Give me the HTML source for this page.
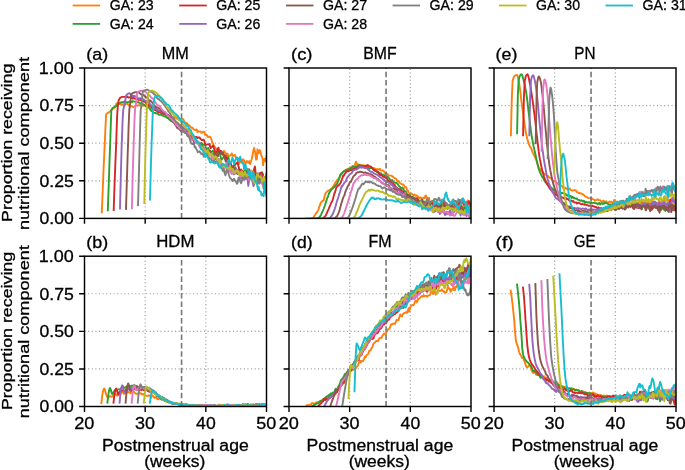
<!DOCTYPE html>
<html><head><meta charset="utf-8"><style>html,body{margin:0;padding:0;background:#fff;overflow:hidden}svg{display:block;will-change:transform}</style></head>
<body><svg width="685" height="470" viewBox="0 0 685 470" font-family="Liberation Sans, sans-serif" fill="#000">
<style>text{stroke:#000;stroke-width:0.3px}</style>
<rect width="685" height="470" fill="#fff"/>
<line x1="73.55" y1="5.5" x2="99.25" y2="5.5" stroke="#ff7f0e" stroke-width="1.8" stroke-linecap="square"/>
<text x="109.69" y="9.90" font-size="14.1" textLength="44.01" lengthAdjust="spacingAndGlyphs">GA: 23</text>
<line x1="73.55" y1="23.9" x2="99.25" y2="23.9" stroke="#2ca02c" stroke-width="1.8" stroke-linecap="square"/>
<text x="109.70" y="28.90" font-size="14.1" textLength="43.87" lengthAdjust="spacingAndGlyphs">GA: 24</text>
<line x1="180.15" y1="5.5" x2="205.85" y2="5.5" stroke="#d62728" stroke-width="1.8" stroke-linecap="square"/>
<text x="216.29" y="9.90" font-size="14.1" textLength="44.01" lengthAdjust="spacingAndGlyphs">GA: 25</text>
<line x1="180.15" y1="23.9" x2="205.85" y2="23.9" stroke="#9467bd" stroke-width="1.8" stroke-linecap="square"/>
<text x="216.29" y="28.90" font-size="14.1" textLength="44.01" lengthAdjust="spacingAndGlyphs">GA: 26</text>
<line x1="286.85" y1="5.5" x2="312.55" y2="5.5" stroke="#8c564b" stroke-width="1.8" stroke-linecap="square"/>
<text x="322.99" y="9.90" font-size="14.1" textLength="44.16" lengthAdjust="spacingAndGlyphs">GA: 27</text>
<line x1="286.85" y1="23.9" x2="312.55" y2="23.9" stroke="#e377c2" stroke-width="1.8" stroke-linecap="square"/>
<text x="322.99" y="28.90" font-size="14.1" textLength="44.01" lengthAdjust="spacingAndGlyphs">GA: 28</text>
<line x1="393.45" y1="5.5" x2="419.15" y2="5.5" stroke="#7f7f7f" stroke-width="1.8" stroke-linecap="square"/>
<text x="429.59" y="9.90" font-size="14.1" textLength="44.09" lengthAdjust="spacingAndGlyphs">GA: 29</text>
<line x1="499.95" y1="5.5" x2="525.65" y2="5.5" stroke="#bcbd22" stroke-width="1.8" stroke-linecap="square"/>
<text x="536.09" y="9.90" font-size="14.1" textLength="43.94" lengthAdjust="spacingAndGlyphs">GA: 30</text>
<line x1="606.45" y1="5.5" x2="632.15" y2="5.5" stroke="#17becf" stroke-width="1.8" stroke-linecap="square"/>
<text x="642.59" y="9.90" font-size="14.1" textLength="44.09" lengthAdjust="spacingAndGlyphs">GA: 31</text>
<clipPath id="c0"><rect x="84.5" y="68.0" width="182.0" height="150.4"/></clipPath>
<path d="M145.17 218.4V68.0M205.83 218.4V68.0M84.5 180.80H266.5M84.5 143.20H266.5M84.5 105.60H266.5" stroke="#a0a0a0" stroke-width="1.2" stroke-dasharray="1.1 2.52" fill="none"/>
<g clip-path="url(#c0)" fill="none" stroke-width="1.9" stroke-linejoin="round" stroke-linecap="square">
<path d="M101.8 212.4 L102.7 191.2 L103.5 170.8 L104.4 151.1 L104.9 140.2 L105.3 130.7 L106.1 114.6 L106.1 114.6 L107.0 113.5 L107.9 112.9 L108.7 112.4 L108.8 112.4 L109.6 111.7 L110.5 111.0 L111.3 110.3 L112.2 109.6 L112.4 108.9 L113.1 108.6 L113.9 108.3 L114.8 107.1 L115.3 107.0 L115.7 106.3 L116.5 103.5 L116.9 103.1 L117.4 103.3 L118.3 103.8 L119.1 103.8 L120.0 103.7 L120.9 104.0 L120.9 104.3 L121.7 104.5 L122.6 104.7 L123.5 104.2 L124.3 104.4 L125.1 104.8 L125.2 104.2 L126.1 103.9 L126.9 103.8 L127.8 104.1 L128.7 105.1 L129.5 105.6 L130.4 106.3 L131.3 106.4 L132.1 106.3 L132.4 106.9 L133.0 107.0 L133.9 106.7 L134.7 106.4 L135.6 105.5 L136.5 105.3 L137.3 105.7 L138.2 105.3 L139.1 105.2 L139.6 105.1 L139.9 105.3 L140.8 105.4 L141.7 105.6 L142.5 105.8 L143.4 105.6 L144.0 105.0 L144.3 105.2 L145.1 105.8 L146.0 106.1 L146.9 106.4 L147.7 107.2 L148.6 107.2 L149.5 107.1 L150.0 107.9 L150.3 108.1 L151.2 108.4 L152.1 109.0 L152.9 109.1 L153.8 109.2 L154.7 109.3 L155.0 109.3 L155.5 109.9 L156.4 110.9 L157.3 111.1 L157.6 111.1 L158.1 111.5 L159.0 112.1 L159.9 112.0 L160.7 111.8 L161.6 112.4 L162.5 113.3 L163.3 113.7 L164.2 114.1 L165.1 114.5 L165.9 114.4 L166.4 114.5 L166.8 114.5 L167.7 114.7 L168.5 115.2 L169.4 115.6 L170.3 115.7 L171.1 116.3 L172.0 117.0 L172.9 117.3 L173.7 117.3 L174.6 117.0 L175.5 117.7 L176.3 117.8 L176.3 117.7 L177.2 118.9 L178.1 119.2 L178.9 118.9 L179.8 119.2 L180.7 118.8 L181.5 118.6 L182.4 119.1 L183.3 119.2 L184.1 121.2 L184.8 122.3 L185.0 123.0 L185.9 123.9 L186.7 123.0 L187.6 124.1 L188.2 125.6 L188.5 125.2 L189.3 125.2 L190.2 126.3 L191.1 127.7 L191.9 127.7 L192.8 128.0 L193.3 129.1 L193.7 129.3 L194.5 129.6 L195.4 130.2 L196.3 129.4 L197.1 130.2 L197.5 132.2 L198.0 131.2 L198.9 131.6 L199.7 131.6 L200.6 131.5 L201.5 133.0 L202.3 132.5 L203.2 131.8 L204.1 131.8 L204.9 133.4 L205.0 134.7 L205.8 134.7 L206.7 134.8 L207.5 136.5 L208.4 137.1 L209.3 136.4 L209.7 137.1 L210.1 137.0 L211.0 137.9 L211.9 141.1 L212.7 142.9 L213.6 144.8 L214.5 147.4 L215.3 147.5 L215.5 147.5 L216.2 149.2 L217.1 149.2 L217.9 149.1 L218.8 149.2 L219.7 150.2 L219.8 153.1 L220.5 153.9 L221.4 153.0 L222.3 153.4 L223.1 151.6 L224.0 150.8 L224.9 152.2 L225.7 152.9 L226.6 155.6 L227.4 156.4 L227.5 153.6 L228.3 155.2 L229.2 155.8 L230.1 155.7 L230.9 155.2 L231.8 153.4 L232.7 155.9 L233.5 155.7 L234.4 155.6 L234.8 154.8 L235.3 155.5 L236.1 158.9 L237.0 158.2 L237.9 159.9 L238.7 163.4 L239.2 163.8 L239.6 159.5 L240.5 159.5 L241.3 162.6 L242.2 160.3 L243.1 159.3 L243.4 160.7 L243.9 160.1 L244.8 162.6 L245.7 163.6 L246.5 161.3 L247.4 161.2 L248.3 162.9 L249.1 161.2 L249.5 161.9 L250.0 164.1 L250.9 161.4 L251.7 159.2 L252.6 154.8 L253.5 150.0 L254.2 148.0 L254.3 149.6 L255.2 152.6 L256.1 159.6 L256.9 159.0 L257.4 149.3 L257.8 150.3 L258.7 153.4 L259.5 151.2 L259.8 150.1 L260.4 151.6 L261.3 155.4 L262.1 156.9 L262.9 160.4 L263.0 165.3 L263.9 160.7 L264.7 158.8 L265.6 161.2 L266.5 157.8 L266.5 156.7" stroke="#ff7f0e"/>
<path d="M107.8 210.3 L108.7 186.2 L109.5 161.8 L110.3 140.2 L110.4 136.7 L111.3 110.4 L111.3 110.1 L112.1 108.6 L113.0 107.9 L113.0 107.9 L113.9 107.3 L114.7 106.8 L115.3 106.5 L115.6 106.3 L116.5 105.7 L117.3 105.1 L118.2 104.5 L119.1 103.9 L119.9 102.9 L120.8 102.5 L120.9 102.4 L121.7 102.2 L122.5 102.3 L123.4 101.9 L124.3 101.5 L125.1 101.8 L125.1 102.0 L126.0 101.9 L126.9 102.1 L127.7 102.3 L128.6 102.3 L129.5 101.5 L130.3 101.3 L131.2 102.1 L132.1 102.3 L132.7 101.4 L132.9 101.0 L133.8 101.4 L134.7 101.6 L135.5 101.9 L136.4 102.3 L137.3 102.2 L138.1 102.2 L139.0 102.7 L139.6 103.0 L139.9 103.1 L140.7 103.5 L141.6 103.8 L142.5 103.8 L143.3 104.3 L144.2 104.9 L145.1 105.2 L145.9 106.5 L146.8 107.1 L146.9 107.0 L147.7 107.4 L148.5 107.4 L149.4 108.0 L150.3 109.6 L151.1 110.7 L152.0 111.2 L152.9 112.3 L153.7 112.7 L154.6 112.9 L155.0 113.0 L155.5 113.0 L156.3 113.3 L157.2 113.5 L158.1 113.8 L158.9 114.8 L159.8 114.9 L160.7 114.5 L161.5 115.0 L162.4 115.5 L163.3 115.7 L163.5 115.9 L164.1 116.2 L165.0 116.5 L165.9 116.8 L166.7 117.5 L167.6 118.1 L167.8 117.6 L168.5 118.4 L169.3 119.6 L170.2 120.3 L171.1 121.1 L171.9 121.3 L172.8 121.6 L173.7 122.4 L174.5 123.0 L175.4 123.7 L175.5 123.7 L176.3 124.2 L177.1 124.9 L178.0 125.0 L178.9 125.6 L179.7 126.3 L180.6 126.8 L181.5 127.8 L182.3 127.9 L183.2 128.4 L184.1 130.3 L184.6 130.5 L184.9 130.2 L185.8 131.1 L186.7 131.2 L187.5 131.0 L188.4 133.3 L189.3 134.2 L190.1 133.7 L191.0 135.1 L191.9 136.0 L192.7 137.0 L193.6 137.9 L193.7 138.4 L194.5 139.0 L195.3 139.0 L196.2 140.7 L197.1 142.2 L197.9 141.6 L198.8 142.4 L199.7 145.1 L200.5 144.6 L201.4 142.9 L202.3 143.7 L203.1 144.8 L204.0 144.8 L204.9 144.6 L205.7 147.0 L206.6 149.7 L207.5 148.5 L208.3 148.0 L209.2 150.5 L209.7 151.0 L210.1 151.7 L210.9 151.9 L211.8 152.0 L212.7 150.8 L213.5 151.3 L214.4 153.4 L215.3 151.6 L216.1 151.4 L217.0 153.0 L217.9 154.4 L218.0 153.3 L218.7 150.8 L219.6 151.4 L220.5 156.1 L221.3 159.9 L222.2 159.0 L223.1 157.8 L223.9 156.4 L224.6 155.9 L224.8 157.9 L225.7 159.6 L226.5 160.6 L227.4 158.5 L228.3 157.0 L229.1 160.4 L230.0 165.2 L230.9 166.9 L231.7 166.6 L232.6 166.8 L233.5 168.0 L234.3 168.1 L235.2 167.1 L236.1 169.2 L236.2 173.2 L236.9 173.0 L237.8 170.2 L238.7 169.0 L239.5 169.4 L240.4 170.7 L241.3 169.6 L242.1 172.1 L243.0 175.0 L243.9 171.9 L244.7 171.0 L245.6 171.3 L246.5 168.1 L247.3 172.3 L248.2 174.9 L248.3 170.7 L249.1 171.4 L249.9 175.5 L250.8 174.8 L251.7 173.2 L252.5 175.9 L253.4 176.3 L254.3 175.6 L255.1 175.6 L256.0 178.1 L256.9 177.5 L257.7 174.9 L258.6 176.8 L259.5 178.8 L260.3 180.9 L261.2 177.5 L262.1 172.3 L262.9 173.9 L263.8 182.2 L264.7 184.5 L265.5 180.1 L266.4 178.7 L266.5 173.2" stroke="#2ca02c"/>
<path d="M113.7 210.1 L114.5 186.1 L115.4 162.9 L116.3 140.4 L116.3 140.2 L117.1 116.8 L117.5 110.1 L118.0 104.2 L118.5 101.1 L118.9 99.9 L119.7 98.3 L120.0 98.1 L120.6 97.6 L121.5 97.1 L122.3 96.9 L122.6 96.9 L123.2 96.9 L124.1 96.9 L124.9 96.8 L125.8 96.9 L126.7 97.1 L127.0 96.7 L127.5 96.8 L128.4 97.6 L129.3 97.4 L130.1 97.3 L131.0 97.5 L131.9 98.0 L132.7 98.6 L132.8 97.9 L133.6 97.8 L134.5 98.6 L135.3 98.7 L136.2 98.7 L137.1 99.2 L137.9 99.0 L138.0 99.4 L138.8 100.0 L139.7 99.6 L140.5 99.8 L141.4 100.5 L142.3 100.8 L142.5 101.1 L143.1 101.6 L144.0 101.4 L144.9 101.8 L145.7 102.6 L146.6 103.5 L146.9 104.2 L147.5 104.1 L148.3 104.4 L149.2 105.7 L150.1 105.9 L150.9 106.2 L151.8 107.2 L152.7 108.3 L153.5 109.1 L154.4 109.4 L155.0 109.7 L155.3 110.2 L156.1 110.3 L157.0 110.7 L157.9 112.0 L158.7 112.1 L159.6 112.2 L160.5 112.5 L161.3 113.0 L162.2 113.5 L163.1 113.4 L163.9 113.8 L164.8 114.2 L165.7 114.6 L166.5 115.0 L167.4 114.9 L167.8 115.0 L168.3 115.3 L169.1 116.2 L170.0 117.3 L170.9 117.3 L171.7 118.2 L172.6 119.6 L173.5 119.8 L174.3 120.7 L175.2 122.1 L175.5 122.1 L176.1 122.3 L176.9 123.2 L177.8 123.8 L178.7 124.4 L179.5 125.1 L180.4 125.7 L181.3 126.3 L182.1 126.6 L183.0 127.6 L183.9 128.3 L184.6 129.1 L184.7 128.9 L185.6 129.1 L186.5 128.9 L187.3 129.9 L188.2 131.4 L189.1 131.7 L189.9 132.6 L190.8 134.7 L191.7 134.8 L192.5 134.1 L193.3 135.9 L193.4 136.4 L194.3 136.9 L195.1 137.4 L196.0 136.8 L196.9 137.2 L197.7 138.1 L198.6 137.4 L199.5 137.4 L200.3 138.6 L201.2 139.5 L202.1 140.2 L202.2 140.0 L202.9 139.7 L203.8 139.8 L204.7 142.5 L205.5 144.6 L206.4 144.6 L207.3 144.4 L208.1 144.4 L209.0 144.6 L209.7 143.9 L209.9 145.9 L210.7 148.2 L211.6 147.2 L212.5 146.0 L213.3 145.6 L214.2 149.0 L215.1 151.9 L215.9 151.6 L216.8 152.1 L217.7 148.9 L218.5 147.7 L218.6 150.1 L219.4 152.2 L220.3 150.9 L221.1 150.9 L222.0 154.1 L222.9 154.7 L223.7 154.4 L224.6 156.3 L224.6 156.1 L225.5 155.6 L226.3 158.6 L227.2 158.4 L227.7 161.5 L228.1 164.8 L228.9 162.3 L229.8 162.2 L230.7 163.0 L231.5 166.2 L232.4 168.5 L233.3 166.2 L234.1 165.3 L235.0 165.0 L235.9 163.8 L236.2 163.8 L236.7 162.9 L237.6 162.1 L238.5 166.6 L239.3 168.6 L240.2 170.4 L241.1 173.2 L241.9 171.0 L242.8 170.9 L243.7 173.4 L244.5 173.5 L245.4 171.7 L246.3 172.7 L247.1 174.3 L248.0 173.6 L248.3 172.4 L248.9 169.1 L249.7 170.5 L250.6 175.0 L251.5 176.3 L252.3 176.5 L253.2 175.3 L254.1 169.1 L254.9 166.4 L255.8 174.0 L256.7 177.4 L257.5 174.2 L258.4 175.9 L259.3 176.5 L260.1 173.0 L261.0 172.7 L261.9 173.1 L262.7 176.8 L263.6 178.1 L264.5 177.1 L265.3 179.7 L266.2 177.2 L266.5 174.6" stroke="#d62728"/>
<path d="M120.0 208.5 L120.9 173.1 L121.7 144.3 L121.9 140.2 L122.6 120.5 L123.2 110.1 L123.5 108.5 L124.3 105.2 L124.8 103.2 L125.2 101.0 L126.1 95.8 L126.1 95.7 L126.9 94.6 L127.8 93.8 L128.7 93.4 L129.3 93.3 L129.5 93.3 L130.4 93.8 L131.3 95.3 L132.1 96.2 L132.8 96.1 L133.0 95.9 L133.9 96.0 L134.7 95.9 L135.6 96.6 L136.5 96.9 L136.7 96.8 L137.3 97.1 L138.2 98.2 L139.1 98.9 L139.9 98.2 L140.8 98.3 L141.2 98.6 L141.7 98.4 L142.5 98.7 L143.4 99.4 L144.3 100.1 L145.1 100.6 L145.7 100.9 L146.0 101.0 L146.9 101.2 L147.7 101.7 L148.6 102.4 L149.5 102.8 L150.0 103.8 L150.3 104.9 L151.2 105.2 L152.1 106.0 L152.9 106.7 L153.8 107.4 L154.7 108.6 L155.0 107.7 L155.5 107.7 L156.4 109.0 L157.3 110.0 L158.1 110.2 L159.0 110.5 L159.9 110.6 L160.7 111.2 L161.6 111.6 L162.5 111.8 L163.3 112.3 L164.2 112.6 L165.1 113.5 L165.9 114.4 L166.4 114.5 L166.8 114.3 L167.7 115.0 L168.5 115.9 L169.4 116.8 L170.3 117.8 L171.1 118.6 L172.0 119.7 L172.9 120.5 L173.7 121.2 L174.6 122.1 L175.5 123.2 L175.5 123.6 L176.3 123.9 L177.2 123.9 L178.1 123.6 L178.9 125.1 L179.8 126.6 L180.7 126.3 L181.5 126.8 L182.4 127.1 L183.3 127.8 L184.1 128.8 L184.6 128.4 L185.0 129.5 L185.9 131.2 L186.7 131.8 L187.6 132.8 L188.5 133.7 L189.3 134.5 L190.2 135.5 L191.1 135.7 L191.9 136.8 L192.8 139.1 L193.7 140.9 L193.7 139.9 L194.5 140.6 L195.4 140.7 L196.3 141.9 L197.1 143.3 L198.0 141.6 L198.9 143.3 L199.7 145.4 L200.6 146.0 L201.5 146.7 L202.3 146.0 L203.2 147.2 L204.1 148.8 L204.9 148.6 L205.8 150.1 L205.8 150.7 L206.7 151.7 L207.5 152.7 L208.4 153.3 L209.3 154.9 L210.1 154.7 L211.0 154.0 L211.9 156.7 L212.7 156.2 L213.6 155.7 L214.5 158.3 L215.3 159.1 L216.2 158.8 L217.1 159.8 L217.9 162.8 L218.0 164.1 L218.8 164.4 L219.7 163.0 L220.5 163.2 L221.4 164.3 L222.3 165.2 L223.1 164.5 L224.0 164.9 L224.9 167.3 L225.7 167.0 L226.6 166.8 L227.5 166.9 L228.3 166.7 L229.2 168.6 L230.1 168.7 L230.1 170.0 L230.9 171.7 L231.8 170.9 L232.7 173.2 L233.5 174.1 L234.4 174.3 L235.3 172.1 L236.1 168.7 L237.0 173.3 L237.9 174.1 L238.7 171.0 L239.6 174.6 L240.5 178.6 L241.3 178.1 L242.2 177.3 L242.2 176.7 L243.1 175.5 L243.9 175.6 L244.8 177.2 L245.7 177.4 L246.5 173.3 L247.4 178.2 L248.3 185.9 L249.1 180.3 L250.0 176.7 L250.9 176.1 L251.7 175.7 L252.6 182.1 L253.5 186.0 L254.3 184.4 L254.4 178.3 L255.2 176.8 L256.1 180.3 L256.9 175.2 L257.8 173.2 L258.7 177.1 L259.5 178.1 L260.4 175.5 L261.3 175.3 L262.1 178.9 L263.0 179.3 L263.9 181.1 L264.7 179.5 L265.6 180.4 L266.5 181.4 L266.5 181.3" stroke="#9467bd"/>
<path d="M126.0 208.9 L126.9 180.3 L127.7 153.5 L128.2 140.2 L128.6 126.8 L129.3 110.1 L129.5 108.4 L130.3 103.2 L130.3 103.0 L131.2 94.8 L131.2 94.8 L132.1 93.6 L132.9 93.0 L133.0 93.0 L133.8 92.6 L134.7 92.3 L135.5 92.1 L136.1 92.1 L136.4 92.1 L137.3 92.1 L138.1 92.3 L139.0 92.4 L139.9 93.4 L140.7 94.1 L141.2 94.4 L141.6 94.6 L142.5 94.8 L143.3 95.3 L144.2 95.5 L145.1 96.5 L145.7 97.2 L145.9 97.1 L146.8 97.6 L147.7 98.3 L148.5 99.5 L149.4 100.7 L150.2 101.1 L150.3 100.5 L151.1 101.3 L152.0 102.2 L152.9 103.4 L153.7 104.7 L154.6 105.9 L155.0 106.1 L155.5 106.5 L156.3 107.4 L157.2 107.4 L158.1 108.0 L158.9 108.1 L159.8 108.6 L160.7 109.9 L161.5 110.9 L162.4 111.6 L163.3 111.9 L163.5 112.0 L164.1 112.4 L165.0 113.5 L165.9 113.9 L166.7 114.6 L167.6 115.4 L168.5 116.2 L169.3 117.6 L170.2 118.3 L171.1 119.2 L171.9 120.3 L172.0 120.8 L172.8 121.7 L173.7 122.4 L174.5 123.2 L175.4 125.0 L176.3 126.3 L176.3 126.4 L177.1 127.8 L178.0 128.5 L178.9 128.9 L179.7 129.4 L180.6 130.6 L181.5 131.5 L182.3 131.4 L183.2 131.6 L184.1 132.0 L184.6 132.4 L184.9 132.8 L185.8 132.2 L186.7 133.6 L187.5 135.8 L188.4 136.5 L189.3 136.0 L190.1 136.4 L191.0 138.0 L191.9 139.2 L192.7 140.2 L193.6 139.7 L193.7 140.5 L194.5 142.9 L195.3 142.6 L196.2 140.6 L197.1 141.7 L197.9 143.4 L198.8 143.1 L199.7 143.6 L200.5 143.4 L201.4 145.3 L202.3 147.3 L203.1 147.9 L204.0 150.0 L204.9 150.1 L205.7 149.3 L205.8 149.4 L206.6 150.0 L207.5 149.7 L208.3 151.2 L209.2 151.2 L210.1 150.7 L210.9 152.4 L211.8 153.5 L212.7 155.0 L213.5 154.2 L214.4 154.7 L215.3 154.5 L215.5 152.5 L216.1 154.7 L217.0 156.8 L217.9 156.4 L218.7 154.2 L219.6 153.5 L219.8 153.7 L220.5 152.9 L221.3 152.5 L222.2 152.8 L222.8 152.7 L223.1 152.7 L223.9 154.9 L224.8 157.9 L225.7 161.4 L226.5 160.5 L226.5 161.0 L227.4 164.6 L228.3 167.4 L229.1 168.7 L230.0 169.5 L230.1 167.5 L230.9 165.4 L231.7 167.3 L232.6 168.6 L233.5 168.7 L234.3 169.9 L235.2 170.9 L236.1 170.1 L236.9 173.4 L237.8 173.5 L238.7 173.1 L239.5 174.6 L240.4 173.3 L241.3 172.9 L242.1 174.7 L242.2 175.0 L243.0 179.5 L243.9 179.6 L244.7 173.3 L245.6 174.7 L246.5 175.8 L247.3 175.8 L248.2 175.4 L249.1 176.0 L249.9 176.5 L250.8 175.1 L251.7 174.3 L252.5 173.7 L253.4 173.4 L254.3 175.4 L254.4 177.8 L255.1 178.0 L256.0 178.7 L256.9 183.7 L257.7 183.5 L258.6 179.7 L259.5 180.2 L260.3 180.9 L261.2 182.4 L262.1 181.9 L262.9 184.2 L263.8 188.7 L264.7 183.2 L265.5 182.2 L266.4 187.6 L266.5 189.6" stroke="#8c564b"/>
<path d="M131.9 208.2 L132.7 175.2 L133.6 146.5 L133.8 140.2 L134.5 120.0 L135.0 110.1 L135.3 107.3 L136.1 103.2 L136.2 101.7 L137.0 93.3 L137.1 93.1 L137.9 92.0 L138.8 91.4 L139.7 91.1 L139.9 91.0 L140.5 90.9 L141.4 90.8 L142.3 90.7 L142.5 90.7 L143.1 91.2 L144.0 91.5 L144.9 91.6 L145.7 91.9 L145.7 92.1 L146.6 92.7 L147.5 93.9 L148.3 95.2 L149.2 95.1 L149.5 95.1 L150.1 96.1 L150.9 97.2 L151.8 98.0 L152.7 98.5 L153.4 99.4 L153.5 99.7 L154.4 100.9 L155.3 102.1 L156.1 103.2 L156.1 103.5 L157.0 104.8 L157.9 105.2 L158.7 105.5 L159.3 105.9 L159.6 106.2 L160.5 107.3 L161.3 108.8 L162.2 109.7 L163.1 110.8 L163.9 111.4 L164.8 111.6 L165.7 112.6 L166.5 113.8 L167.4 115.1 L167.8 115.8 L168.3 116.1 L169.1 116.8 L170.0 117.7 L170.9 118.3 L171.7 119.4 L172.6 120.4 L173.5 121.0 L174.3 122.1 L175.2 123.1 L176.1 124.5 L176.3 125.2 L176.9 125.1 L177.8 124.9 L178.7 126.2 L179.5 128.3 L180.4 129.0 L181.3 129.2 L182.1 129.9 L183.0 130.8 L183.9 130.3 L184.6 130.3 L184.7 131.4 L185.6 132.9 L186.5 133.7 L187.3 133.3 L188.2 133.0 L189.1 134.6 L189.9 137.0 L190.8 138.8 L191.7 139.7 L192.5 139.7 L193.4 139.3 L193.7 139.3 L194.3 140.0 L195.1 141.6 L196.0 142.7 L196.9 142.6 L197.7 143.1 L198.6 144.9 L199.5 146.6 L200.3 148.0 L201.2 148.5 L202.1 148.5 L202.9 148.8 L203.8 148.3 L204.7 148.4 L205.5 150.7 L205.8 152.0 L206.4 153.0 L207.3 155.2 L208.1 155.4 L209.0 155.6 L209.9 155.7 L210.7 154.8 L211.6 155.2 L212.5 158.0 L213.3 159.4 L214.2 160.4 L215.1 163.1 L215.9 162.6 L216.8 160.8 L217.7 162.0 L218.0 161.4 L218.5 158.9 L219.4 159.1 L220.3 162.6 L221.1 164.3 L222.0 164.3 L222.9 165.5 L223.7 167.2 L224.6 168.7 L225.5 165.1 L226.3 162.9 L227.2 165.1 L228.1 169.5 L228.9 171.9 L229.8 169.2 L230.1 169.0 L230.7 171.9 L231.5 173.8 L232.4 172.2 L233.3 170.1 L234.1 170.9 L235.0 171.7 L235.9 170.5 L236.7 170.2 L237.6 172.7 L238.5 172.1 L239.3 172.9 L240.2 177.4 L241.1 176.1 L241.9 174.1 L242.2 173.6 L242.8 175.5 L243.7 180.3 L244.5 179.2 L245.4 175.7 L246.3 177.0 L247.1 177.9 L248.0 177.6 L248.9 179.9 L249.7 179.2 L250.6 178.8 L251.5 180.0 L252.3 178.6 L253.2 177.2 L254.1 176.6 L254.4 177.3 L254.9 179.2 L255.8 179.0 L256.7 179.3 L257.5 179.8 L258.4 181.6 L259.3 183.4 L260.1 181.3 L261.0 181.6 L261.9 183.5 L262.7 185.0 L263.6 181.6 L264.5 180.9 L265.3 181.9 L266.2 180.8 L266.5 183.8" stroke="#e377c2"/>
<path d="M138.0 205.2 L138.9 174.1 L139.7 143.3 L139.8 140.2 L140.6 111.1 L140.7 110.1 L141.5 105.3 L141.8 103.2 L142.3 96.0 L142.7 92.1 L143.2 91.3 L144.1 90.6 L144.6 90.4 L144.9 90.3 L145.8 90.0 L146.7 89.8 L147.3 89.8 L147.5 89.8 L148.4 90.1 L149.3 90.9 L150.1 91.1 L150.8 91.6 L151.0 92.0 L151.9 92.0 L152.7 92.6 L153.6 93.8 L154.5 94.7 L154.7 94.4 L155.3 95.0 L156.2 96.4 L157.1 97.9 L157.9 99.0 L158.5 98.7 L158.8 99.0 L159.7 100.3 L160.5 100.6 L161.4 101.6 L162.3 102.4 L162.4 102.3 L163.1 103.5 L164.0 104.6 L164.9 105.6 L165.7 107.0 L166.6 108.3 L167.5 109.8 L168.3 111.2 L169.2 111.9 L170.1 113.4 L170.9 115.1 L171.8 116.6 L172.0 117.0 L172.7 117.6 L173.5 118.3 L174.4 119.4 L175.3 120.8 L176.1 121.7 L177.0 122.3 L177.9 123.2 L178.7 124.5 L179.6 124.7 L180.5 125.6 L180.5 126.5 L181.3 127.6 L182.2 128.9 L183.1 129.5 L183.9 130.8 L184.8 132.6 L184.8 132.7 L185.7 133.2 L186.5 133.4 L187.3 135.0 L187.4 135.5 L188.3 135.5 L189.1 136.8 L190.0 140.0 L190.9 142.4 L191.7 143.7 L192.6 144.0 L193.5 143.0 L194.3 145.2 L194.8 147.3 L195.2 146.7 L196.1 148.5 L196.9 149.9 L197.8 152.2 L198.7 151.9 L199.5 151.3 L200.4 152.8 L200.7 153.0 L201.3 154.0 L202.1 153.3 L203.0 154.4 L203.9 156.7 L204.7 155.0 L205.6 152.7 L206.5 153.5 L207.3 155.1 L208.2 157.0 L209.1 158.0 L209.7 158.2 L209.9 158.2 L210.8 158.6 L211.7 160.2 L212.5 161.5 L213.4 161.5 L214.3 160.5 L215.1 161.5 L216.0 162.1 L216.9 161.7 L217.7 160.5 L218.0 160.5 L218.6 165.3 L219.5 167.0 L220.3 166.3 L221.2 165.7 L222.1 169.0 L222.9 170.9 L223.8 169.1 L224.7 173.4 L225.5 175.3 L226.4 170.7 L227.1 168.9 L227.3 170.1 L228.1 172.0 L229.0 175.2 L229.9 177.8 L230.7 178.4 L231.6 179.4 L232.5 181.1 L233.3 179.5 L234.2 178.8 L235.1 180.8 L235.9 181.6 L236.2 181.5 L236.8 183.8 L237.7 182.7 L238.5 177.6 L239.4 178.5 L240.3 181.8 L241.1 183.2 L242.0 180.4 L242.9 176.8 L243.7 179.1 L244.6 175.6 L245.3 173.2 L245.5 179.3 L246.3 178.5 L247.2 175.9 L248.1 176.7 L248.9 177.1 L249.8 177.7 L250.7 178.1 L251.5 178.0 L252.4 177.0 L253.3 176.9 L254.1 181.2 L254.4 181.9 L255.0 178.2 L255.9 182.3 L256.7 182.4 L257.6 176.8 L258.5 181.8 L259.3 183.5 L260.2 181.2 L261.1 182.2 L261.9 180.0 L262.8 179.5 L263.7 184.8 L264.5 188.7 L265.4 189.6 L266.3 186.8 L266.5 185.1" stroke="#7f7f7f"/>
<path d="M144.3 203.1 L145.2 162.6 L145.8 140.2 L146.1 130.7 L146.8 110.1 L146.9 108.2 L147.3 103.2 L147.8 96.9 L148.3 92.8 L148.7 92.4 L149.5 91.5 L150.4 90.9 L151.3 90.7 L151.5 90.7 L152.1 90.8 L153.0 91.0 L153.9 91.4 L154.7 91.8 L154.7 91.8 L155.6 92.3 L156.5 93.0 L157.3 93.7 L158.2 94.5 L158.5 94.9 L159.1 95.7 L159.9 96.5 L160.8 97.6 L161.7 98.8 L162.4 99.2 L162.5 99.6 L163.4 101.7 L164.3 102.8 L165.1 103.1 L166.0 104.5 L166.9 106.9 L167.7 108.4 L167.8 107.8 L168.6 108.3 L169.5 109.9 L170.3 111.1 L171.2 111.7 L172.1 112.6 L172.9 113.8 L173.8 115.0 L174.7 115.9 L175.5 116.3 L176.3 117.0 L176.4 117.1 L177.3 117.4 L178.1 118.9 L179.0 120.3 L179.9 120.7 L180.7 121.1 L181.6 122.7 L182.5 123.9 L183.3 124.4 L184.2 126.0 L184.8 126.9 L185.1 127.0 L185.9 127.9 L186.8 128.7 L187.7 129.4 L188.5 130.5 L189.4 131.6 L190.3 133.5 L191.1 134.4 L192.0 133.8 L192.9 135.7 L193.7 138.0 L193.7 137.5 L194.6 138.2 L195.5 139.1 L196.3 140.5 L197.2 141.1 L198.1 142.0 L198.9 143.6 L199.8 144.7 L200.7 146.2 L201.5 146.6 L202.4 147.4 L203.3 149.7 L204.1 150.7 L205.0 151.4 L205.8 151.3 L205.9 152.0 L206.7 152.1 L207.6 149.9 L208.5 152.6 L209.3 155.7 L210.2 154.3 L211.1 153.5 L211.9 154.5 L212.8 155.5 L213.7 157.9 L214.5 158.1 L215.4 156.3 L216.3 157.0 L217.1 159.4 L218.0 159.9 L218.0 161.1 L218.9 164.6 L219.7 162.4 L220.6 160.8 L221.5 163.4 L222.3 166.0 L223.2 164.2 L224.1 164.5 L224.9 167.4 L225.8 166.1 L226.7 167.1 L227.5 168.1 L228.4 168.7 L229.3 168.4 L230.1 166.5 L230.1 165.7 L231.0 169.2 L231.9 169.3 L232.7 168.7 L233.6 172.4 L234.5 173.4 L235.3 172.2 L236.2 171.5 L237.1 170.3 L237.9 171.0 L238.8 173.8 L239.7 175.2 L240.5 173.3 L241.4 171.4 L242.2 171.7 L242.3 172.6 L243.1 176.2 L244.0 174.6 L244.9 171.6 L245.7 174.0 L246.6 176.3 L247.5 174.8 L248.3 174.1 L249.2 175.4 L250.1 175.5 L250.9 174.9 L251.8 170.5 L252.7 175.8 L253.5 182.0 L254.4 180.6 L254.4 183.5 L255.3 182.5 L256.1 178.3 L257.0 174.4 L257.9 174.0 L258.7 176.6 L259.6 176.9 L260.5 176.9 L261.3 178.1 L262.2 182.2 L263.1 180.4 L263.9 176.7 L264.8 180.2 L265.7 183.2 L266.5 184.2" stroke="#bcbd22"/>
<path d="M150.0 199.6 L150.9 166.4 L151.7 140.2 L151.8 139.2 L152.6 116.8 L153.0 110.1 L153.5 104.6 L153.7 103.2 L154.4 98.3 L154.6 97.6 L155.2 96.9 L156.1 96.2 L157.0 95.9 L157.3 95.8 L157.8 95.9 L158.7 96.2 L159.6 96.8 L160.4 97.5 L161.1 98.2 L161.3 97.8 L162.2 99.2 L163.0 100.2 L163.9 101.3 L164.0 101.5 L164.8 102.0 L165.6 102.9 L166.5 104.2 L167.4 104.6 L167.8 104.7 L168.2 104.9 L169.1 105.7 L170.0 107.2 L170.8 109.1 L171.7 110.3 L172.0 110.3 L172.6 110.9 L173.4 111.8 L174.3 112.8 L175.2 113.7 L176.0 114.3 L176.3 114.6 L176.9 115.1 L177.8 116.0 L178.6 117.5 L179.5 118.5 L180.4 119.3 L180.5 120.0 L181.2 120.6 L182.1 121.1 L183.0 122.0 L183.8 122.3 L184.7 122.4 L184.8 122.7 L185.6 124.3 L186.4 125.7 L187.3 126.2 L188.2 126.6 L189.0 128.1 L189.0 128.7 L189.9 129.6 L190.8 130.1 L191.6 131.9 L191.6 133.1 L192.5 134.4 L193.4 135.2 L194.2 137.3 L194.8 138.7 L195.1 137.6 L196.0 138.7 L196.8 141.7 L197.7 142.8 L198.6 142.8 L199.4 143.5 L200.3 146.6 L201.2 149.4 L202.0 149.4 L202.9 150.7 L203.8 152.4 L204.6 154.8 L205.2 157.0 L205.5 154.3 L206.4 153.8 L207.2 156.7 L208.1 158.1 L209.0 159.7 L209.7 161.0 L209.8 162.2 L210.7 162.7 L211.6 161.7 L212.4 161.8 L213.3 162.6 L214.2 163.4 L215.0 163.2 L215.9 163.0 L216.8 162.1 L217.6 162.6 L218.5 165.5 L219.4 166.7 L219.8 167.5 L220.2 167.9 L221.1 166.9 L222.0 164.4 L222.8 163.9 L223.7 164.7 L224.6 165.5 L225.4 166.0 L226.3 166.5 L227.2 165.4 L228.0 160.8 L228.9 160.1 L229.8 162.3 L230.1 164.1 L230.6 163.2 L231.5 161.3 L232.4 157.5 L233.2 159.6 L234.1 164.0 L235.0 160.8 L235.8 159.6 L236.7 157.5 L237.6 157.6 L238.0 160.0 L238.4 160.8 L239.3 159.2 L240.2 156.7 L241.0 159.7 L241.9 162.9 L242.8 162.5 L243.6 165.2 L244.1 169.2 L244.5 165.9 L245.4 164.0 L246.2 168.7 L247.1 168.8 L248.0 169.9 L248.8 174.7 L249.5 174.1 L249.7 171.2 L250.6 173.8 L251.4 179.8 L252.3 175.3 L253.2 171.7 L254.0 176.7 L254.9 180.4 L255.8 181.9 L256.6 181.6 L257.5 187.1 L258.4 190.3 L258.6 186.8 L259.2 190.1 L260.1 191.5 L261.0 192.0 L261.6 195.6 L261.8 194.0 L262.7 194.2 L263.6 196.1 L264.4 187.8 L264.7 182.0 L265.3 187.9 L266.2 195.7 L266.5 195.3" stroke="#17becf"/>
</g>
<line x1="181.57" y1="218.4" x2="181.57" y2="68.0" stroke="#777" stroke-width="1.6" stroke-dasharray="5.5 2.8"/>
<rect x="84.5" y="68.0" width="182.0" height="150.4" fill="none" stroke="#000" stroke-width="1.45"/>
<path d="M84.50 218.4v5.4M145.17 218.4v5.4M205.83 218.4v5.4M266.50 218.4v5.4M84.5 218.40h-5.4M84.5 180.80h-5.4M84.5 143.20h-5.4M84.5 105.60h-5.4M84.5 68.00h-5.4" stroke="#000" stroke-width="1.4" fill="none"/>
<text x="39.50" y="224.15" font-size="16.6" textLength="34.24" lengthAdjust="spacingAndGlyphs">0.00</text>
<text x="39.49" y="186.55" font-size="16.6" textLength="34.33" lengthAdjust="spacingAndGlyphs">0.25</text>
<text x="39.50" y="148.95" font-size="16.6" textLength="34.24" lengthAdjust="spacingAndGlyphs">0.50</text>
<text x="39.49" y="111.35" font-size="16.6" textLength="34.33" lengthAdjust="spacingAndGlyphs">0.75</text>
<text x="38.86" y="73.75" font-size="16.6" textLength="34.90" lengthAdjust="spacingAndGlyphs">1.00</text>
<text x="86.23" y="60.20" font-size="16.2" textLength="21.89" lengthAdjust="spacingAndGlyphs">(a)</text>
<text x="161.70" y="58.90" font-size="17.2" textLength="27.01" lengthAdjust="spacingAndGlyphs">MM</text>
<clipPath id="c1"><rect x="289.0" y="68.0" width="182.0" height="150.4"/></clipPath>
<path d="M349.67 218.4V68.0M410.33 218.4V68.0M289.0 180.80H471.0M289.0 143.20H471.0M289.0 105.60H471.0" stroke="#a0a0a0" stroke-width="1.2" stroke-dasharray="1.1 2.52" fill="none"/>
<g clip-path="url(#c1)" fill="none" stroke-width="1.9" stroke-linejoin="round" stroke-linecap="square">
<path d="M306.3 218.4 L307.2 218.4 L308.0 218.4 L308.9 218.4 L309.8 218.4 L310.2 218.4 L310.6 218.4 L311.5 218.3 L312.4 218.1 L313.2 217.8 L313.3 217.8 L314.1 216.6 L314.9 214.9 L315.0 214.9 L315.8 213.7 L316.7 212.6 L317.6 211.4 L318.0 210.6 L318.4 209.5 L319.3 206.6 L320.2 204.6 L320.4 203.5 L321.0 202.4 L321.9 201.7 L322.8 200.7 L323.5 200.5 L323.6 200.4 L324.5 196.8 L325.4 193.6 L326.2 192.3 L326.6 192.1 L327.1 191.5 L328.0 190.9 L328.8 190.5 L329.1 190.2 L329.7 190.0 L330.6 189.5 L331.4 188.6 L331.5 189.0 L332.3 188.3 L333.2 186.4 L334.0 185.0 L334.6 184.5 L334.9 183.6 L335.8 182.1 L336.6 180.9 L337.5 179.7 L337.7 179.6 L338.4 179.0 L339.2 177.8 L340.1 176.5 L340.8 175.0 L341.0 173.8 L341.8 172.9 L342.7 172.3 L343.6 171.7 L344.4 170.8 L344.8 170.9 L345.3 171.1 L346.2 169.7 L347.0 169.3 L347.9 169.8 L348.8 168.9 L349.2 168.2 L349.6 168.5 L350.5 167.6 L351.4 166.9 L352.2 166.2 L352.7 166.0 L353.1 166.1 L354.0 166.1 L354.8 165.4 L354.8 165.4 L355.7 162.9 L356.0 161.6 L356.6 162.9 L357.2 164.9 L357.4 164.3 L358.3 164.3 L359.2 164.6 L360.0 164.9 L360.9 164.8 L361.8 164.9 L362.6 165.7 L363.5 165.8 L364.4 165.7 L364.5 165.5 L365.2 165.6 L366.1 166.2 L367.0 166.0 L367.8 166.7 L368.7 166.9 L369.6 166.9 L370.4 167.5 L371.3 167.9 L372.2 168.0 L373.0 167.9 L373.0 167.9 L373.9 168.2 L374.8 168.6 L375.6 169.1 L376.5 169.4 L377.4 168.9 L378.2 169.6 L379.1 169.2 L380.0 168.8 L380.0 169.9 L380.8 170.4 L381.7 170.5 L382.6 170.4 L383.4 170.6 L384.3 172.0 L385.2 173.3 L386.0 173.3 L386.1 173.0 L386.9 173.8 L387.8 174.4 L388.6 175.5 L389.5 175.6 L390.4 175.6 L391.2 175.6 L391.9 175.8 L392.1 176.5 L393.0 176.7 L393.8 177.4 L394.7 178.4 L395.6 178.5 L396.4 179.3 L397.3 181.0 L398.2 181.2 L399.0 181.4 L399.4 182.7 L399.9 182.9 L400.8 183.6 L401.6 184.2 L402.5 184.5 L403.4 184.5 L404.2 185.9 L405.1 187.7 L406.0 187.0 L406.7 188.6 L406.8 189.7 L407.7 190.4 L408.6 192.4 L409.4 193.8 L410.0 194.6 L410.3 194.0 L411.2 193.4 L412.0 193.8 L412.9 194.7 L413.8 195.5 L414.6 194.6 L415.5 195.6 L415.8 195.9 L416.4 195.3 L417.2 196.0 L418.1 196.4 L419.0 197.9 L419.4 198.4 L419.8 197.8 L420.7 197.4 L421.6 198.2 L422.4 199.2 L423.3 197.6 L424.2 197.5 L425.0 198.2 L425.2 196.2 L425.9 195.5 L426.8 197.4 L427.6 198.5 L428.5 198.4 L429.0 197.7 L429.4 200.4 L430.2 202.3 L431.1 202.1 L432.0 202.6 L432.8 201.4 L433.7 202.5 L434.6 203.0 L435.4 201.9 L436.3 203.3 L437.2 205.1 L437.6 205.4 L438.0 206.3 L438.9 207.9 L439.8 208.0 L440.6 209.8 L441.5 212.2 L442.4 211.9 L443.2 209.5 L443.7 209.2 L444.1 212.9 L445.0 214.7 L445.8 213.2 L446.7 213.3 L447.6 212.8 L447.9 211.9 L448.4 213.5 L449.3 212.2 L450.2 212.2 L451.0 212.2 L451.9 212.5 L452.8 212.3 L453.6 209.1 L454.5 207.8 L455.4 209.3 L456.2 210.6 L457.1 210.0 L457.4 211.0 L458.0 212.2 L458.8 212.1 L459.7 208.3 L460.6 205.8 L461.4 207.7 L462.3 208.3 L463.2 205.7 L464.0 205.0 L464.9 205.1 L465.8 204.8 L466.6 205.3 L466.8 203.6 L467.5 200.5 L468.4 202.7 L469.2 202.7 L470.1 203.2 L471.0 205.9 L471.0 203.9" stroke="#ff7f0e"/>
<path d="M312.3 218.4 L313.2 218.4 L314.0 218.4 L314.9 218.4 L315.8 218.4 L316.6 218.4 L316.9 218.4 L317.5 218.3 L318.4 217.9 L319.2 217.3 L319.8 216.7 L320.1 216.4 L321.0 214.9 L321.8 213.0 L322.3 211.9 L322.7 211.1 L323.6 209.0 L324.4 206.8 L324.8 205.8 L325.3 204.3 L326.2 201.4 L327.0 198.7 L327.2 198.4 L327.9 196.7 L328.8 194.0 L329.6 192.2 L329.7 192.2 L330.5 191.0 L331.4 189.1 L331.5 188.9 L332.2 188.8 L333.1 188.1 L334.0 187.1 L334.6 186.8 L334.8 186.4 L335.7 185.3 L336.6 184.5 L337.4 183.2 L337.7 181.9 L338.3 180.7 L339.2 178.4 L340.0 175.6 L340.8 173.9 L340.9 174.2 L341.8 173.7 L342.6 172.6 L343.5 171.6 L344.4 170.9 L344.8 171.0 L345.2 170.4 L346.1 170.1 L347.0 169.9 L347.8 169.3 L348.7 169.2 L349.2 169.1 L349.6 168.7 L350.4 168.3 L351.3 168.1 L352.2 167.5 L353.0 166.7 L353.9 166.7 L354.8 167.0 L355.6 166.8 L356.5 166.5 L357.4 166.1 L358.2 165.6 L359.1 165.0 L360.0 165.5 L360.8 166.1 L361.1 165.9 L361.7 165.9 L362.6 166.0 L363.4 165.7 L364.3 166.0 L365.2 166.7 L366.0 167.4 L366.9 167.2 L367.8 167.3 L367.9 167.9 L368.6 168.6 L369.5 168.7 L370.4 168.0 L371.2 168.0 L372.1 168.1 L373.0 169.1 L373.8 169.9 L373.9 170.2 L374.7 170.8 L375.6 170.8 L376.4 171.5 L377.3 172.2 L378.2 172.3 L379.0 172.6 L379.9 173.3 L380.0 173.3 L380.8 173.2 L381.6 174.2 L382.5 175.1 L383.4 174.7 L384.2 175.1 L385.1 175.8 L386.0 176.4 L386.1 176.4 L386.8 176.2 L387.7 176.8 L388.6 177.8 L389.4 178.7 L390.3 180.1 L391.2 180.3 L392.0 180.0 L392.9 181.0 L393.8 182.4 L394.6 182.7 L395.5 182.6 L396.4 182.7 L397.2 183.6 L398.1 184.7 L398.2 184.7 L399.0 186.1 L399.8 186.7 L400.7 187.7 L401.6 188.9 L402.4 187.6 L403.3 188.9 L404.2 191.0 L405.0 191.1 L405.9 191.6 L406.8 193.7 L407.6 195.3 L408.5 195.1 L409.4 195.2 L410.2 195.1 L410.3 195.8 L411.1 197.5 L412.0 196.6 L412.8 196.9 L413.7 198.2 L414.6 197.8 L415.4 198.7 L416.3 198.5 L417.2 198.4 L418.0 200.6 L418.9 201.4 L419.8 201.5 L420.6 201.7 L421.5 199.9 L422.4 199.7 L422.5 202.1 L423.2 201.9 L424.1 201.5 L425.0 203.7 L425.8 204.8 L426.7 203.2 L427.6 202.6 L428.4 203.0 L429.3 203.4 L430.2 203.9 L431.0 203.3 L431.9 203.5 L432.8 204.1 L433.6 203.8 L434.5 203.5 L434.6 203.5 L435.4 202.9 L436.2 202.1 L437.1 201.9 L438.0 203.5 L438.8 205.0 L439.7 204.8 L440.6 205.2 L441.4 205.4 L442.3 202.2 L443.2 202.0 L444.0 204.8 L444.9 206.5 L445.8 206.3 L446.6 205.9 L446.7 207.6 L447.5 208.7 L448.4 207.4 L449.2 207.5 L450.1 207.2 L451.0 206.9 L451.8 207.9 L452.7 209.5 L453.6 210.3 L454.4 208.4 L455.3 207.9 L456.2 206.6 L457.0 205.5 L457.9 206.7 L458.8 207.8 L458.9 208.0 L459.6 208.5 L460.5 208.8 L461.4 207.2 L462.2 209.2 L463.1 211.1 L464.0 207.7 L464.8 207.1 L465.7 208.6 L466.6 211.1 L467.4 211.7 L468.3 209.2 L469.2 207.2 L470.0 208.5 L470.9 209.9 L471.0 212.1" stroke="#2ca02c"/>
<path d="M318.2 218.4 L319.0 218.4 L319.9 218.4 L320.8 218.4 L321.6 218.4 L322.4 218.4 L322.5 218.4 L323.4 218.0 L324.2 217.3 L324.8 216.7 L325.1 216.4 L326.0 215.0 L326.8 213.2 L327.7 211.2 L328.5 209.4 L328.6 209.2 L329.4 207.2 L330.3 205.0 L331.2 202.8 L331.5 202.1 L332.0 201.6 L332.9 199.4 L333.8 195.7 L334.6 192.8 L334.6 193.5 L335.5 190.4 L336.4 187.5 L336.5 187.5 L337.2 186.5 L338.1 185.6 L339.0 185.2 L339.0 184.8 L339.8 184.0 L340.7 182.8 L341.6 180.1 L342.0 179.3 L342.4 178.0 L343.3 175.4 L343.3 176.5 L344.2 175.0 L345.0 173.4 L345.8 172.8 L345.9 172.2 L346.8 171.1 L347.6 171.2 L348.5 171.4 L349.4 170.6 L350.2 169.9 L351.1 170.2 L352.0 170.1 L352.8 169.2 L353.7 168.8 L354.6 168.4 L355.4 168.5 L356.0 168.7 L356.3 168.0 L357.2 167.8 L358.0 168.1 L358.9 167.2 L359.8 166.4 L360.6 166.4 L361.5 166.2 L362.4 166.4 L363.2 166.2 L364.1 166.2 L365.0 166.5 L365.8 166.2 L366.7 165.5 L367.6 165.0 L367.9 165.2 L368.4 165.4 L369.3 166.3 L370.2 166.5 L371.0 166.7 L371.9 167.7 L372.8 168.4 L373.6 169.7 L374.5 170.1 L375.4 170.5 L376.2 171.1 L377.1 171.3 L378.0 172.0 L378.8 173.6 L379.7 174.7 L380.0 174.7 L380.6 175.1 L381.4 175.0 L382.3 175.9 L383.2 176.7 L384.0 176.6 L384.9 177.3 L385.8 177.8 L386.1 177.7 L386.6 178.2 L387.5 179.6 L388.4 181.1 L389.2 181.4 L390.1 181.3 L391.0 182.1 L391.8 182.7 L392.7 183.3 L393.6 184.9 L394.4 184.8 L394.9 185.2 L395.3 187.0 L396.2 187.1 L397.0 187.7 L397.9 188.6 L398.8 188.9 L399.6 189.1 L400.5 190.1 L401.4 191.3 L402.2 191.2 L403.1 191.4 L403.7 192.8 L404.0 192.9 L404.8 194.2 L405.7 196.5 L406.6 196.2 L407.4 194.8 L408.3 195.6 L409.2 197.0 L409.7 196.9 L410.0 197.3 L410.9 197.8 L411.8 198.7 L412.6 198.9 L413.5 199.7 L414.4 201.3 L415.2 201.3 L416.1 199.6 L417.0 198.2 L417.8 200.3 L418.7 202.7 L419.6 202.5 L420.4 202.0 L421.3 200.8 L422.2 201.7 L422.5 203.2 L423.0 202.5 L423.9 202.6 L424.8 203.6 L425.6 203.6 L426.5 203.4 L427.4 202.6 L428.2 204.0 L429.1 204.8 L430.0 203.1 L430.8 202.1 L431.7 202.8 L432.6 204.5 L433.4 206.0 L434.3 206.9 L434.6 206.5 L435.2 205.8 L436.0 204.8 L436.9 205.5 L437.8 205.9 L438.6 206.1 L439.5 206.3 L440.4 205.9 L441.2 203.7 L442.1 200.2 L443.0 200.6 L443.8 202.3 L444.7 203.9 L445.6 203.5 L446.4 203.5 L446.7 205.6 L447.3 205.9 L448.2 207.2 L449.0 207.8 L449.9 205.2 L450.8 204.4 L451.6 205.6 L452.5 204.0 L453.4 201.8 L454.2 204.2 L455.1 206.1 L456.0 204.4 L456.8 203.4 L457.7 203.5 L458.6 205.2 L458.9 202.3 L459.4 200.2 L460.3 205.0 L461.2 202.0 L462.0 199.7 L462.9 203.1 L463.8 204.4 L464.6 202.7 L465.5 204.0 L466.4 206.9 L467.2 206.1 L468.1 203.0 L469.0 201.0 L469.8 204.6 L470.7 205.4 L471.0 206.9" stroke="#d62728"/>
<path d="M324.5 218.4 L325.4 218.4 L326.2 218.4 L327.1 218.4 L328.0 218.4 L328.4 218.4 L328.8 218.3 L329.7 217.9 L330.6 217.1 L330.9 216.7 L331.4 216.2 L332.3 214.8 L333.2 213.0 L334.0 210.9 L334.6 209.4 L334.9 208.6 L335.8 205.6 L336.6 202.3 L337.1 200.7 L337.5 199.5 L338.4 197.1 L339.2 194.0 L339.6 193.1 L340.1 191.5 L341.0 188.1 L341.8 185.9 L342.0 186.6 L342.7 185.6 L343.6 184.0 L344.4 182.7 L345.3 182.0 L345.8 181.7 L346.2 180.2 L347.0 178.1 L347.9 176.6 L348.8 175.7 L349.6 174.7 L350.5 173.8 L351.4 173.4 L352.2 172.4 L352.6 171.2 L353.1 170.6 L354.0 170.1 L354.8 169.7 L355.7 169.6 L356.6 169.6 L357.4 169.0 L358.3 168.0 L359.2 167.3 L360.0 167.6 L360.9 166.6 L361.1 167.1 L361.8 167.8 L362.6 166.9 L363.5 167.6 L364.4 168.0 L365.2 167.8 L366.1 168.2 L367.0 168.4 L367.8 169.2 L368.7 170.0 L369.6 170.9 L370.4 171.8 L371.3 171.8 L372.2 172.0 L373.0 172.5 L373.0 172.7 L373.9 173.3 L374.8 173.8 L375.6 174.3 L376.5 174.5 L377.4 174.9 L378.2 175.6 L379.1 176.1 L380.0 177.0 L380.8 177.4 L381.7 177.9 L382.6 178.9 L383.0 179.5 L383.4 179.2 L384.3 179.9 L385.2 181.3 L386.0 181.7 L386.9 181.7 L387.8 182.1 L388.6 182.8 L389.5 182.8 L390.4 184.0 L391.2 184.8 L392.1 184.1 L392.1 184.7 L393.0 186.4 L393.8 186.4 L394.7 187.1 L395.6 188.0 L396.4 187.7 L397.3 189.2 L398.2 190.0 L399.0 190.2 L399.9 191.5 L400.8 192.1 L401.6 192.1 L402.5 193.6 L403.4 193.9 L404.2 193.8 L404.3 193.8 L405.1 194.6 L406.0 196.3 L406.8 197.2 L407.7 197.1 L408.6 197.4 L409.4 198.5 L410.3 198.2 L411.2 198.2 L412.0 198.9 L412.9 200.1 L413.8 200.4 L414.6 200.3 L415.5 200.2 L416.4 199.7 L416.4 201.4 L417.2 202.9 L418.1 201.9 L419.0 202.1 L419.8 202.1 L420.7 203.9 L421.6 205.2 L422.4 204.5 L423.3 204.2 L424.2 204.1 L425.0 205.2 L425.9 207.6 L426.8 208.5 L427.6 207.6 L428.5 206.7 L428.5 205.8 L429.4 208.3 L430.2 209.5 L431.1 208.1 L432.0 208.9 L432.8 210.0 L433.7 212.2 L434.6 211.7 L435.4 211.2 L436.3 210.0 L437.2 208.3 L438.0 210.6 L438.9 211.8 L439.8 214.0 L440.6 212.4 L440.7 210.5 L441.5 211.3 L442.4 211.0 L443.2 211.1 L444.1 211.3 L445.0 214.9 L445.8 214.6 L446.7 211.7 L447.6 213.9 L448.4 213.9 L449.3 211.3 L450.2 210.8 L451.0 214.3 L451.9 215.2 L452.8 213.4 L452.8 213.3 L453.6 212.6 L454.5 210.3 L455.4 209.2 L456.2 210.8 L457.1 211.3 L458.0 208.4 L458.8 207.7 L459.7 211.8 L460.6 215.5 L461.4 210.5 L462.3 210.4 L463.2 214.7 L464.0 212.7 L464.9 213.3 L465.8 214.7 L466.6 215.9 L467.5 211.4 L468.4 210.8 L469.2 212.8 L470.1 211.0 L471.0 209.5 L471.0 207.4" stroke="#9467bd"/>
<path d="M330.5 218.4 L331.4 218.4 L332.2 218.4 L333.1 218.4 L333.9 218.4 L334.0 218.4 L334.8 218.1 L335.7 217.5 L336.5 216.7 L336.6 216.7 L337.4 215.4 L338.3 213.6 L339.0 211.9 L339.2 211.5 L340.0 208.5 L340.9 205.1 L341.4 203.2 L341.8 202.1 L342.6 199.4 L343.5 197.0 L343.9 196.0 L344.4 195.4 L345.2 192.3 L346.1 189.9 L347.0 188.3 L347.2 187.4 L347.8 186.4 L348.7 184.7 L349.6 182.9 L350.4 182.0 L350.9 181.8 L351.3 180.9 L352.2 178.9 L353.0 177.2 L353.9 175.7 L354.8 175.1 L355.6 174.1 L356.5 172.8 L357.4 172.5 L357.7 172.2 L358.2 172.1 L359.1 172.2 L360.0 171.6 L360.8 171.6 L361.2 172.1 L361.7 171.9 L362.6 172.1 L363.4 172.8 L364.3 172.8 L365.2 172.2 L366.0 172.8 L366.9 173.1 L367.8 173.1 L368.6 173.8 L369.5 174.3 L370.4 174.3 L371.2 174.4 L372.1 175.0 L373.0 175.8 L373.0 176.0 L373.8 176.5 L374.7 176.7 L375.6 177.3 L376.4 178.1 L377.3 178.8 L378.2 179.4 L379.0 180.2 L379.9 180.8 L380.8 181.7 L381.6 182.7 L382.5 183.1 L383.0 183.4 L383.4 183.9 L384.2 184.2 L385.1 184.5 L386.0 185.6 L386.8 186.0 L387.7 185.0 L388.6 185.1 L389.4 186.8 L390.3 187.9 L391.2 188.5 L392.0 188.6 L392.1 188.7 L392.9 188.7 L393.8 188.4 L394.6 189.4 L395.5 190.1 L396.4 189.5 L397.2 191.6 L398.1 192.8 L399.0 193.3 L399.8 193.9 L400.7 194.3 L401.6 195.8 L402.4 196.9 L403.3 196.5 L404.2 195.5 L404.3 196.5 L405.0 197.7 L405.9 197.3 L406.8 197.1 L407.6 198.4 L408.5 199.7 L409.4 200.1 L410.2 198.9 L411.1 197.4 L412.0 197.3 L412.8 198.0 L413.7 199.5 L414.6 199.3 L415.4 199.1 L416.3 201.5 L416.4 202.1 L417.2 200.9 L418.0 199.7 L418.9 200.8 L419.8 203.4 L420.6 203.6 L421.5 200.8 L422.4 201.0 L423.2 204.1 L424.1 204.0 L425.0 203.9 L425.8 205.6 L426.7 205.3 L427.6 205.5 L428.4 206.7 L428.5 207.3 L429.3 206.0 L430.2 205.1 L431.0 206.8 L431.9 207.2 L432.8 206.4 L433.6 205.9 L434.5 204.9 L435.4 202.9 L436.2 204.7 L437.1 208.1 L438.0 206.0 L438.8 204.4 L439.7 204.5 L440.6 206.0 L440.7 207.7 L441.4 207.1 L442.3 206.1 L443.2 206.0 L444.0 206.3 L444.9 206.4 L445.8 205.5 L446.6 206.7 L447.5 208.3 L448.4 206.1 L449.2 207.1 L450.1 207.9 L451.0 207.1 L451.8 209.5 L452.7 206.9 L452.8 205.9 L453.6 210.2 L454.4 209.5 L455.3 208.4 L456.2 209.2 L457.0 211.0 L457.9 210.4 L458.8 208.9 L459.6 209.5 L460.5 207.2 L461.4 206.0 L462.2 209.7 L463.1 211.0 L464.0 210.9 L464.8 209.9 L465.7 208.6 L466.6 207.2 L467.4 208.1 L468.3 208.7 L469.2 207.8 L470.0 208.7 L470.9 206.2 L471.0 207.1" stroke="#8c564b"/>
<path d="M336.4 218.4 L337.2 218.4 L338.1 218.4 L339.0 218.4 L339.8 218.4 L340.0 218.4 L340.7 218.2 L341.6 217.6 L342.4 216.9 L342.4 216.8 L343.3 215.4 L344.2 213.3 L345.0 210.8 L345.9 208.2 L346.0 207.9 L346.8 205.6 L347.6 202.9 L348.5 200.1 L349.2 197.9 L349.4 197.3 L350.2 194.6 L351.1 191.6 L352.0 189.1 L352.8 185.6 L353.7 182.9 L354.3 182.4 L354.6 182.3 L355.4 180.9 L356.3 179.4 L357.2 179.2 L358.0 178.3 L358.9 176.9 L359.8 176.4 L360.6 175.8 L361.1 175.4 L361.5 175.1 L362.4 175.4 L363.2 175.2 L364.1 174.8 L364.2 174.2 L365.0 174.3 L365.8 175.0 L366.7 175.1 L367.6 175.4 L368.4 175.3 L369.3 175.1 L370.2 175.8 L371.0 176.4 L371.9 176.9 L372.8 177.1 L373.6 178.0 L374.5 178.3 L375.4 178.1 L376.2 178.4 L376.4 178.8 L377.1 179.1 L378.0 180.0 L378.8 180.9 L379.7 180.4 L380.6 181.6 L381.4 182.8 L382.3 182.5 L383.2 182.9 L384.0 184.2 L384.9 184.8 L385.8 184.9 L386.1 184.5 L386.6 185.1 L387.5 186.0 L388.4 186.6 L389.2 188.2 L390.1 188.3 L391.0 187.8 L391.8 189.1 L392.7 189.8 L393.6 190.3 L394.4 191.1 L395.2 191.1 L395.3 190.9 L396.2 192.1 L397.0 192.7 L397.9 192.9 L398.8 193.5 L399.6 193.7 L400.5 194.0 L401.4 194.5 L402.2 195.1 L403.1 194.9 L404.0 194.8 L404.3 195.2 L404.8 196.5 L405.7 198.3 L406.6 198.7 L407.4 198.6 L408.3 199.4 L409.2 199.9 L410.0 199.7 L410.9 199.7 L411.8 200.8 L412.6 200.5 L413.5 200.5 L414.4 202.1 L415.2 203.0 L416.1 203.1 L416.4 203.6 L417.0 204.9 L417.8 204.5 L418.7 205.9 L419.6 206.5 L420.4 205.7 L421.3 203.9 L422.2 204.0 L423.0 206.8 L423.9 206.7 L424.8 207.4 L425.6 209.3 L426.5 208.3 L427.4 207.9 L428.2 209.6 L428.5 210.0 L429.1 209.7 L430.0 209.7 L430.8 209.4 L431.7 209.9 L432.6 212.0 L433.4 211.3 L434.3 210.1 L435.2 209.6 L436.0 208.6 L436.9 208.3 L437.8 211.9 L438.6 212.2 L439.5 209.8 L440.4 210.9 L440.7 211.8 L441.2 212.7 L442.1 209.8 L443.0 210.0 L443.8 211.9 L444.7 211.9 L445.6 211.9 L446.4 212.6 L447.3 212.8 L448.2 212.0 L449.0 214.0 L449.9 215.5 L450.8 215.1 L451.6 213.6 L452.5 211.8 L452.8 213.4 L453.4 215.4 L454.2 215.9 L455.1 215.6 L456.0 213.5 L456.8 212.7 L457.7 211.9 L458.6 211.7 L459.4 210.7 L460.3 211.7 L461.2 212.1 L462.0 211.8 L462.9 212.4 L463.8 212.6 L464.6 215.2 L465.5 215.1 L466.4 212.9 L467.2 213.5 L468.1 215.3 L469.0 216.2 L469.8 218.3 L470.7 216.8 L471.0 214.4" stroke="#e377c2"/>
<path d="M342.5 218.4 L343.4 218.4 L344.2 218.4 L345.1 218.4 L346.0 218.4 L346.0 218.4 L346.8 218.2 L347.7 217.6 L348.5 216.9 L348.6 216.8 L349.4 215.3 L350.3 213.1 L351.2 210.9 L351.2 210.9 L352.0 208.7 L352.9 206.3 L353.5 204.7 L353.8 203.9 L354.6 201.1 L355.5 198.2 L356.4 194.9 L357.2 192.2 L358.1 189.7 L358.5 188.8 L359.0 188.9 L359.8 188.0 L360.7 186.3 L361.6 184.7 L362.4 183.7 L363.3 183.7 L363.3 184.2 L364.2 183.5 L365.0 182.2 L365.9 181.4 L366.8 181.8 L367.6 182.2 L367.9 181.5 L368.5 181.8 L369.4 182.5 L370.2 181.8 L371.1 181.8 L372.0 182.7 L372.8 183.2 L373.7 183.3 L374.6 183.7 L375.4 184.1 L376.3 185.0 L377.2 185.4 L378.0 185.4 L378.2 186.0 L378.9 186.1 L379.8 186.1 L380.6 186.2 L381.5 187.6 L382.4 188.5 L383.2 187.8 L384.1 187.4 L385.0 187.8 L385.8 188.5 L386.7 189.1 L387.6 189.4 L387.9 189.5 L388.4 189.3 L389.3 189.9 L390.2 190.5 L391.0 189.3 L391.9 190.7 L392.8 192.0 L393.6 191.3 L394.5 192.0 L395.4 193.1 L396.2 193.9 L397.1 194.0 L398.0 194.5 L398.2 194.7 L398.8 194.8 L399.7 194.7 L400.6 194.0 L401.4 195.5 L402.3 196.8 L403.2 196.5 L404.0 195.9 L404.9 196.6 L405.8 199.0 L406.6 199.0 L407.5 199.6 L408.4 200.6 L409.2 199.1 L410.1 200.6 L410.3 200.4 L411.0 198.7 L411.8 200.3 L412.7 201.5 L413.6 202.7 L414.4 203.4 L415.3 201.9 L416.2 202.1 L417.0 203.1 L417.9 202.6 L418.8 202.6 L419.6 202.1 L420.5 200.5 L421.4 203.2 L422.2 203.9 L422.5 203.8 L423.1 204.5 L424.0 203.5 L424.8 204.4 L425.7 203.0 L426.6 200.1 L427.4 198.9 L428.3 201.0 L429.2 203.6 L430.0 203.5 L430.9 202.2 L431.8 201.0 L432.6 201.0 L433.5 200.7 L434.4 199.0 L435.2 199.1 L435.6 199.4 L436.1 199.3 L437.0 200.8 L437.8 200.5 L438.7 197.7 L439.6 199.1 L440.4 201.7 L441.3 202.1 L442.2 203.4 L443.0 200.8 L443.9 200.1 L444.8 201.5 L445.6 203.0 L446.5 204.1 L446.7 203.2 L447.4 205.3 L448.2 204.7 L449.1 206.0 L450.0 205.5 L450.8 203.0 L451.7 203.1 L452.6 200.3 L453.4 199.4 L454.3 201.9 L455.2 200.9 L456.0 201.0 L456.9 204.0 L457.8 202.8 L458.3 199.3 L458.6 199.4 L459.5 201.3 L460.4 200.1 L461.2 200.1 L462.1 199.0 L463.0 200.3 L463.8 203.4 L464.7 202.3 L465.6 202.1 L466.4 202.1 L467.3 204.3 L468.2 207.9 L469.0 208.2 L469.9 205.8 L470.8 204.2 L471.0 206.6" stroke="#7f7f7f"/>
<path d="M348.8 218.4 L349.7 218.4 L350.6 218.4 L351.4 218.4 L352.1 218.4 L352.3 218.4 L353.2 218.0 L354.0 217.3 L354.4 216.9 L354.9 216.3 L355.8 214.5 L356.6 212.4 L357.2 210.9 L357.5 210.3 L358.4 208.1 L359.2 205.7 L360.1 203.5 L360.3 203.1 L361.0 201.5 L361.8 200.1 L362.7 198.1 L363.6 196.3 L364.4 194.4 L365.1 193.5 L365.3 193.2 L366.2 191.7 L367.0 191.5 L367.9 190.8 L368.8 189.8 L369.6 189.9 L370.0 190.8 L370.5 190.4 L371.4 189.5 L372.2 189.7 L373.1 190.1 L374.0 190.1 L374.8 190.5 L375.7 190.9 L376.6 190.7 L377.4 190.4 L378.3 190.7 L379.2 191.3 L379.8 191.7 L380.0 191.5 L380.9 191.7 L381.8 192.1 L382.6 191.7 L383.5 192.4 L384.4 193.4 L385.2 193.7 L386.1 193.8 L387.0 194.0 L387.8 194.6 L387.9 195.0 L388.7 195.9 L389.6 195.4 L390.4 195.6 L391.3 196.2 L392.2 196.4 L393.0 196.9 L393.9 196.4 L394.8 196.7 L394.9 196.8 L395.6 197.7 L396.5 199.5 L397.4 199.0 L398.2 198.5 L399.1 199.4 L400.0 199.4 L400.8 199.8 L401.7 200.4 L402.6 199.9 L403.4 200.1 L404.3 201.1 L404.3 200.5 L405.2 200.3 L406.0 200.8 L406.9 200.2 L407.8 199.5 L408.6 199.2 L409.5 200.1 L410.4 200.2 L411.2 201.5 L412.1 202.9 L413.0 203.5 L413.8 204.7 L414.7 204.9 L415.6 204.8 L416.4 204.8 L416.4 204.5 L417.3 204.0 L418.2 205.3 L419.0 206.1 L419.9 204.2 L420.8 202.2 L421.6 203.8 L422.5 206.5 L423.4 206.3 L424.2 206.9 L425.1 208.1 L426.0 207.9 L426.8 208.8 L427.7 206.7 L428.6 205.2 L429.4 207.1 L430.3 206.7 L431.2 207.3 L432.0 210.2 L432.9 212.2 L433.8 210.7 L434.0 208.2 L434.6 208.6 L435.5 207.9 L436.4 207.9 L437.2 210.9 L438.1 210.6 L439.0 209.1 L439.8 209.3 L440.7 210.4 L441.6 210.3 L442.4 207.2 L443.3 207.6 L444.2 208.8 L445.0 209.4 L445.9 208.2 L446.7 206.8 L446.8 208.7 L447.6 206.6 L448.5 206.7 L449.4 209.1 L450.2 208.2 L451.1 208.7 L452.0 208.3 L452.8 208.5 L453.7 211.2 L454.6 209.8 L455.4 208.2 L456.3 211.2 L457.2 211.4 L458.0 209.5 L458.9 213.3 L459.5 213.4 L459.8 213.1 L460.6 212.6 L461.5 210.4 L462.4 211.6 L463.2 213.6 L464.1 213.3 L465.0 209.9 L465.8 210.7 L466.7 213.4 L467.6 207.8 L468.4 208.1 L469.3 211.3 L470.2 207.5 L471.0 207.1" stroke="#bcbd22"/>
<path d="M354.5 218.4 L355.4 218.4 L356.3 218.4 L357.1 218.4 L357.6 218.4 L358.0 218.3 L358.9 218.0 L359.7 217.3 L360.3 216.9 L360.6 216.6 L361.5 215.5 L362.3 214.0 L363.2 212.3 L363.9 210.9 L364.1 210.6 L364.9 208.9 L365.8 207.0 L366.7 205.3 L367.0 204.7 L367.5 203.7 L368.4 202.2 L369.3 200.6 L370.1 199.6 L371.0 198.4 L371.5 197.8 L371.9 198.1 L372.7 197.5 L373.6 197.9 L374.5 199.2 L375.3 199.2 L376.2 198.3 L376.4 198.6 L377.1 198.9 L377.9 198.4 L378.8 198.2 L379.7 198.9 L380.0 199.3 L380.5 198.9 L381.4 199.4 L382.3 199.6 L383.1 199.4 L384.0 199.2 L384.9 199.2 L385.7 199.8 L386.6 199.8 L387.5 199.8 L387.9 200.2 L388.3 200.4 L389.2 200.1 L390.1 200.3 L390.9 200.1 L391.8 200.2 L392.7 200.6 L393.5 200.7 L394.4 201.1 L394.9 201.5 L395.3 201.6 L396.1 201.3 L397.0 201.5 L397.9 200.6 L398.7 201.2 L399.6 202.0 L400.5 202.4 L401.3 203.3 L402.2 202.6 L403.1 202.2 L403.9 202.0 L404.8 201.6 L405.7 202.1 L406.5 202.3 L407.4 202.1 L408.3 202.0 L409.1 201.5 L410.0 202.1 L410.0 201.7 L410.9 201.5 L411.7 202.7 L412.6 203.8 L413.5 203.5 L414.3 201.8 L415.2 203.1 L416.1 204.2 L416.9 204.0 L417.8 205.4 L418.7 206.1 L419.4 205.4 L419.5 205.1 L420.4 205.1 L421.3 206.1 L422.1 209.2 L423.0 208.7 L423.9 207.4 L424.7 208.3 L425.6 207.9 L426.5 207.9 L427.3 209.1 L428.2 210.9 L429.0 210.0 L429.1 209.2 L429.9 209.5 L430.8 208.1 L431.7 207.2 L432.5 206.1 L433.4 205.7 L434.3 202.7 L434.7 201.5 L435.1 204.2 L436.0 203.1 L436.9 201.7 L437.7 204.0 L438.2 204.6 L438.6 204.6 L439.5 204.1 L440.3 203.7 L441.2 201.6 L442.1 199.5 L442.3 200.6 L442.9 199.9 L443.8 199.2 L444.7 197.1 L445.5 193.5 L446.4 192.4 L446.5 193.4 L447.3 197.8 L447.9 199.6 L448.1 198.5 L449.0 201.2 L449.9 201.9 L450.7 203.1 L451.6 204.2 L452.5 201.4 L452.8 199.9 L453.3 201.9 L454.2 203.4 L455.1 204.3 L455.9 205.2 L456.8 206.6 L457.4 205.3 L457.7 207.3 L458.5 209.3 L459.4 205.7 L460.3 205.1 L461.1 203.5 L462.0 200.2 L462.2 199.3 L462.9 198.3 L463.7 199.5 L464.6 202.5 L464.9 203.0 L465.5 203.2 L466.3 207.1 L466.8 212.6 L467.2 211.5 L468.1 207.0 L468.9 208.9 L469.2 210.3 L469.8 215.5 L470.7 218.4 L471.0 215.7" stroke="#17becf"/>
</g>
<line x1="386.07" y1="218.4" x2="386.07" y2="68.0" stroke="#777" stroke-width="1.6" stroke-dasharray="5.5 2.8"/>
<rect x="289.0" y="68.0" width="182.0" height="150.4" fill="none" stroke="#000" stroke-width="1.45"/>
<path d="M289.00 218.4v5.4M349.67 218.4v5.4M410.33 218.4v5.4M471.00 218.4v5.4M289.0 218.40h-5.4M289.0 180.80h-5.4M289.0 143.20h-5.4M289.0 105.60h-5.4M289.0 68.00h-5.4" stroke="#000" stroke-width="1.4" fill="none"/>
<text x="290.99" y="60.20" font-size="16.2" textLength="21.54" lengthAdjust="spacingAndGlyphs">(c)</text>
<text x="363.23" y="58.90" font-size="17.2" textLength="33.41" lengthAdjust="spacingAndGlyphs">BMF</text>
<clipPath id="c2"><rect x="494.0" y="68.0" width="182.0" height="150.4"/></clipPath>
<path d="M554.67 218.4V68.0M615.33 218.4V68.0M494.0 180.80H676.0M494.0 143.20H676.0M494.0 105.60H676.0" stroke="#a0a0a0" stroke-width="1.2" stroke-dasharray="1.1 2.52" fill="none"/>
<g clip-path="url(#c2)" fill="none" stroke-width="1.9" stroke-linejoin="round" stroke-linecap="square">
<path d="M510.9 135.4 L511.6 105.6 L511.8 99.2 L512.6 80.9 L512.7 80.8 L513.5 77.7 L514.4 76.1 L514.9 75.7 L515.3 75.4 L516.1 75.1 L517.0 74.9 L517.1 74.9 L517.9 76.6 L518.7 81.0 L519.5 85.4 L519.6 86.1 L520.5 92.8 L521.3 100.5 L521.7 103.2 L522.2 107.2 L523.1 113.4 L523.7 118.1 L523.9 119.5 L524.8 125.7 L525.7 131.3 L526.0 133.0 L526.5 135.6 L527.4 139.2 L528.3 142.2 L528.6 143.2 L529.1 144.7 L530.0 146.6 L530.1 146.8 L530.9 147.8 L531.2 148.3 L531.7 149.7 L532.5 152.2 L532.6 152.4 L533.5 154.2 L534.3 155.8 L535.2 157.5 L535.7 158.5 L536.1 159.5 L536.9 162.4 L537.8 165.1 L538.7 167.7 L538.8 168.6 L539.5 168.5 L540.4 169.9 L540.7 169.5 L541.3 171.5 L542.1 171.5 L543.0 173.1 L543.9 173.5 L544.7 174.5 L545.6 173.7 L546.5 175.4 L547.3 176.4 L548.2 176.0 L548.6 176.9 L549.1 177.4 L549.9 177.7 L550.8 177.9 L551.7 179.4 L552.5 180.1 L553.4 181.7 L554.3 180.8 L555.1 181.4 L556.0 182.7 L556.9 182.8 L557.1 182.9 L557.7 183.7 L558.6 184.4 L559.5 184.9 L560.3 185.7 L561.2 185.9 L562.1 185.8 L562.9 187.8 L563.8 188.1 L564.7 187.9 L565.5 187.8 L565.6 188.6 L566.4 188.7 L567.3 189.2 L568.1 189.2 L569.0 189.4 L569.9 188.5 L570.7 189.9 L571.6 190.6 L572.5 190.5 L573.3 190.3 L574.1 190.2 L574.2 190.4 L575.1 190.1 L575.9 190.6 L576.8 192.0 L577.7 192.3 L578.5 192.8 L579.4 193.4 L580.3 193.1 L581.1 193.6 L582.0 193.8 L582.6 194.5 L582.9 194.2 L583.7 194.8 L584.6 195.8 L585.5 196.7 L586.3 196.7 L587.2 197.3 L588.1 197.8 L588.9 198.1 L589.8 198.1 L590.7 198.4 L591.1 199.5 L591.5 197.9 L592.4 199.0 L593.3 199.3 L594.1 199.8 L595.0 200.6 L595.9 200.2 L596.7 199.7 L597.6 199.3 L598.5 200.1 L599.3 200.1 L600.0 200.2 L600.2 200.3 L601.1 201.5 L601.9 201.3 L602.8 201.6 L603.7 200.5 L604.4 202.4 L604.5 201.9 L605.4 201.6 L606.3 201.3 L607.1 202.6 L608.0 202.9 L608.9 201.8 L609.7 201.5 L610.6 202.0 L611.5 201.7 L612.3 202.6 L613.2 203.5 L614.1 200.0 L614.7 200.5 L614.9 200.6 L615.8 201.5 L616.7 201.9 L617.5 201.5 L618.4 202.1 L619.3 202.8 L620.1 201.1 L621.0 203.4 L621.9 202.4 L622.7 202.1 L623.6 201.2 L624.5 203.8 L625.3 203.8 L626.2 202.9 L627.1 203.8 L627.5 205.7 L627.9 203.1 L628.8 203.4 L629.7 203.7 L630.5 204.9 L631.4 203.5 L632.3 204.3 L633.1 203.9 L634.0 202.2 L634.9 204.2 L635.7 203.7 L636.6 203.3 L637.5 204.9 L638.3 202.3 L639.2 203.0 L639.6 203.0 L640.1 202.7 L640.9 203.4 L641.8 199.9 L642.7 204.1 L643.5 202.6 L644.4 203.8 L645.3 201.7 L646.1 203.6 L647.0 200.2 L647.9 202.1 L648.7 201.3 L649.6 202.9 L650.5 203.6 L651.3 204.6 L651.7 200.1 L652.2 204.9 L653.1 206.8 L653.9 203.3 L654.8 202.1 L655.7 202.9 L656.5 202.7 L657.4 203.2 L658.3 203.4 L659.1 200.9 L660.0 202.9 L660.9 203.8 L661.7 200.7 L662.6 200.2 L663.5 203.3 L663.9 204.4 L664.3 200.7 L665.2 196.6 L666.1 198.5 L666.9 200.5 L667.8 199.3 L668.7 201.0 L669.5 202.3 L670.4 199.3 L671.3 202.2 L672.1 197.6 L673.0 201.6 L673.9 202.5 L674.7 204.4 L675.6 203.7 L676.0 199.3" stroke="#ff7f0e"/>
<path d="M517.1 133.4 L517.8 98.1 L517.9 94.0 L518.6 80.9 L518.8 79.6 L519.7 76.3 L520.1 75.5 L520.5 74.9 L521.4 74.2 L521.6 74.2 L522.3 75.3 L523.1 78.5 L523.1 78.5 L524.0 81.7 L524.9 85.5 L525.7 89.9 L526.0 91.3 L526.6 95.3 L527.5 102.2 L528.3 109.6 L529.0 115.2 L529.2 116.7 L530.1 123.9 L530.9 130.9 L531.6 135.7 L531.8 136.7 L532.7 141.6 L533.5 145.9 L534.4 149.9 L535.3 153.7 L535.3 153.7 L536.1 157.6 L537.0 161.6 L537.9 165.3 L538.7 168.7 L539.6 171.4 L540.0 172.4 L540.5 173.4 L541.3 175.2 L542.2 176.8 L543.1 177.9 L543.9 179.8 L544.8 181.1 L545.7 182.6 L546.5 182.8 L547.4 184.1 L548.3 185.4 L548.6 185.3 L549.1 186.0 L550.0 186.7 L550.9 187.4 L551.7 188.1 L552.6 188.8 L553.5 189.9 L554.3 190.5 L555.2 191.3 L556.1 191.0 L556.9 192.1 L557.1 192.4 L557.8 192.3 L558.7 192.2 L559.5 192.8 L560.4 192.5 L561.3 193.2 L562.1 193.0 L563.0 193.1 L563.9 193.5 L564.7 193.7 L565.6 194.7 L565.6 194.0 L566.5 194.5 L567.3 195.8 L568.2 195.7 L569.1 195.6 L569.9 196.2 L570.8 195.9 L571.7 197.9 L572.5 196.7 L573.4 197.5 L574.1 198.3 L574.3 197.9 L575.1 198.3 L576.0 198.7 L576.9 198.5 L577.7 199.9 L578.6 199.9 L579.5 200.2 L580.3 200.9 L581.2 200.3 L582.1 200.9 L582.9 201.4 L583.8 200.7 L584.7 202.7 L585.5 201.8 L586.4 201.9 L587.3 202.5 L588.1 202.6 L589.0 202.1 L589.9 202.7 L590.7 203.6 L591.1 202.8 L591.6 203.0 L592.5 202.9 L593.3 202.9 L594.2 202.8 L595.1 203.0 L595.9 203.4 L596.8 203.3 L597.7 204.3 L598.5 203.3 L599.4 202.9 L600.3 204.4 L601.1 203.2 L602.0 203.3 L602.9 204.0 L603.7 203.3 L604.4 203.5 L604.6 203.0 L605.5 202.8 L606.3 203.1 L607.2 203.4 L608.1 204.1 L608.9 204.4 L609.8 204.4 L610.7 204.5 L611.5 204.9 L612.4 204.2 L613.3 205.1 L614.1 204.1 L615.0 205.6 L615.3 205.8 L615.9 205.0 L616.7 204.8 L617.6 204.9 L618.5 204.3 L619.3 205.2 L620.2 205.1 L621.1 205.3 L621.9 207.7 L622.8 203.2 L623.7 205.2 L624.5 205.0 L625.4 204.1 L626.3 203.8 L627.1 204.2 L627.5 205.4 L628.0 204.0 L628.9 205.0 L629.7 203.6 L630.6 203.3 L631.5 206.1 L632.3 203.2 L633.2 205.4 L634.1 207.0 L634.9 207.5 L635.8 204.8 L636.7 203.5 L637.5 205.1 L638.4 207.4 L639.3 203.2 L640.1 205.1 L641.0 205.6 L641.9 208.9 L642.7 206.9 L643.6 206.3 L644.5 206.7 L645.3 204.6 L645.7 208.1 L646.2 205.4 L647.1 203.8 L647.9 207.5 L648.8 205.7 L649.7 209.6 L650.5 210.0 L651.4 209.9 L652.3 207.5 L653.1 207.2 L654.0 207.0 L654.9 207.5 L655.7 204.6 L656.6 203.6 L657.5 208.8 L657.8 206.1 L658.3 208.8 L659.2 207.2 L660.1 209.1 L660.9 210.3 L661.8 206.3 L662.7 208.3 L663.5 209.4 L664.4 208.8 L665.3 210.9 L666.1 210.3 L667.0 208.5 L667.9 207.5 L668.7 208.6 L669.6 211.7 L670.5 207.3 L671.3 207.3 L672.2 204.2 L673.1 210.4 L673.9 208.0 L674.8 206.9 L675.7 206.8 L676.0 200.6" stroke="#2ca02c"/>
<path d="M523.1 135.4 L523.9 98.1 L524.0 95.9 L524.8 80.0 L524.9 79.9 L525.7 76.7 L526.6 74.8 L527.5 74.2 L527.5 74.2 L528.3 75.9 L529.2 80.0 L529.8 83.0 L530.1 84.3 L530.9 89.4 L531.8 95.1 L532.2 98.1 L532.7 101.1 L533.5 107.4 L534.4 114.1 L535.0 119.1 L535.3 121.2 L536.1 129.1 L537.0 137.2 L537.7 143.2 L537.9 144.6 L538.7 151.4 L539.6 157.5 L540.0 159.7 L540.5 162.1 L541.3 166.2 L542.2 170.0 L543.1 173.3 L543.9 176.3 L544.8 178.9 L545.6 180.8 L545.7 181.0 L546.5 182.8 L547.4 184.5 L548.3 186.0 L549.1 187.2 L550.0 188.8 L550.9 189.9 L551.6 190.3 L551.7 190.6 L552.6 192.0 L553.5 192.7 L554.3 193.1 L555.2 194.1 L556.1 195.3 L556.9 195.2 L557.1 195.5 L557.8 195.3 L558.7 195.8 L559.5 196.4 L560.4 196.3 L561.3 197.1 L562.1 197.5 L563.0 197.6 L563.9 198.3 L564.7 198.9 L565.6 198.7 L566.3 199.3 L566.5 198.2 L567.3 199.0 L568.2 199.2 L569.1 200.3 L569.9 200.9 L570.8 200.9 L571.7 200.6 L572.5 201.5 L573.4 201.1 L573.7 201.8 L574.3 202.5 L575.1 202.6 L576.0 202.3 L576.9 203.6 L577.7 202.8 L578.6 202.8 L579.5 203.1 L580.3 203.7 L581.2 204.3 L582.1 204.1 L582.2 203.8 L582.9 204.1 L583.8 204.4 L584.7 204.8 L585.5 204.4 L586.4 204.8 L587.3 205.4 L588.1 205.4 L589.0 205.9 L589.9 205.7 L590.7 205.8 L591.6 206.4 L592.5 205.6 L592.9 206.0 L593.3 206.3 L594.2 206.5 L595.1 207.0 L595.9 206.8 L596.8 207.7 L597.7 208.1 L598.5 207.3 L599.4 208.3 L600.3 208.1 L601.1 208.6 L601.4 208.6 L602.0 208.7 L602.9 208.7 L603.7 207.9 L604.6 208.1 L605.5 208.6 L606.3 207.5 L607.2 207.7 L608.1 208.9 L608.9 208.8 L609.8 207.8 L610.7 208.8 L611.5 209.4 L612.4 208.7 L613.3 207.4 L614.1 206.9 L615.0 209.4 L615.3 208.0 L615.9 206.7 L616.7 207.6 L617.6 207.3 L618.5 208.7 L619.3 208.8 L620.2 205.9 L621.1 207.4 L621.9 207.2 L622.8 208.7 L623.7 206.7 L624.5 206.8 L625.4 204.4 L626.3 206.5 L627.1 207.3 L628.0 206.4 L628.9 206.2 L629.7 205.9 L630.6 207.0 L631.5 206.1 L632.3 205.0 L633.2 208.4 L633.5 205.0 L634.1 209.1 L634.9 207.6 L635.8 205.9 L636.7 207.4 L637.5 205.9 L638.4 208.0 L639.3 208.0 L640.1 205.5 L641.0 207.5 L641.9 206.1 L642.7 205.5 L643.6 206.4 L644.5 206.6 L645.3 206.5 L646.2 209.9 L647.1 207.3 L647.9 207.1 L648.8 206.5 L649.7 209.1 L650.5 207.6 L651.4 206.1 L651.7 208.7 L652.3 209.4 L653.1 206.4 L654.0 204.3 L654.9 206.5 L655.7 207.6 L656.6 207.1 L657.5 208.2 L658.3 210.4 L659.2 203.2 L660.1 208.2 L660.9 207.6 L661.8 207.7 L662.7 205.8 L663.5 206.1 L664.4 206.0 L665.3 207.5 L666.1 206.8 L667.0 209.8 L667.9 206.2 L668.7 208.4 L669.6 205.7 L670.5 199.6 L671.3 212.1 L672.2 205.8 L673.1 205.3 L673.9 207.8 L674.8 210.1 L675.7 210.7 L676.0 207.6" stroke="#d62728"/>
<path d="M529.3 135.4 L530.1 98.1 L530.2 95.9 L531.0 80.0 L531.0 79.9 L531.9 76.8 L532.8 75.4 L533.1 75.2 L533.6 75.9 L534.5 79.3 L535.3 83.0 L535.4 83.7 L536.2 89.2 L537.1 95.8 L537.1 96.1 L538.0 104.6 L538.8 114.5 L539.7 124.2 L540.1 128.2 L540.6 132.5 L541.4 140.4 L542.3 147.8 L543.2 154.4 L543.7 158.2 L544.0 160.1 L544.9 165.3 L545.8 170.2 L546.6 174.6 L547.5 178.5 L548.4 181.6 L548.6 182.3 L549.2 184.1 L550.1 186.4 L551.0 188.6 L551.8 190.5 L552.7 192.3 L553.6 193.9 L554.4 195.4 L555.3 197.2 L556.2 198.5 L557.0 198.4 L557.1 198.2 L557.9 199.3 L558.8 200.2 L559.6 200.8 L560.5 201.7 L561.4 202.4 L562.2 203.0 L563.1 203.4 L564.0 203.4 L564.8 205.3 L565.6 204.6 L565.7 205.5 L566.6 205.9 L567.4 206.1 L568.3 206.8 L569.2 206.4 L570.0 207.6 L570.9 207.1 L571.8 208.0 L572.6 208.4 L573.5 208.0 L574.1 208.6 L574.4 207.8 L575.2 208.3 L576.1 208.5 L577.0 208.7 L577.8 207.8 L578.7 209.1 L579.6 208.5 L580.4 208.7 L581.3 209.2 L582.2 208.5 L583.0 208.6 L583.9 208.6 L584.8 209.6 L585.6 208.4 L586.5 209.1 L587.4 209.7 L588.2 209.7 L589.1 209.5 L590.0 210.2 L590.8 208.8 L591.1 209.3 L591.7 209.1 L592.6 209.5 L593.4 209.7 L594.3 209.7 L595.2 209.4 L596.0 210.3 L596.9 209.4 L597.8 209.9 L598.6 209.3 L599.5 208.4 L600.4 209.3 L601.2 208.0 L602.1 208.8 L603.0 208.9 L603.8 208.5 L604.7 209.6 L605.6 209.1 L606.4 209.0 L607.3 209.7 L608.2 208.4 L609.0 208.3 L609.9 208.7 L610.8 208.2 L611.6 208.1 L612.5 207.9 L613.4 206.8 L614.2 208.1 L615.1 207.6 L615.3 207.1 L616.0 208.4 L616.8 206.9 L617.7 208.8 L618.6 206.9 L619.4 208.6 L620.3 206.0 L621.2 207.4 L622.0 206.6 L622.9 207.4 L623.8 206.5 L624.6 205.5 L625.5 204.5 L626.4 205.7 L627.2 207.1 L628.1 204.6 L629.0 205.5 L629.8 205.2 L630.7 204.5 L631.6 202.5 L632.4 205.3 L633.3 203.1 L633.5 204.2 L634.2 204.1 L635.0 203.2 L635.9 202.8 L636.8 205.2 L637.6 208.0 L638.5 204.5 L639.4 206.4 L640.2 204.0 L641.1 203.6 L642.0 203.5 L642.8 204.5 L643.7 205.6 L644.6 201.9 L645.4 202.9 L646.3 204.7 L647.2 206.4 L648.0 205.9 L648.9 203.5 L649.8 204.7 L650.6 204.2 L651.5 204.7 L651.7 206.0 L652.4 201.7 L653.2 201.6 L654.1 204.7 L655.0 201.5 L655.8 202.5 L656.7 206.3 L657.6 206.6 L658.4 204.1 L659.3 202.3 L660.2 205.3 L661.0 205.0 L661.9 203.8 L662.8 202.4 L663.6 205.7 L664.5 202.5 L665.4 202.6 L666.2 205.2 L667.1 206.0 L668.0 202.5 L668.8 204.5 L669.7 211.1 L670.6 203.3 L671.4 201.8 L672.3 201.6 L673.2 197.1 L674.0 201.0 L674.9 202.7 L675.8 197.8 L676.0 204.6" stroke="#9467bd"/>
<path d="M535.7 143.2 L536.5 101.1 L536.5 98.5 L537.2 83.0 L537.4 81.5 L538.3 77.3 L538.9 76.4 L539.1 76.6 L540.0 78.7 L540.9 82.4 L541.0 83.0 L541.7 87.8 L542.6 95.9 L543.1 101.1 L543.5 104.5 L544.3 114.5 L545.2 125.0 L546.1 134.7 L546.2 135.7 L546.9 143.3 L547.8 151.6 L548.7 159.2 L549.5 165.6 L549.8 167.3 L550.4 170.7 L551.3 175.2 L552.1 179.3 L553.0 182.8 L553.9 185.9 L554.7 188.3 L554.7 188.5 L555.6 190.8 L556.5 192.9 L557.3 194.8 L558.2 196.5 L559.1 198.0 L559.9 199.3 L560.7 199.5 L560.8 200.6 L561.7 202.0 L562.5 203.0 L563.4 202.6 L564.3 203.7 L565.1 205.4 L566.0 205.5 L566.9 206.1 L567.7 206.9 L568.6 207.8 L569.5 206.7 L569.8 208.2 L570.3 207.4 L571.2 208.1 L572.1 208.9 L572.9 209.7 L573.8 208.9 L574.7 210.5 L575.5 210.7 L576.4 210.3 L577.3 210.4 L578.1 211.3 L578.9 211.0 L579.0 210.7 L579.9 211.1 L580.7 211.7 L581.6 211.5 L582.5 210.8 L583.3 210.8 L584.2 211.7 L585.1 210.9 L585.9 211.6 L586.8 211.6 L587.7 211.2 L588.5 211.5 L589.4 212.3 L590.3 211.3 L591.1 211.7 L591.1 210.2 L592.0 211.0 L592.9 211.4 L593.7 211.7 L594.6 212.9 L595.5 212.0 L596.3 211.5 L597.2 211.6 L598.1 211.8 L598.9 211.3 L599.8 211.4 L600.7 211.6 L601.5 211.9 L602.4 210.9 L603.3 211.2 L604.1 211.4 L605.0 210.8 L605.9 210.5 L606.7 211.1 L607.6 211.1 L608.5 210.3 L609.3 209.8 L610.2 208.5 L611.1 209.9 L611.9 209.3 L612.8 209.1 L613.7 209.0 L614.5 208.5 L615.3 209.6 L615.4 210.1 L616.3 209.8 L617.1 207.6 L618.0 207.4 L618.9 208.2 L619.7 208.0 L620.6 207.6 L621.5 207.3 L622.3 207.9 L623.2 207.4 L624.1 207.2 L624.9 209.6 L625.8 208.6 L626.7 205.9 L627.5 206.2 L628.4 207.5 L629.3 206.2 L630.1 205.9 L631.0 205.6 L631.9 203.3 L632.7 205.7 L633.5 205.3 L633.6 208.4 L634.5 207.1 L635.3 204.3 L636.2 205.8 L637.1 204.7 L637.9 205.7 L638.8 206.6 L639.7 205.1 L640.5 206.9 L641.4 209.3 L642.3 205.9 L643.1 205.5 L644.0 206.1 L644.9 206.9 L645.7 210.4 L646.6 206.2 L647.5 204.8 L648.3 205.5 L649.2 207.1 L650.1 211.3 L650.9 208.8 L651.7 206.0 L651.8 205.9 L652.7 207.1 L653.5 207.5 L654.4 205.6 L655.3 206.0 L656.1 208.0 L657.0 207.1 L657.9 206.5 L658.7 210.5 L659.6 212.7 L660.5 206.3 L661.3 206.8 L662.2 206.2 L663.1 207.6 L663.9 205.6 L664.8 208.8 L665.7 209.8 L666.5 207.4 L667.4 208.1 L668.3 211.8 L669.1 205.3 L670.0 204.8 L670.9 207.4 L671.7 204.8 L672.6 208.5 L673.5 209.8 L674.3 205.9 L675.2 206.5 L676.0 205.0" stroke="#8c564b"/>
<path d="M541.6 150.7 L542.4 110.1 L542.5 107.2 L543.1 89.1 L543.4 86.7 L544.2 80.2 L544.6 79.4 L545.1 80.1 L546.0 83.5 L546.2 84.5 L546.8 88.9 L547.6 95.8 L547.7 97.1 L548.6 108.4 L549.4 121.7 L550.3 134.1 L550.4 135.7 L551.2 144.4 L552.0 154.1 L552.9 162.6 L553.5 167.3 L553.8 169.5 L554.6 175.4 L555.5 180.6 L556.4 185.1 L557.1 188.3 L557.2 188.9 L558.1 192.3 L559.0 195.5 L559.8 198.4 L560.7 200.8 L561.6 202.7 L561.9 203.4 L562.4 204.1 L563.3 205.3 L564.2 206.4 L565.0 207.4 L565.9 208.2 L566.8 209.0 L567.6 209.7 L568.5 209.5 L569.4 210.5 L569.8 211.1 L570.2 211.6 L571.1 210.8 L572.0 212.4 L572.8 212.0 L573.7 212.4 L574.6 212.6 L575.4 212.0 L576.3 213.6 L577.2 212.8 L578.0 212.9 L578.9 213.2 L578.9 213.2 L579.8 212.9 L580.6 213.4 L581.5 213.4 L582.4 212.3 L583.2 212.3 L584.1 212.6 L585.0 212.7 L585.8 212.8 L586.7 213.2 L587.6 213.0 L588.4 212.8 L589.3 211.7 L590.2 212.7 L591.0 212.6 L591.1 212.7 L591.9 212.3 L592.8 211.7 L593.6 212.2 L594.5 212.5 L595.4 212.0 L596.2 211.7 L597.1 211.0 L598.0 211.9 L598.8 211.6 L599.7 210.5 L600.6 211.2 L601.4 211.0 L602.3 209.8 L603.2 209.9 L604.0 210.6 L604.9 209.7 L605.8 209.0 L606.6 207.8 L607.5 208.7 L608.4 208.0 L609.2 208.8 L610.1 207.4 L611.0 207.4 L611.8 207.3 L612.7 207.3 L613.6 207.9 L614.4 206.4 L615.3 205.6 L615.3 206.4 L616.2 204.7 L617.0 205.9 L617.9 206.0 L618.8 205.4 L619.6 207.0 L620.5 204.8 L621.4 202.2 L622.2 203.5 L623.1 202.9 L624.0 203.8 L624.8 202.5 L625.7 201.9 L626.6 203.2 L627.4 202.4 L628.3 200.0 L629.2 200.8 L630.0 198.6 L630.9 199.9 L631.8 201.3 L632.6 199.0 L633.5 202.1 L633.5 197.8 L634.4 197.4 L635.2 200.8 L636.1 194.9 L637.0 194.0 L637.8 196.7 L638.7 196.9 L639.6 191.9 L640.4 193.5 L641.3 191.6 L642.2 194.4 L643.0 191.8 L643.9 193.0 L644.8 193.7 L645.6 193.5 L646.5 191.0 L647.4 193.6 L648.2 195.5 L648.7 194.0 L649.1 191.5 L650.0 192.9 L650.8 191.1 L651.7 190.7 L652.6 190.2 L653.4 190.1 L654.3 191.2 L655.2 189.4 L656.0 188.1 L656.9 190.9 L657.8 189.5 L657.8 189.5 L658.6 187.5 L659.5 190.6 L660.4 190.1 L661.2 191.0 L662.1 190.6 L663.0 186.1 L663.8 187.0 L664.7 189.5 L665.6 188.9 L666.4 189.9 L667.3 191.2 L668.2 189.0 L669.0 188.1 L669.9 190.0 L670.8 190.4 L671.6 185.1 L672.5 183.2 L673.4 188.2 L674.2 187.9 L675.1 191.9 L676.0 189.4 L676.0 191.0" stroke="#e377c2"/>
<path d="M547.7 158.2 L548.5 125.2 L548.6 122.2 L549.2 101.1 L549.4 97.8 L550.3 88.4 L550.6 87.6 L551.2 89.3 L551.6 92.1 L552.0 94.6 L552.8 101.7 L552.9 102.1 L553.8 113.6 L554.3 122.6 L554.6 129.0 L555.3 142.9 L555.5 146.7 L556.4 161.3 L557.2 171.6 L557.2 171.7 L558.1 177.0 L559.0 181.4 L559.1 182.3 L559.8 188.7 L560.6 195.2 L560.7 195.7 L561.6 199.7 L562.4 202.8 L562.5 203.1 L563.3 205.6 L564.2 207.9 L564.8 209.1 L565.0 209.4 L565.9 210.3 L566.8 211.0 L567.6 211.6 L568.5 212.0 L568.6 212.1 L569.4 212.3 L570.2 212.6 L571.1 212.8 L572.0 213.0 L572.8 213.1 L572.9 213.4 L573.7 213.3 L574.6 213.4 L575.4 213.6 L576.3 213.4 L577.2 214.0 L578.0 213.7 L578.9 214.6 L578.9 213.7 L579.8 213.8 L580.6 214.3 L581.5 213.6 L582.4 213.6 L583.2 214.0 L584.1 213.0 L585.0 214.5 L585.8 213.9 L586.7 213.1 L587.6 212.6 L588.4 212.6 L589.3 214.0 L590.2 212.8 L591.0 212.8 L591.1 213.3 L591.9 213.7 L592.8 213.1 L593.6 213.5 L594.5 213.6 L595.4 212.6 L596.2 211.7 L597.1 211.6 L598.0 211.6 L598.8 211.0 L599.7 212.1 L600.6 211.1 L601.4 211.1 L602.3 210.9 L603.2 209.3 L604.0 210.0 L604.9 209.2 L605.8 209.3 L606.6 207.8 L607.5 208.4 L608.4 207.8 L609.2 206.1 L610.1 206.7 L611.0 205.7 L611.8 205.5 L612.7 205.6 L613.6 204.9 L614.4 204.1 L615.3 205.7 L615.3 204.1 L616.2 205.6 L617.0 203.2 L617.9 203.2 L618.8 202.8 L619.6 203.5 L620.5 201.8 L621.4 201.0 L622.2 202.5 L623.1 200.5 L624.0 203.6 L624.8 201.5 L625.7 200.9 L626.3 200.4 L626.6 198.8 L627.4 198.8 L628.3 199.4 L629.2 200.8 L630.0 196.0 L630.9 197.9 L631.8 198.1 L632.6 196.7 L633.5 196.3 L634.4 194.9 L635.2 194.6 L636.1 195.7 L637.0 194.8 L637.8 193.9 L638.7 196.1 L639.6 196.8 L640.4 193.9 L641.3 196.4 L642.2 192.6 L643.0 193.4 L643.8 195.0 L643.9 196.4 L644.8 195.8 L645.6 188.7 L646.5 193.0 L647.4 191.0 L648.2 193.1 L649.1 190.7 L650.0 191.4 L650.8 190.8 L651.7 189.9 L652.6 191.5 L653.4 192.9 L654.3 189.4 L655.2 193.4 L656.0 191.7 L656.9 188.0 L657.8 186.7 L658.6 187.6 L659.5 192.9 L660.4 186.4 L660.8 188.3 L661.2 187.6 L662.1 190.9 L663.0 189.7 L663.8 187.4 L664.7 186.8 L665.6 188.9 L666.4 190.5 L667.3 186.1 L668.2 191.8 L669.0 186.0 L669.9 189.4 L670.8 187.1 L671.6 195.2 L672.5 189.5 L673.4 184.1 L674.2 188.6 L675.1 187.7 L676.0 188.1 L676.0 187.6" stroke="#7f7f7f"/>
<path d="M554.1 173.3 L554.9 151.7 L555.0 150.7 L555.8 132.3 L555.9 131.2 L556.7 123.6 L557.1 122.1 L557.5 123.5 L558.0 126.7 L558.4 130.6 L559.2 141.7 L559.3 142.2 L560.1 150.5 L561.0 158.3 L561.3 161.2 L561.9 168.2 L562.7 178.8 L562.9 180.8 L563.6 186.5 L564.0 189.8 L564.5 193.6 L564.7 195.2 L565.3 199.6 L566.0 203.1 L566.2 203.7 L567.1 206.5 L567.9 208.4 L568.3 209.1 L568.8 209.7 L569.7 210.7 L570.5 211.5 L571.3 211.9 L571.4 212.0 L572.3 212.3 L573.1 212.7 L574.0 213.0 L574.9 213.3 L575.7 213.5 L576.6 213.7 L577.5 213.8 L578.3 213.9 L578.9 213.9 L579.2 214.4 L580.1 213.6 L580.9 214.1 L581.8 213.6 L582.7 213.5 L583.5 213.4 L584.4 214.3 L585.3 213.9 L586.1 214.0 L587.0 214.2 L587.9 213.8 L588.7 214.7 L589.6 213.4 L590.5 213.1 L591.1 214.0 L591.3 214.5 L592.2 213.9 L593.1 213.8 L593.9 214.4 L594.8 213.6 L595.7 214.5 L596.5 212.6 L597.4 212.9 L598.3 213.6 L599.1 211.7 L600.0 212.7 L600.9 212.8 L601.7 212.1 L602.6 212.2 L603.5 211.7 L604.3 211.8 L605.2 209.8 L606.1 210.6 L606.9 209.6 L607.8 210.3 L608.7 210.0 L609.5 209.3 L610.4 210.1 L611.3 209.1 L612.1 207.7 L613.0 208.9 L613.9 208.2 L614.7 206.3 L615.3 208.1 L615.6 206.3 L616.5 208.1 L617.3 206.9 L618.2 206.8 L619.1 206.2 L619.9 206.0 L620.8 205.6 L621.7 203.2 L622.5 205.5 L623.4 207.1 L624.3 203.2 L625.1 202.1 L626.0 202.9 L626.9 202.3 L627.7 204.6 L628.6 203.3 L629.5 204.1 L630.3 204.5 L631.2 202.6 L632.1 200.0 L632.9 202.9 L633.5 202.3 L633.8 202.9 L634.7 201.3 L635.5 202.5 L636.4 201.4 L637.3 200.1 L638.1 200.3 L639.0 199.5 L639.9 203.1 L640.7 200.3 L641.6 199.0 L642.5 200.3 L643.3 199.7 L644.2 200.6 L645.1 201.6 L645.9 196.9 L646.8 201.8 L647.7 200.2 L648.5 198.8 L649.4 202.3 L650.3 200.2 L651.1 199.3 L651.7 200.9 L652.0 197.9 L652.9 198.3 L653.7 199.7 L654.6 196.5 L655.5 195.7 L656.3 199.2 L657.2 198.8 L658.1 199.8 L658.9 200.4 L659.8 197.4 L660.7 197.2 L661.5 201.6 L662.4 199.9 L663.3 198.9 L664.1 196.4 L665.0 196.0 L665.9 201.9 L666.7 197.1 L667.6 198.4 L668.5 196.4 L669.3 194.4 L670.2 196.4 L671.1 193.8 L671.9 195.6 L672.8 194.6 L673.7 194.7 L674.5 198.5 L675.4 192.5 L676.0 195.3" stroke="#bcbd22"/>
<path d="M559.8 194.3 L560.7 174.1 L560.7 173.3 L561.6 160.4 L561.6 159.7 L562.4 155.3 L563.1 153.7 L563.3 153.9 L564.1 156.7 L564.2 157.1 L565.0 161.2 L565.0 161.5 L565.9 169.8 L566.6 177.2 L566.8 178.3 L567.1 180.8 L567.6 185.0 L568.2 189.8 L568.5 192.7 L568.7 194.3 L569.4 198.1 L570.2 201.7 L570.6 203.1 L571.1 204.6 L572.0 207.1 L572.8 209.0 L572.9 209.1 L573.7 210.5 L574.6 211.7 L575.4 212.6 L575.9 213.0 L576.3 213.2 L577.2 213.7 L578.0 214.0 L578.9 214.2 L578.9 214.2 L579.8 214.3 L580.6 214.4 L581.5 214.5 L582.4 214.6 L583.2 214.6 L584.1 214.7 L585.0 214.8 L585.8 214.8 L586.7 214.9 L587.6 214.7 L588.4 215.1 L589.3 215.3 L590.2 214.4 L590.9 215.3 L591.0 214.9 L591.9 214.6 L592.8 214.8 L593.6 214.1 L594.5 214.5 L595.4 214.3 L596.2 213.3 L597.1 212.5 L598.0 212.0 L598.8 211.3 L599.7 211.2 L600.6 209.8 L601.4 209.1 L602.3 209.2 L603.2 208.8 L604.0 208.9 L604.4 207.7 L604.9 208.4 L605.8 206.4 L606.6 208.1 L607.5 206.3 L608.4 206.6 L609.2 206.5 L610.1 206.1 L611.0 205.9 L611.8 205.1 L612.7 205.6 L613.6 204.7 L614.4 203.0 L615.3 203.2 L616.2 203.5 L617.0 202.3 L617.9 203.6 L618.8 202.3 L619.2 202.7 L619.6 201.9 L620.5 201.3 L621.4 203.3 L622.2 201.5 L623.1 203.0 L624.0 202.6 L624.4 203.7 L624.8 202.4 L625.7 201.7 L626.6 201.1 L627.4 201.7 L628.3 200.3 L629.2 196.6 L630.0 199.8 L630.9 199.4 L631.8 198.1 L632.6 199.3 L633.5 198.9 L634.4 197.3 L635.2 197.0 L636.1 196.7 L637.0 195.9 L637.8 196.0 L638.7 196.2 L639.0 193.1 L639.6 198.1 L640.4 193.8 L641.3 196.4 L642.2 193.8 L643.0 195.9 L643.9 194.5 L644.8 194.5 L645.6 195.2 L646.5 194.6 L647.4 194.5 L648.2 194.2 L648.7 192.0 L649.1 194.8 L650.0 194.6 L650.8 194.2 L651.7 196.0 L652.6 194.7 L653.4 195.6 L654.3 190.9 L655.2 197.0 L656.0 194.4 L656.9 193.1 L657.8 194.3 L658.1 193.1 L658.6 195.4 L659.5 193.7 L660.4 194.7 L661.2 195.3 L662.1 190.0 L662.9 192.2 L663.0 192.0 L663.8 188.6 L664.7 191.6 L665.6 193.2 L666.4 194.2 L667.3 194.9 L667.7 186.4 L668.2 197.6 L669.0 190.0 L669.9 189.4 L670.8 188.2 L671.6 185.7 L672.5 185.2 L672.5 182.8 L673.4 186.1 L674.2 186.0 L674.9 191.2 L675.1 190.5 L676.0 187.6 L676.0 188.9" stroke="#17becf"/>
</g>
<line x1="591.07" y1="218.4" x2="591.07" y2="68.0" stroke="#777" stroke-width="1.6" stroke-dasharray="5.5 2.8"/>
<rect x="494.0" y="68.0" width="182.0" height="150.4" fill="none" stroke="#000" stroke-width="1.45"/>
<path d="M494.00 218.4v5.4M554.67 218.4v5.4M615.33 218.4v5.4M676.00 218.4v5.4M494.0 218.40h-5.4M494.0 180.80h-5.4M494.0 143.20h-5.4M494.0 105.60h-5.4M494.0 68.00h-5.4" stroke="#000" stroke-width="1.4" fill="none"/>
<text x="495.63" y="60.20" font-size="16.2" textLength="21.78" lengthAdjust="spacingAndGlyphs">(e)</text>
<text x="574.28" y="58.90" font-size="17.2" textLength="21.21" lengthAdjust="spacingAndGlyphs">PN</text>
<clipPath id="c3"><rect x="84.5" y="256.2" width="182.0" height="150.3"/></clipPath>
<path d="M145.17 406.5V256.2M205.83 406.5V256.2M84.5 368.93H266.5M84.5 331.35H266.5M84.5 293.77H266.5" stroke="#a0a0a0" stroke-width="1.2" stroke-dasharray="1.1 2.52" fill="none"/>
<g clip-path="url(#c3)" fill="none" stroke-width="1.9" stroke-linejoin="round" stroke-linecap="square">
<path d="M101.4 403.2 L102.2 395.8 L103.1 390.9 L104.0 388.6 L104.2 388.5 L104.8 389.5 L105.7 392.9 L106.4 395.1 L106.6 395.3 L107.4 397.3 L108.3 397.5 L108.3 397.4 L109.2 396.6 L110.0 395.9 L110.6 396.5 L110.9 396.8 L111.8 396.6 L112.6 396.6 L113.5 395.0 L114.4 394.2 L115.2 394.4 L115.4 393.9 L116.1 394.7 L117.0 395.5 L117.8 395.6 L118.7 394.6 L119.6 393.8 L120.4 393.9 L120.9 393.4 L121.3 392.9 L122.2 392.0 L123.0 392.6 L123.9 394.0 L124.8 393.4 L125.6 392.7 L125.8 393.5 L126.5 393.2 L127.4 392.2 L128.2 392.0 L129.1 392.3 L130.0 393.0 L130.8 393.4 L130.8 392.5 L131.7 392.0 L132.6 391.8 L133.4 391.2 L134.3 391.9 L135.2 393.3 L136.0 393.7 L136.1 393.8 L136.9 393.6 L137.8 393.7 L138.6 393.7 L139.5 393.1 L140.4 393.3 L140.9 393.2 L141.2 393.8 L142.1 394.6 L143.0 393.9 L143.8 394.2 L144.7 395.4 L145.6 395.6 L146.1 395.6 L146.4 395.8 L147.3 395.8 L148.2 395.8 L149.0 395.4 L149.9 395.4 L150.8 397.4 L151.2 397.7 L151.6 396.2 L152.5 395.3 L153.4 396.5 L154.2 397.8 L155.1 397.3 L156.0 397.1 L156.3 398.0 L156.8 398.7 L157.7 399.2 L158.6 399.2 L159.4 398.1 L160.3 398.6 L161.2 399.3 L161.4 399.5 L162.0 399.8 L162.9 398.8 L163.8 400.0 L164.6 400.9 L165.5 400.4 L166.4 400.8 L166.4 400.9 L167.2 401.3 L168.1 401.7 L169.0 402.5 L169.8 402.6 L170.7 402.9 L171.6 403.5 L172.4 403.2 L172.5 402.9 L173.3 403.5 L174.2 403.9 L175.0 403.6 L175.9 403.5 L176.8 403.9 L177.6 403.9 L178.5 404.0 L179.4 404.2 L180.2 404.0 L181.1 404.4 L181.6 404.2 L182.0 404.6 L182.8 405.8 L183.7 405.5 L184.6 405.6 L185.4 405.0 L186.3 404.4 L187.2 404.8 L188.0 404.9 L188.9 405.1 L189.8 405.3 L190.6 405.7 L191.5 405.7 L192.4 405.5 L193.2 405.7 L193.7 405.6 L194.1 405.4 L195.0 405.2 L195.8 405.4 L196.7 406.2 L197.6 406.5 L198.4 405.9 L199.3 405.4 L200.2 405.5 L201.0 405.7 L201.9 406.0 L202.8 405.9 L203.6 405.8 L204.5 406.1 L205.4 405.8 L205.8 405.7 L206.2 406.2 L207.1 405.9 L208.0 405.8 L208.8 406.5 L209.7 406.3 L210.6 406.2 L211.4 405.9 L212.3 405.9 L213.2 406.1 L214.0 405.9 L214.9 405.7 L215.8 406.0 L216.6 406.4 L217.5 406.0 L218.4 405.6 L219.2 404.7 L220.1 405.0 L221.0 406.5 L221.8 406.0 L222.7 405.3 L223.6 405.2 L224.4 406.1 L225.3 406.5 L226.2 406.5 L227.0 406.5 L227.9 405.2 L228.8 405.7 L229.6 406.5 L230.5 406.5 L231.4 405.9 L232.2 405.2 L233.1 405.6 L234.0 405.7 L234.8 406.2 L235.7 405.6 L236.6 405.5 L237.4 406.5 L238.3 405.9 L239.2 406.0 L240.0 406.4 L240.9 405.8 L241.8 406.4 L242.6 406.5 L243.5 406.3 L244.4 405.9 L245.2 406.5 L246.1 406.5 L247.0 406.0 L247.8 406.4 L248.7 406.4 L249.6 406.1 L250.4 406.4 L251.3 406.4 L252.2 406.0 L253.0 404.2 L253.9 404.7 L254.8 406.5 L255.6 406.4 L256.5 405.5 L257.4 405.6 L258.2 405.8 L259.1 405.7 L260.0 405.9 L260.8 404.7 L261.7 405.5 L262.6 406.2 L263.4 404.7 L264.3 405.5 L265.2 406.5 L266.0 406.5 L266.5 406.0" stroke="#ff7f0e"/>
<path d="M107.4 402.7 L108.3 394.9 L109.2 389.8 L110.0 387.9 L110.1 387.9 L110.9 390.0 L111.8 393.6 L112.1 394.0 L112.6 393.9 L113.5 392.4 L114.4 390.9 L115.2 389.7 L115.4 390.5 L116.1 390.8 L117.0 389.9 L117.8 389.4 L118.7 389.4 L119.6 389.6 L120.4 389.0 L120.5 388.9 L121.3 388.8 L122.2 387.1 L123.0 386.3 L123.9 387.5 L124.8 387.7 L125.6 387.9 L125.8 387.1 L126.5 386.4 L127.4 387.2 L128.2 386.9 L129.1 386.1 L130.0 386.3 L130.8 386.6 L130.8 386.0 L131.7 385.6 L132.6 385.7 L133.4 385.8 L134.3 385.0 L135.2 385.5 L136.0 386.5 L136.1 386.1 L136.9 386.0 L137.8 386.8 L138.6 388.0 L139.5 387.1 L140.4 386.1 L140.9 386.6 L141.2 387.5 L142.1 387.9 L143.0 388.1 L143.8 388.3 L144.7 387.4 L145.6 386.7 L146.1 387.1 L146.4 387.2 L147.3 387.3 L148.2 388.1 L149.0 388.2 L149.9 388.5 L150.2 389.1 L150.8 389.5 L151.6 390.4 L152.5 390.7 L153.4 390.6 L154.2 391.2 L155.1 392.7 L156.0 393.7 L156.3 394.0 L156.8 394.3 L157.7 394.9 L158.6 395.5 L159.4 397.2 L160.3 397.6 L161.2 397.6 L161.4 397.5 L162.0 396.7 L162.9 398.2 L163.8 398.6 L164.6 398.7 L165.0 398.9 L165.5 399.7 L166.4 400.3 L167.2 400.3 L168.1 401.1 L169.0 401.8 L169.8 402.2 L170.7 402.5 L171.6 402.4 L171.6 402.6 L172.4 403.6 L173.3 403.5 L174.2 403.2 L175.0 403.9 L175.9 404.0 L176.8 403.8 L177.6 404.1 L178.5 404.3 L178.9 404.1 L179.4 403.7 L180.2 403.6 L181.1 404.2 L182.0 404.6 L182.8 404.2 L183.7 404.7 L184.6 405.3 L185.4 405.2 L186.3 405.1 L187.2 405.0 L187.6 405.3 L188.0 405.9 L188.9 405.8 L189.8 405.7 L190.6 406.0 L191.5 406.2 L192.4 405.8 L193.2 405.4 L194.1 405.2 L195.0 405.3 L195.8 405.8 L196.7 405.7 L197.6 405.2 L198.4 405.3 L199.3 405.7 L200.2 405.5 L201.0 405.7 L201.9 406.4 L202.8 406.5 L203.6 406.1 L204.5 405.6 L205.4 405.4 L205.8 405.6 L206.2 406.4 L207.1 406.5 L208.0 406.3 L208.8 405.6 L209.7 405.5 L210.6 405.2 L211.4 405.7 L212.3 406.5 L213.2 406.2 L214.0 405.5 L214.9 405.2 L215.8 405.9 L216.6 406.3 L217.5 406.0 L218.4 405.6 L219.2 405.9 L220.1 406.4 L221.0 405.8 L221.8 405.8 L222.7 406.4 L223.6 406.5 L224.4 406.5 L225.3 406.1 L226.2 405.8 L227.0 405.3 L227.9 405.9 L228.8 406.0 L229.6 405.9 L230.5 405.9 L231.4 405.5 L232.2 405.5 L233.1 405.4 L234.0 406.1 L234.8 406.1 L235.7 405.8 L236.2 405.9 L236.6 405.5 L237.4 405.2 L238.3 405.8 L239.2 406.5 L240.0 406.5 L240.9 406.5 L241.8 405.5 L242.6 404.4 L243.5 405.1 L244.4 405.7 L245.2 406.4 L246.1 405.6 L247.0 405.2 L247.8 406.0 L248.7 405.7 L249.6 406.5 L250.4 406.5 L251.3 405.7 L252.2 405.4 L253.0 405.5 L253.9 405.9 L254.8 405.1 L255.6 404.2 L256.5 406.2 L257.4 406.5 L258.2 404.1 L259.1 403.8 L260.0 405.1 L260.8 406.5 L261.7 406.5 L262.6 405.2 L263.4 406.5 L264.3 406.1 L265.2 405.8 L266.0 406.0 L266.5 405.2" stroke="#2ca02c"/>
<path d="M113.5 402.7 L114.4 395.2 L115.2 390.3 L116.1 388.5 L116.2 388.5 L117.0 390.6 L117.8 394.0 L118.2 394.5 L118.7 394.1 L119.6 391.7 L120.4 391.5 L120.5 391.5 L121.3 390.8 L122.2 390.6 L123.0 390.6 L123.9 390.9 L124.8 390.6 L125.6 390.4 L125.8 389.7 L126.5 389.8 L127.4 389.8 L128.2 389.1 L129.1 388.8 L130.0 389.1 L130.8 388.6 L130.8 388.8 L131.7 388.9 L132.6 388.7 L133.4 389.1 L134.3 388.9 L135.2 389.0 L136.0 388.6 L136.1 389.2 L136.9 390.2 L137.8 389.8 L138.6 389.2 L139.5 389.5 L140.4 389.6 L140.9 389.7 L141.2 390.2 L142.1 389.4 L143.0 389.6 L143.8 390.2 L144.7 390.1 L145.6 390.0 L146.1 389.5 L146.4 389.7 L147.3 390.7 L148.2 391.2 L149.0 391.5 L149.9 391.8 L150.2 391.6 L150.8 391.5 L151.6 391.3 L152.5 392.2 L153.4 392.4 L154.2 393.0 L155.1 392.9 L156.0 392.6 L156.3 393.6 L156.8 394.6 L157.7 395.4 L158.6 395.6 L159.4 396.0 L160.3 397.6 L161.2 399.2 L161.4 398.3 L162.0 397.8 L162.9 399.0 L163.8 399.3 L164.6 398.8 L165.0 398.7 L165.5 399.8 L166.4 400.5 L167.2 400.6 L168.1 401.5 L169.0 401.5 L169.8 401.8 L170.7 402.3 L171.6 402.8 L171.6 402.9 L172.4 402.9 L173.3 402.9 L174.2 403.3 L175.0 403.6 L175.9 403.5 L176.8 403.5 L177.6 403.7 L178.5 404.0 L178.9 404.2 L179.4 404.4 L180.2 404.5 L181.1 404.5 L182.0 404.3 L182.8 404.3 L183.7 404.3 L184.6 404.5 L185.4 404.7 L186.3 404.6 L187.2 405.1 L187.6 405.5 L188.0 405.4 L188.9 405.5 L189.8 405.5 L190.6 405.6 L191.5 405.3 L192.4 405.4 L193.2 405.7 L194.1 405.4 L195.0 405.4 L195.8 406.1 L196.7 406.1 L197.6 406.0 L198.4 405.9 L199.3 405.9 L200.2 405.9 L201.0 405.6 L201.9 406.1 L202.8 405.9 L203.6 405.5 L204.5 405.5 L205.4 405.6 L205.8 405.8 L206.2 405.7 L207.1 405.6 L208.0 405.6 L208.8 405.7 L209.7 405.9 L210.6 406.0 L211.4 405.9 L212.3 406.0 L213.2 406.2 L214.0 406.5 L214.9 406.5 L215.8 406.3 L216.6 406.1 L217.5 405.6 L218.4 405.4 L219.2 405.9 L220.1 406.2 L221.0 406.5 L221.8 406.5 L222.7 406.2 L223.6 405.7 L224.4 405.7 L225.3 406.3 L226.2 405.9 L227.0 404.4 L227.9 405.0 L228.8 406.5 L229.6 406.5 L230.5 406.3 L231.4 406.2 L232.2 406.3 L233.1 406.3 L234.0 406.3 L234.8 406.3 L235.7 406.5 L236.2 406.4 L236.6 406.1 L237.4 406.2 L238.3 405.8 L239.2 404.7 L240.0 405.6 L240.9 406.2 L241.8 406.5 L242.6 406.3 L243.5 405.6 L244.4 406.4 L245.2 406.1 L246.1 405.5 L247.0 404.7 L247.8 403.9 L248.7 404.8 L249.6 405.3 L250.4 405.7 L251.3 405.8 L252.2 405.9 L253.0 406.5 L253.9 405.3 L254.8 405.3 L255.6 406.1 L256.5 404.6 L257.4 404.7 L258.2 405.3 L259.1 404.9 L260.0 405.9 L260.8 405.4 L261.7 405.3 L262.6 406.5 L263.4 406.1 L264.3 405.2 L265.2 406.2 L266.0 406.5 L266.5 406.5" stroke="#d62728"/>
<path d="M119.6 402.7 L120.4 393.6 L121.3 387.6 L122.2 385.3 L122.2 385.3 L123.0 387.7 L123.9 391.7 L124.2 392.2 L124.8 392.1 L125.6 391.3 L126.5 390.7 L127.4 390.4 L128.2 389.0 L129.1 388.5 L130.0 388.0 L130.8 388.6 L130.8 388.5 L131.7 388.2 L132.6 388.5 L133.4 387.2 L134.3 386.9 L135.2 387.3 L136.0 387.7 L136.1 388.1 L136.9 387.0 L137.8 387.2 L138.6 388.7 L139.5 388.0 L140.4 387.9 L140.9 388.2 L141.2 387.9 L142.1 387.9 L143.0 388.2 L143.8 388.9 L144.7 389.1 L145.6 389.2 L146.1 388.8 L146.4 388.0 L147.3 388.7 L148.2 389.2 L149.0 389.6 L149.9 391.1 L150.2 390.7 L150.8 390.1 L151.6 390.7 L152.5 391.3 L153.4 392.5 L154.2 392.5 L155.1 392.5 L156.0 394.0 L156.3 394.7 L156.8 395.4 L157.7 395.8 L158.6 396.1 L159.4 395.9 L160.3 396.1 L161.2 397.3 L161.4 397.7 L162.0 398.0 L162.9 398.0 L163.8 399.1 L164.6 400.7 L165.0 399.9 L165.5 399.1 L166.4 399.8 L167.2 400.7 L168.1 401.8 L169.0 402.4 L169.8 402.2 L170.7 402.3 L171.6 402.7 L171.6 403.1 L172.4 403.5 L173.3 403.7 L174.2 403.5 L175.0 403.2 L175.9 403.1 L176.8 403.6 L177.6 404.0 L178.5 404.2 L178.9 404.5 L179.4 404.1 L180.2 404.1 L181.1 404.6 L182.0 404.7 L182.8 405.0 L183.7 404.8 L184.6 404.6 L185.4 405.2 L186.3 405.4 L187.2 405.2 L187.6 405.1 L188.0 405.4 L188.9 405.4 L189.8 405.4 L190.6 405.5 L191.5 405.1 L192.4 405.5 L193.2 405.8 L194.1 405.2 L195.0 405.5 L195.8 405.7 L196.7 405.6 L197.6 405.9 L198.4 406.0 L199.3 405.6 L200.2 405.2 L201.0 405.6 L201.9 406.0 L202.8 405.7 L203.6 406.0 L204.5 406.2 L205.4 406.2 L205.8 406.2 L206.2 405.5 L207.1 405.5 L208.0 405.9 L208.8 406.5 L209.7 406.5 L210.6 405.5 L211.4 405.6 L212.3 406.3 L213.2 406.5 L214.0 406.0 L214.9 406.2 L215.8 406.4 L216.6 406.1 L217.5 406.1 L218.4 406.3 L219.2 406.4 L220.1 406.3 L221.0 405.7 L221.8 405.3 L222.7 405.8 L223.6 406.1 L224.4 406.2 L225.3 405.9 L226.2 405.7 L227.0 405.6 L227.9 405.6 L228.8 405.7 L229.6 405.3 L230.5 405.7 L231.4 406.0 L232.2 406.1 L233.1 405.9 L234.0 406.1 L234.8 406.5 L235.7 406.5 L236.2 406.5 L236.6 406.5 L237.4 406.5 L238.3 405.1 L239.2 404.9 L240.0 406.3 L240.9 405.5 L241.8 405.3 L242.6 406.5 L243.5 406.2 L244.4 405.5 L245.2 404.9 L246.1 405.3 L247.0 405.5 L247.8 405.5 L248.7 406.5 L249.6 405.8 L250.4 404.4 L251.3 404.5 L252.2 405.3 L253.0 405.7 L253.9 404.7 L254.8 405.5 L255.6 405.7 L256.5 404.0 L257.4 404.7 L258.2 405.3 L259.1 404.8 L260.0 404.8 L260.8 404.9 L261.7 405.3 L262.6 406.1 L263.4 406.5 L264.3 405.3 L265.2 405.2 L266.0 406.5 L266.5 406.4" stroke="#9467bd"/>
<path d="M125.6 402.7 L126.5 392.6 L127.4 385.9 L128.2 383.4 L128.3 383.4 L129.1 386.0 L130.0 390.3 L130.3 390.9 L130.8 390.8 L131.7 390.4 L132.6 390.2 L133.4 390.0 L134.3 388.8 L135.2 388.8 L136.0 388.2 L136.1 386.8 L136.9 387.2 L137.8 387.2 L138.6 387.6 L139.5 388.4 L140.4 388.6 L140.9 388.8 L141.2 388.3 L142.1 388.1 L143.0 388.5 L143.8 387.2 L144.7 387.9 L145.6 389.2 L146.1 389.2 L146.4 388.5 L147.3 389.1 L148.2 390.0 L149.0 389.6 L149.9 389.2 L150.2 389.9 L150.8 390.9 L151.6 390.7 L152.5 391.0 L153.4 391.2 L154.2 392.2 L155.1 393.7 L156.0 394.3 L156.3 394.1 L156.8 394.9 L157.7 395.9 L158.6 396.7 L159.4 396.9 L160.3 396.5 L161.2 397.2 L161.4 398.5 L162.0 399.2 L162.9 398.5 L163.8 398.0 L164.6 399.9 L165.0 400.4 L165.5 399.9 L166.4 399.7 L167.2 400.1 L168.1 401.5 L169.0 401.8 L169.8 401.9 L170.7 402.2 L171.6 402.6 L171.6 402.7 L172.4 403.3 L173.3 403.3 L174.2 403.2 L175.0 403.8 L175.9 403.7 L176.8 403.6 L177.6 403.8 L178.5 403.9 L178.9 404.4 L179.4 404.5 L180.2 404.5 L181.1 404.5 L182.0 404.6 L182.8 404.8 L183.7 404.6 L184.6 405.1 L185.4 405.1 L186.3 404.6 L187.2 404.6 L187.6 404.7 L188.0 405.5 L188.9 405.5 L189.8 405.1 L190.6 405.6 L191.5 405.4 L192.4 405.0 L193.2 405.4 L194.1 405.7 L195.0 405.6 L195.8 405.8 L196.7 405.9 L197.6 405.9 L198.4 405.7 L199.3 405.5 L200.2 405.9 L201.0 405.9 L201.9 405.5 L202.8 405.3 L203.6 405.8 L204.5 406.1 L205.4 405.8 L205.8 406.1 L206.2 406.5 L207.1 406.3 L208.0 405.7 L208.8 406.0 L209.7 406.3 L210.6 406.2 L211.4 406.2 L212.3 406.0 L213.2 405.1 L214.0 405.2 L214.9 405.5 L215.8 405.6 L216.6 405.9 L217.5 406.1 L218.4 405.9 L219.2 406.1 L220.1 406.1 L221.0 406.0 L221.8 405.7 L222.7 405.9 L223.6 406.2 L224.4 406.1 L225.3 405.6 L226.2 405.6 L227.0 406.3 L227.9 406.3 L228.8 405.7 L229.6 405.2 L230.5 406.2 L231.4 406.5 L232.2 406.3 L233.1 406.2 L234.0 406.5 L234.8 405.9 L235.7 406.2 L236.2 406.3 L236.6 405.1 L237.4 405.4 L238.3 406.1 L239.2 406.1 L240.0 405.2 L240.9 405.2 L241.8 405.9 L242.6 404.5 L243.5 404.4 L244.4 405.3 L245.2 406.1 L246.1 406.5 L247.0 406.3 L247.8 405.4 L248.7 405.2 L249.6 405.0 L250.4 405.4 L251.3 405.6 L252.2 405.7 L253.0 405.2 L253.9 405.6 L254.8 406.5 L255.6 406.5 L256.5 405.9 L257.4 405.5 L258.2 405.2 L259.1 406.1 L260.0 406.4 L260.8 406.3 L261.7 406.5 L262.6 406.5 L263.4 404.6 L264.3 404.5 L265.2 405.8 L266.0 404.5 L266.5 405.0" stroke="#8c564b"/>
<path d="M131.7 402.7 L132.6 393.8 L133.4 387.7 L134.3 385.3 L134.4 385.3 L135.2 387.0 L136.0 389.9 L136.4 390.3 L136.9 390.2 L137.8 389.3 L138.6 387.8 L139.5 387.7 L140.4 388.1 L140.9 388.5 L141.2 388.2 L142.1 387.0 L143.0 388.0 L143.8 388.5 L144.7 387.6 L145.6 387.5 L146.1 388.7 L146.4 389.2 L147.3 389.0 L148.2 388.3 L149.0 388.6 L149.9 389.1 L150.2 389.3 L150.8 390.7 L151.6 391.7 L152.5 392.6 L153.4 392.4 L154.2 391.4 L155.1 392.6 L156.0 394.3 L156.3 394.1 L156.8 394.5 L157.7 395.2 L158.6 395.1 L159.4 395.4 L160.3 396.5 L161.2 397.2 L161.4 397.3 L162.0 398.2 L162.9 399.2 L163.8 398.8 L164.6 398.7 L165.0 399.7 L165.5 400.5 L166.4 400.7 L167.2 400.7 L168.1 401.1 L169.0 401.4 L169.8 401.7 L170.7 401.8 L171.6 402.4 L171.6 402.9 L172.4 402.7 L173.3 402.7 L174.2 403.5 L175.0 404.0 L175.9 403.8 L176.8 403.6 L177.6 403.9 L178.5 403.9 L178.9 403.8 L179.4 404.3 L180.2 404.4 L181.1 404.1 L182.0 404.2 L182.8 404.3 L183.7 404.6 L184.6 404.8 L185.4 404.9 L186.3 405.2 L187.2 405.1 L187.6 405.3 L188.0 405.9 L188.9 406.2 L189.8 406.0 L190.6 405.5 L191.5 405.3 L192.4 405.5 L193.2 405.3 L194.1 405.1 L195.0 405.4 L195.8 405.7 L196.7 406.0 L197.6 405.9 L198.4 405.6 L199.3 405.5 L200.2 405.6 L201.0 405.7 L201.9 405.5 L202.8 405.5 L203.6 405.4 L204.5 405.2 L205.4 406.0 L205.8 406.1 L206.2 405.4 L207.1 405.6 L208.0 405.7 L208.8 405.4 L209.7 405.8 L210.6 405.9 L211.4 405.6 L212.3 405.7 L213.2 405.2 L214.0 405.4 L214.9 405.6 L215.8 405.8 L216.6 406.2 L217.5 405.8 L218.4 405.7 L219.2 406.1 L220.1 406.5 L221.0 406.5 L221.8 406.4 L222.7 405.9 L223.6 405.6 L224.4 405.4 L225.3 404.9 L226.2 405.0 L227.0 406.1 L227.9 406.5 L228.8 406.2 L229.6 405.8 L230.5 405.3 L231.4 406.0 L232.2 405.4 L233.1 404.9 L234.0 405.8 L234.8 405.5 L235.7 405.9 L236.2 405.9 L236.6 405.2 L237.4 405.2 L238.3 405.2 L239.2 405.6 L240.0 406.5 L240.9 406.5 L241.8 406.2 L242.6 405.2 L243.5 405.7 L244.4 406.3 L245.2 406.5 L246.1 406.5 L247.0 405.8 L247.8 405.2 L248.7 405.3 L249.6 405.3 L250.4 405.1 L251.3 405.7 L252.2 406.5 L253.0 406.0 L253.9 405.8 L254.8 405.6 L255.6 405.4 L256.5 406.5 L257.4 406.5 L258.2 405.1 L259.1 403.8 L260.0 405.6 L260.8 406.4 L261.7 405.7 L262.6 406.0 L263.4 405.8 L264.3 404.3 L265.2 404.4 L266.0 405.5 L266.5 404.4" stroke="#e377c2"/>
<path d="M137.8 402.7 L138.6 393.5 L139.5 387.0 L140.4 384.3 L140.4 384.3 L141.2 385.3 L142.1 387.1 L142.4 387.4 L143.0 387.7 L143.8 387.2 L144.7 387.3 L145.6 389.0 L146.1 389.5 L146.4 389.2 L147.3 389.8 L148.2 389.6 L149.0 389.5 L149.9 390.0 L150.2 389.0 L150.8 389.0 L151.6 390.8 L152.5 391.6 L153.4 392.3 L154.2 393.1 L155.1 393.6 L156.0 393.6 L156.3 393.9 L156.8 395.7 L157.7 396.5 L158.6 396.3 L159.4 396.8 L160.3 398.3 L161.2 398.6 L161.4 397.7 L162.0 398.2 L162.9 398.5 L163.8 398.1 L164.6 399.3 L165.0 400.8 L165.5 400.4 L166.4 400.1 L167.2 401.1 L168.1 401.8 L169.0 401.5 L169.8 401.7 L170.7 402.1 L171.6 402.8 L171.6 403.2 L172.4 403.1 L173.3 403.2 L174.2 403.2 L175.0 403.5 L175.9 403.8 L176.8 404.0 L177.6 404.1 L178.5 404.0 L178.9 404.1 L179.4 404.3 L180.2 404.4 L181.1 404.6 L182.0 404.8 L182.8 404.7 L183.7 404.5 L184.6 405.1 L185.4 405.4 L186.3 405.3 L187.2 405.6 L187.6 405.4 L188.0 405.4 L188.9 405.8 L189.8 406.2 L190.6 406.0 L191.5 405.5 L192.4 405.9 L193.2 405.7 L194.1 405.5 L195.0 405.7 L195.8 405.4 L196.7 405.7 L197.6 406.1 L198.4 405.7 L199.3 405.7 L200.2 405.9 L201.0 405.7 L201.9 405.4 L202.8 405.8 L203.6 406.1 L204.5 406.0 L205.4 405.8 L205.8 405.6 L206.2 405.7 L207.1 406.0 L208.0 405.8 L208.8 405.6 L209.7 405.9 L210.6 405.5 L211.4 405.5 L212.3 405.9 L213.2 405.9 L214.0 406.2 L214.9 405.9 L215.8 405.8 L216.6 406.0 L217.5 405.9 L218.4 405.9 L219.2 406.0 L220.1 406.4 L221.0 406.5 L221.8 406.3 L222.7 405.8 L223.6 405.2 L224.4 405.7 L225.3 406.0 L226.2 405.3 L227.0 405.5 L227.9 406.3 L228.8 406.5 L229.6 406.5 L230.5 406.5 L231.4 406.0 L232.2 405.7 L233.1 406.2 L234.0 406.5 L234.8 406.5 L235.7 406.2 L236.2 405.6 L236.6 405.8 L237.4 406.2 L238.3 406.4 L239.2 405.8 L240.0 405.5 L240.9 406.4 L241.8 406.5 L242.6 405.9 L243.5 405.6 L244.4 404.7 L245.2 404.1 L246.1 404.5 L247.0 405.5 L247.8 405.4 L248.7 405.0 L249.6 406.2 L250.4 406.5 L251.3 405.8 L252.2 405.9 L253.0 406.2 L253.9 406.0 L254.8 406.5 L255.6 406.2 L256.5 405.0 L257.4 404.6 L258.2 404.7 L259.1 404.8 L260.0 406.5 L260.8 406.5 L261.7 403.6 L262.6 404.4 L263.4 405.3 L264.3 405.2 L265.2 405.7 L266.0 404.9 L266.5 404.2" stroke="#7f7f7f"/>
<path d="M143.8 402.7 L144.7 394.6 L145.6 388.8 L146.4 386.4 L146.5 386.4 L147.3 387.0 L148.2 388.4 L148.5 388.8 L149.0 389.2 L149.9 389.8 L150.8 390.9 L151.6 390.8 L152.5 390.9 L153.4 391.7 L154.2 393.5 L155.1 394.1 L156.0 393.4 L156.3 393.9 L156.8 395.0 L157.7 395.1 L158.6 395.4 L159.4 396.3 L160.3 397.0 L161.2 397.6 L161.4 397.7 L162.0 398.4 L162.9 399.3 L163.8 399.5 L164.6 398.6 L165.0 398.6 L165.5 400.1 L166.4 402.1 L167.2 401.4 L168.1 400.5 L169.0 401.3 L169.8 401.9 L170.7 402.5 L171.6 403.0 L171.6 403.0 L172.4 403.1 L173.3 402.7 L174.2 402.9 L175.0 403.3 L175.9 403.3 L176.8 403.5 L177.6 403.6 L178.5 403.7 L178.9 404.0 L179.4 404.1 L180.2 404.1 L181.1 404.1 L182.0 404.5 L182.8 404.6 L183.7 404.2 L184.6 404.4 L185.4 404.9 L186.3 405.0 L187.2 405.3 L187.6 405.3 L188.0 405.4 L188.9 405.5 L189.8 405.9 L190.6 405.7 L191.5 405.2 L192.4 406.2 L193.2 406.0 L194.1 405.3 L195.0 405.8 L195.8 405.9 L196.7 405.5 L197.6 405.3 L198.4 405.7 L199.3 406.3 L200.2 406.3 L201.0 406.1 L201.9 405.6 L202.8 406.0 L203.6 406.0 L204.5 405.6 L205.4 406.1 L205.8 406.3 L206.2 406.3 L207.1 406.2 L208.0 406.0 L208.8 406.0 L209.7 406.1 L210.6 406.5 L211.4 406.5 L212.3 406.2 L213.2 406.5 L214.0 406.5 L214.9 406.0 L215.8 405.6 L216.6 406.4 L217.5 406.5 L218.4 405.5 L219.2 405.6 L220.1 405.8 L221.0 405.3 L221.8 405.9 L222.7 406.2 L223.6 405.2 L224.4 404.9 L225.3 405.8 L226.2 405.8 L227.0 405.7 L227.9 405.9 L228.8 406.1 L229.6 406.2 L230.5 406.2 L231.4 406.2 L232.2 406.5 L233.1 406.0 L234.0 404.6 L234.8 404.6 L235.7 406.2 L236.2 405.8 L236.6 405.8 L237.4 406.5 L238.3 406.5 L239.2 406.5 L240.0 406.2 L240.9 405.2 L241.8 405.7 L242.6 405.4 L243.5 404.4 L244.4 404.4 L245.2 405.0 L246.1 405.5 L247.0 405.5 L247.8 405.4 L248.7 405.2 L249.6 404.7 L250.4 405.2 L251.3 405.4 L252.2 405.2 L253.0 405.5 L253.9 405.6 L254.8 405.6 L255.6 406.1 L256.5 405.7 L257.4 405.4 L258.2 405.9 L259.1 406.5 L260.0 406.5 L260.8 405.7 L261.7 405.3 L262.6 405.2 L263.4 405.9 L264.3 406.3 L265.2 406.1 L266.0 405.0 L266.5 404.4" stroke="#bcbd22"/>
<path d="M149.9 402.7 L150.8 396.3 L151.6 391.8 L152.5 390.0 L152.6 390.0 L153.4 390.6 L154.2 391.8 L154.6 392.2 L155.1 392.7 L156.0 393.0 L156.8 394.0 L157.7 394.8 L158.6 395.6 L159.4 396.6 L160.3 397.5 L161.2 398.6 L161.4 398.6 L162.0 399.3 L162.9 399.7 L163.8 399.2 L164.6 399.6 L165.0 399.5 L165.5 399.8 L166.4 400.5 L167.2 401.0 L168.1 401.1 L169.0 401.6 L169.8 401.8 L170.7 402.0 L171.6 402.3 L171.6 402.2 L172.4 403.1 L173.3 403.7 L174.2 403.2 L175.0 403.3 L175.9 404.0 L176.8 404.1 L177.6 404.1 L178.5 404.3 L178.9 404.3 L179.4 404.1 L180.2 404.4 L181.1 404.3 L182.0 404.2 L182.8 404.6 L183.7 405.3 L184.6 405.5 L185.4 405.2 L186.3 404.7 L187.2 404.6 L187.6 405.1 L188.0 405.4 L188.9 405.1 L189.8 405.2 L190.6 405.9 L191.5 405.5 L192.4 405.2 L193.2 405.4 L194.1 405.6 L195.0 405.5 L195.8 405.2 L196.7 405.5 L197.6 406.0 L198.4 406.0 L199.3 405.6 L200.2 405.9 L201.0 406.0 L201.9 406.0 L202.8 406.1 L203.6 406.0 L204.5 405.9 L205.4 406.1 L205.8 406.2 L206.2 405.9 L207.1 405.6 L208.0 405.8 L208.8 406.3 L209.7 406.2 L210.6 405.8 L211.4 405.5 L212.3 405.6 L213.2 406.1 L214.0 406.2 L214.9 405.8 L215.8 405.6 L216.6 406.2 L217.5 406.3 L218.4 405.7 L219.2 405.7 L220.1 406.1 L221.0 406.0 L221.8 405.8 L222.7 405.9 L223.6 405.5 L224.4 405.0 L225.3 405.6 L226.2 406.4 L227.0 406.5 L227.9 406.2 L228.8 404.6 L229.6 405.3 L230.5 406.5 L231.4 406.5 L232.2 406.5 L233.1 406.1 L234.0 405.5 L234.8 405.9 L235.7 405.8 L236.2 405.2 L236.6 404.9 L237.4 405.0 L238.3 405.4 L239.2 405.2 L240.0 405.6 L240.9 406.5 L241.8 406.4 L242.6 405.1 L243.5 405.4 L244.4 406.0 L245.2 406.2 L246.1 405.4 L247.0 405.6 L247.8 406.1 L248.7 405.3 L249.6 405.3 L250.4 405.3 L251.3 405.9 L252.2 406.2 L253.0 405.7 L253.9 406.5 L254.8 405.8 L255.6 405.7 L256.5 406.5 L257.4 405.8 L258.2 405.0 L259.1 405.6 L260.0 406.5 L260.8 406.5 L261.7 404.1 L262.6 404.0 L263.4 404.6 L264.3 404.3 L265.2 405.0 L266.0 406.0 L266.5 406.0" stroke="#17becf"/>
</g>
<line x1="181.57" y1="406.5" x2="181.57" y2="256.2" stroke="#777" stroke-width="1.6" stroke-dasharray="5.5 2.8"/>
<rect x="84.5" y="256.2" width="182.0" height="150.3" fill="none" stroke="#000" stroke-width="1.45"/>
<path d="M84.50 406.5v5.4M145.17 406.5v5.4M205.83 406.5v5.4M266.50 406.5v5.4M84.5 406.50h-5.4M84.5 368.93h-5.4M84.5 331.35h-5.4M84.5 293.77h-5.4M84.5 256.20h-5.4" stroke="#000" stroke-width="1.4" fill="none"/>
<text x="39.50" y="412.25" font-size="16.6" textLength="34.24" lengthAdjust="spacingAndGlyphs">0.00</text>
<text x="39.49" y="374.68" font-size="16.6" textLength="34.33" lengthAdjust="spacingAndGlyphs">0.25</text>
<text x="39.50" y="337.10" font-size="16.6" textLength="34.24" lengthAdjust="spacingAndGlyphs">0.50</text>
<text x="39.49" y="299.52" font-size="16.6" textLength="34.33" lengthAdjust="spacingAndGlyphs">0.75</text>
<text x="38.86" y="261.95" font-size="16.6" textLength="34.90" lengthAdjust="spacingAndGlyphs">1.00</text>
<text x="74.19" y="429.00" font-size="16.8" textLength="20.18" lengthAdjust="spacingAndGlyphs">20</text>
<text x="135.05" y="429.00" font-size="16.8" textLength="19.99" lengthAdjust="spacingAndGlyphs">30</text>
<text x="196.08" y="429.00" font-size="16.8" textLength="19.61" lengthAdjust="spacingAndGlyphs">40</text>
<text x="256.38" y="429.00" font-size="16.8" textLength="19.99" lengthAdjust="spacingAndGlyphs">50</text>
<text x="86.23" y="248.40" font-size="16.2" textLength="21.89" lengthAdjust="spacingAndGlyphs">(b)</text>
<text x="156.26" y="247.10" font-size="17.2" textLength="38.23" lengthAdjust="spacingAndGlyphs">HDM</text>
<clipPath id="c4"><rect x="289.0" y="256.2" width="182.0" height="150.3"/></clipPath>
<path d="M349.67 406.5V256.2M410.33 406.5V256.2M289.0 368.93H471.0M289.0 331.35H471.0M289.0 293.77H471.0" stroke="#a0a0a0" stroke-width="1.2" stroke-dasharray="1.1 2.52" fill="none"/>
<g clip-path="url(#c4)" fill="none" stroke-width="1.9" stroke-linejoin="round" stroke-linecap="square">
<path d="M306.7 405.3 L307.6 405.2 L308.4 405.1 L309.3 404.9 L310.2 404.7 L311.0 404.5 L311.9 403.0 L312.8 403.2 L313.6 403.8 L314.5 403.4 L315.4 403.4 L316.1 402.9 L316.2 402.4 L317.1 402.2 L318.0 402.4 L318.8 402.3 L319.7 401.7 L320.6 401.3 L321.4 401.0 L322.3 400.1 L323.2 399.1 L324.0 399.2 L324.9 398.6 L325.4 398.6 L325.8 397.1 L326.6 397.4 L327.5 398.0 L328.4 395.9 L329.2 395.2 L330.1 396.0 L331.0 395.4 L331.8 394.1 L332.7 395.1 L333.6 394.8 L334.4 394.4 L334.8 394.6 L335.3 394.5 L336.2 393.2 L337.0 391.3 L337.9 390.2 L338.8 389.2 L339.6 388.1 L340.5 386.4 L341.4 385.0 L342.2 384.8 L343.1 383.6 L344.0 382.4 L344.2 383.0 L344.8 381.3 L345.7 379.6 L346.6 378.7 L347.4 375.8 L348.3 372.5 L349.2 372.1 L350.0 371.5 L350.9 371.1 L351.2 370.4 L351.8 369.7 L352.6 370.2 L353.5 369.9 L354.4 369.3 L355.2 368.5 L355.9 368.3 L356.1 367.6 L357.0 366.7 L357.8 365.8 L358.7 363.4 L359.6 361.1 L360.4 360.9 L360.6 362.6 L361.3 361.7 L362.2 360.7 L363.0 361.1 L363.9 359.5 L364.8 356.8 L365.3 356.7 L365.6 357.3 L366.5 355.0 L367.4 354.6 L368.2 354.0 L369.1 350.9 L370.0 350.6 L370.8 350.0 L371.7 347.6 L372.3 347.3 L372.6 346.4 L373.4 343.8 L374.3 343.1 L374.8 342.5 L375.2 342.2 L376.0 341.2 L376.9 340.8 L377.8 341.2 L378.6 339.7 L379.5 338.4 L380.4 337.8 L381.2 337.6 L381.7 337.8 L382.1 336.3 L383.0 334.9 L383.8 333.7 L384.7 333.5 L385.2 334.4 L385.6 334.5 L386.4 332.5 L387.3 330.3 L388.2 329.2 L389.0 329.1 L389.9 327.7 L390.8 324.8 L391.6 324.1 L392.5 324.4 L393.4 323.5 L394.2 323.7 L395.1 323.9 L396.0 321.4 L396.8 319.7 L397.1 320.1 L397.7 320.2 L398.6 320.0 L399.4 317.0 L400.3 314.4 L401.2 315.9 L402.0 316.4 L402.9 314.0 L403.8 313.4 L404.6 312.9 L405.0 312.9 L405.5 312.7 L406.4 311.8 L407.2 312.8 L408.1 309.7 L409.0 308.0 L409.0 311.7 L409.8 309.5 L410.7 306.1 L411.6 305.7 L412.4 305.0 L413.3 305.1 L414.2 304.0 L415.0 301.4 L415.9 300.7 L416.8 302.4 L417.6 300.7 L417.8 298.9 L418.5 299.2 L419.4 298.3 L420.2 297.8 L421.1 296.7 L422.0 295.9 L422.8 296.7 L423.7 295.1 L424.6 296.2 L425.4 295.9 L426.3 295.9 L427.2 296.8 L428.0 295.6 L428.9 295.4 L429.8 295.1 L430.4 294.3 L430.6 291.7 L431.5 291.0 L432.4 292.5 L433.2 294.1 L434.1 290.7 L435.0 291.7 L435.8 294.7 L436.7 292.9 L437.6 292.0 L438.4 291.5 L439.3 290.8 L440.2 290.7 L441.0 290.9 L441.9 289.3 L441.9 290.2 L442.8 291.2 L443.6 291.0 L444.5 292.8 L445.4 292.6 L446.2 292.1 L447.1 289.9 L447.9 285.7 L448.0 287.8 L448.8 288.8 L449.7 288.4 L450.6 291.9 L451.4 289.8 L452.3 289.0 L453.2 289.9 L453.4 285.9 L454.0 288.7 L454.9 290.3 L455.8 286.6 L456.6 286.9 L457.5 284.2 L458.4 280.2 L459.2 280.2 L460.1 279.4 L461.0 279.0 L461.3 282.4 L461.8 283.8 L462.7 282.2 L463.6 281.0 L464.4 278.6 L465.3 278.1 L466.2 279.5 L466.8 275.6 L467.0 273.6 L467.9 277.1 L468.8 279.8 L469.6 279.6 L470.5 276.7 L471.0 275.9" stroke="#ff7f0e"/>
<path d="M311.4 406.5 L312.3 406.0 L313.2 405.6 L314.0 405.1 L314.9 404.6 L315.8 404.1 L316.6 403.6 L317.5 403.1 L318.4 403.4 L319.2 402.3 L319.3 401.6 L320.1 401.2 L321.0 400.6 L321.8 400.9 L322.7 400.4 L323.6 399.0 L324.4 398.3 L325.3 398.1 L326.2 396.9 L327.0 396.4 L327.9 396.1 L328.4 395.2 L328.8 396.0 L329.6 395.3 L330.5 393.4 L331.4 393.9 L332.2 393.4 L333.1 392.4 L334.0 392.0 L334.8 391.5 L334.8 390.6 L335.7 388.7 L336.6 389.7 L337.4 389.3 L338.3 386.6 L339.2 385.3 L340.0 383.1 L340.9 380.3 L341.8 379.5 L342.6 378.4 L343.5 377.0 L344.2 375.9 L344.4 374.9 L345.2 373.7 L346.1 373.3 L347.0 372.4 L347.8 370.7 L348.7 369.7 L349.6 370.0 L350.4 367.6 L351.2 365.7 L351.3 366.2 L352.2 365.4 L353.0 364.4 L353.9 362.6 L354.8 361.7 L355.6 360.5 L355.7 359.6 L356.5 357.7 L357.4 356.6 L358.2 355.7 L358.8 355.2 L359.1 355.8 L360.0 353.4 L360.8 350.7 L361.7 349.9 L361.8 350.5 L362.6 349.2 L363.4 347.4 L364.3 346.4 L364.8 345.2 L365.2 345.3 L366.0 344.7 L366.9 341.9 L367.8 340.0 L367.9 340.1 L368.6 339.5 L369.5 338.9 L370.4 337.9 L370.9 336.4 L371.2 336.8 L372.1 335.9 L373.0 333.3 L373.8 332.3 L373.9 332.4 L374.7 332.2 L375.6 332.4 L376.4 330.8 L377.0 329.7 L377.3 329.0 L378.2 328.6 L379.0 328.6 L379.9 325.8 L380.0 324.4 L380.8 322.9 L381.6 322.6 L382.5 322.8 L383.0 321.8 L383.4 321.1 L384.2 319.7 L385.1 319.6 L386.0 319.5 L386.1 318.6 L386.8 318.0 L387.7 317.3 L388.6 316.2 L389.1 315.7 L389.4 315.2 L390.3 314.2 L391.2 313.0 L392.0 312.6 L392.1 312.7 L392.9 312.1 L393.8 312.3 L394.6 310.8 L395.2 309.0 L395.5 308.0 L396.4 306.8 L397.2 306.7 L398.1 305.1 L398.2 304.6 L399.0 304.0 L399.8 304.0 L400.7 305.0 L401.2 304.4 L401.6 303.8 L402.4 303.8 L403.3 303.4 L404.2 302.2 L404.3 302.5 L405.0 301.8 L405.9 300.1 L406.8 298.5 L407.3 299.1 L407.6 299.5 L408.5 298.2 L409.4 297.6 L410.2 296.4 L410.3 297.9 L411.1 298.7 L412.0 296.7 L412.8 294.1 L413.4 293.2 L413.7 294.0 L414.6 293.3 L415.4 292.8 L416.3 291.4 L416.4 290.5 L417.2 291.9 L418.0 292.3 L418.9 290.5 L419.4 287.5 L419.8 288.8 L420.6 290.4 L421.5 290.3 L422.4 291.6 L422.5 289.3 L423.2 287.8 L424.1 288.5 L425.0 287.3 L425.5 287.8 L425.8 286.8 L426.7 284.7 L427.6 286.3 L428.4 287.0 L428.5 286.0 L429.3 285.4 L430.2 284.3 L431.0 286.9 L431.6 288.3 L431.9 287.9 L432.8 287.6 L433.6 284.3 L434.5 283.3 L434.6 282.2 L435.4 283.4 L436.2 284.7 L437.1 283.1 L437.6 284.1 L438.0 285.9 L438.8 286.0 L439.7 284.0 L440.6 282.8 L440.7 282.3 L441.4 280.6 L442.3 279.7 L443.2 280.5 L443.7 283.3 L444.0 282.4 L444.9 278.3 L445.8 275.6 L446.6 277.4 L446.7 283.0 L447.5 283.3 L448.4 278.6 L449.2 279.2 L449.8 277.0 L450.1 275.8 L451.0 275.6 L451.8 273.7 L452.7 276.4 L452.8 278.3 L453.6 281.0 L454.4 283.0 L455.3 278.7 L455.8 275.5 L456.2 277.3 L457.0 278.7 L457.9 279.4 L458.8 278.7 L458.9 278.8 L459.6 277.6 L460.5 276.3 L461.4 277.7 L461.9 277.4 L462.2 275.2 L463.1 275.0 L464.0 272.7 L464.8 272.4 L464.9 274.3 L465.7 277.3 L466.6 275.3 L467.4 274.2 L468.0 277.0 L468.3 273.9 L469.2 274.7 L470.0 276.9 L470.9 275.0 L471.0 273.7" stroke="#2ca02c"/>
<path d="M318.1 406.5 L319.0 405.5 L319.9 404.5 L320.7 403.5 L321.2 403.1 L321.6 402.6 L322.5 401.7 L323.3 401.0 L323.6 399.6 L324.2 399.1 L325.1 400.2 L325.9 399.1 L326.8 398.8 L327.7 399.9 L328.4 399.3 L328.5 398.7 L329.4 398.3 L330.3 397.7 L331.1 396.9 L331.5 396.4 L332.0 395.6 L332.9 394.6 L333.7 394.7 L334.5 394.4 L334.6 393.0 L335.5 391.5 L336.3 392.0 L337.2 392.1 L337.5 390.8 L338.1 389.8 L338.9 389.0 L339.8 386.4 L340.6 385.1 L340.7 385.8 L341.5 384.3 L342.4 381.9 L343.3 381.3 L343.6 382.7 L344.1 381.1 L345.0 377.8 L345.9 376.8 L346.6 376.4 L346.7 377.3 L347.6 375.6 L348.5 372.5 L349.3 372.2 L349.7 372.5 L350.2 371.5 L351.1 369.8 L351.9 368.8 L352.7 368.0 L352.8 367.0 L353.7 366.0 L354.5 364.5 L355.4 362.3 L355.7 362.2 L356.3 361.3 L357.1 359.9 L358.0 360.4 L358.8 359.8 L358.9 358.2 L359.7 355.8 L360.6 355.3 L361.5 355.2 L361.8 354.3 L362.3 352.8 L363.2 350.6 L364.1 349.7 L364.8 349.0 L364.9 348.8 L365.8 347.4 L366.7 345.6 L367.5 343.5 L367.9 343.7 L368.4 343.2 L369.3 340.7 L370.1 339.5 L370.9 338.4 L371.0 338.9 L371.9 339.0 L372.7 338.9 L373.6 338.3 L373.9 336.7 L374.5 335.2 L375.3 334.3 L376.2 333.1 L377.0 332.4 L377.1 333.2 L377.9 332.6 L378.8 330.8 L379.7 328.9 L380.0 328.4 L380.5 328.7 L381.4 327.9 L382.3 325.8 L383.0 324.2 L383.1 324.9 L384.0 324.6 L384.9 323.1 L385.7 323.4 L386.1 323.3 L386.6 322.0 L387.5 320.5 L388.3 319.0 L389.1 319.6 L389.2 319.3 L390.1 317.2 L390.9 316.8 L391.8 315.0 L392.1 315.0 L392.7 315.6 L393.5 314.5 L394.4 314.4 L395.2 313.8 L395.3 313.4 L396.1 312.8 L397.0 312.4 L397.9 311.6 L398.2 311.5 L398.7 310.5 L399.6 309.1 L400.5 307.2 L401.2 306.1 L401.3 306.7 L402.2 307.3 L403.1 308.0 L403.9 306.5 L404.3 305.2 L404.8 304.4 L405.7 303.6 L406.5 303.9 L407.3 302.5 L407.4 301.9 L408.3 301.6 L409.1 299.1 L410.0 297.1 L410.3 296.8 L410.9 296.7 L411.7 296.8 L412.6 296.6 L413.4 295.9 L413.5 298.0 L414.3 299.0 L415.2 297.8 L416.1 296.1 L416.4 296.6 L416.9 294.7 L417.8 293.6 L418.7 293.0 L419.4 291.1 L419.5 293.1 L420.4 292.8 L421.3 291.0 L422.1 290.5 L422.5 290.9 L423.0 291.2 L423.9 290.5 L424.7 289.7 L425.5 288.9 L425.6 288.7 L426.5 291.4 L427.3 291.7 L428.2 288.5 L428.5 289.0 L429.1 289.9 L429.9 288.5 L430.8 289.0 L431.6 289.2 L431.7 289.3 L432.5 286.2 L433.4 284.5 L434.3 286.4 L434.6 288.2 L435.1 290.4 L436.0 288.5 L436.9 286.7 L437.6 284.9 L437.7 285.2 L438.6 286.4 L439.5 285.1 L440.3 283.1 L440.7 282.6 L441.2 283.7 L442.1 281.5 L442.9 280.0 L443.7 279.4 L443.8 281.5 L444.7 281.8 L445.5 279.9 L446.4 279.8 L446.7 280.7 L447.3 280.8 L448.1 279.5 L449.0 279.8 L449.8 280.1 L449.9 278.9 L450.7 280.0 L451.6 280.2 L452.5 279.2 L452.8 280.8 L453.3 279.8 L454.2 279.1 L455.1 277.9 L455.8 277.3 L455.9 279.1 L456.8 276.2 L457.7 276.3 L458.5 277.6 L458.9 277.2 L459.4 275.7 L460.3 273.3 L461.1 274.2 L461.9 273.2 L462.0 270.0 L462.9 271.8 L463.7 274.2 L464.6 275.3 L464.9 274.4 L465.5 272.9 L466.3 272.9 L467.2 269.0 L468.0 265.5 L468.1 264.1 L468.9 266.4 L469.8 270.9 L470.7 274.5 L471.0 271.9" stroke="#d62728"/>
<path d="M324.2 406.5 L325.1 404.8 L325.9 403.2 L326.8 401.6 L327.2 400.9 L327.7 400.1 L328.5 398.7 L329.4 397.4 L329.6 396.8 L330.3 396.9 L331.1 396.3 L332.0 396.0 L332.9 395.1 L333.7 393.8 L334.5 393.8 L334.6 393.1 L335.5 390.9 L336.3 390.3 L337.2 389.7 L337.5 389.1 L338.1 388.3 L338.9 388.4 L339.8 387.5 L340.6 385.8 L340.7 385.5 L341.5 383.1 L342.4 381.2 L343.3 379.4 L343.6 379.0 L344.1 378.8 L345.0 378.1 L345.9 377.2 L346.6 376.3 L346.7 375.8 L347.6 373.9 L348.5 372.2 L349.3 370.5 L349.7 371.1 L350.2 370.7 L351.1 368.5 L351.9 367.0 L352.7 366.0 L352.8 365.8 L353.7 364.7 L354.5 363.3 L355.4 361.3 L355.7 360.5 L356.3 359.9 L357.1 358.2 L358.0 357.5 L358.8 356.8 L358.9 356.0 L359.7 354.1 L360.6 352.5 L361.5 352.5 L361.8 352.0 L362.3 350.0 L363.2 349.5 L364.1 347.7 L364.8 345.7 L364.9 347.3 L365.8 346.5 L366.7 344.6 L367.5 343.7 L367.9 342.2 L368.4 341.3 L369.3 341.6 L370.1 339.8 L370.9 337.1 L371.0 336.8 L371.9 336.6 L372.7 336.1 L373.6 334.7 L373.9 334.4 L374.5 334.0 L375.3 332.9 L376.2 331.9 L377.0 330.6 L377.1 330.4 L377.9 329.7 L378.8 328.9 L379.7 328.0 L380.0 327.3 L380.5 326.2 L381.4 325.8 L382.3 324.8 L383.0 322.7 L383.1 323.5 L384.0 323.0 L384.9 320.9 L385.7 319.1 L386.1 318.5 L386.6 318.8 L387.5 318.1 L388.3 317.6 L389.1 317.5 L389.2 317.3 L390.1 316.5 L390.9 315.9 L391.8 314.5 L392.1 313.4 L392.7 312.7 L393.5 312.0 L394.4 311.9 L395.2 311.6 L395.3 310.8 L396.1 308.7 L397.0 309.0 L397.9 308.9 L398.2 308.2 L398.7 308.7 L399.6 307.6 L400.5 305.4 L401.2 303.9 L401.3 304.5 L402.2 304.2 L403.1 301.9 L403.9 300.2 L404.3 301.3 L404.8 302.5 L405.7 301.9 L406.5 300.6 L407.3 300.0 L407.4 299.5 L408.3 299.2 L409.1 297.8 L410.0 295.6 L410.3 296.3 L410.9 297.9 L411.7 299.1 L412.6 295.7 L413.4 295.8 L413.5 297.3 L414.3 294.4 L415.2 293.9 L416.1 291.1 L416.4 291.5 L416.9 290.3 L417.8 287.6 L418.7 292.8 L419.4 294.4 L419.5 291.0 L420.4 289.3 L421.3 287.9 L422.1 287.0 L422.5 284.4 L423.0 284.7 L423.9 288.3 L424.7 287.9 L425.5 285.9 L425.6 286.7 L426.5 289.4 L427.3 289.3 L428.2 288.7 L428.5 286.2 L429.1 285.4 L429.9 287.7 L430.8 287.2 L431.6 284.9 L431.7 283.2 L432.5 286.3 L433.4 286.4 L434.3 283.4 L434.6 283.3 L435.1 284.2 L436.0 282.3 L436.9 283.9 L437.6 285.7 L437.7 282.2 L438.6 281.4 L439.5 281.1 L440.3 281.3 L440.7 278.1 L441.2 277.5 L442.1 277.8 L442.9 276.8 L443.7 279.6 L443.8 279.5 L444.7 279.1 L445.5 280.8 L446.4 279.4 L446.7 278.6 L447.3 284.0 L448.1 283.4 L449.0 277.3 L449.8 278.0 L449.9 280.3 L450.7 279.1 L451.6 277.1 L452.5 279.0 L452.8 278.3 L453.3 278.7 L454.2 280.6 L455.1 278.4 L455.8 274.0 L455.9 271.7 L456.8 275.3 L457.7 277.2 L458.5 278.3 L458.9 274.6 L459.4 272.6 L460.3 275.6 L461.1 276.3 L461.9 275.2 L462.0 275.1 L462.9 277.7 L463.7 277.0 L464.6 274.9 L464.9 273.5 L465.5 272.2 L466.3 273.3 L467.2 274.9 L468.0 275.9 L468.1 275.5 L468.9 273.9 L469.8 269.7 L470.7 271.4 L471.0 279.6" stroke="#9467bd"/>
<path d="M330.3 406.5 L331.1 403.8 L332.0 401.3 L332.9 398.9 L333.3 397.8 L333.7 396.7 L334.6 394.5 L335.5 392.5 L335.7 390.5 L336.3 390.1 L337.2 390.1 L338.1 389.3 L338.9 387.5 L339.8 386.7 L340.6 385.4 L340.7 386.0 L341.5 385.3 L342.4 381.4 L343.3 379.4 L343.6 380.8 L344.1 380.9 L345.0 378.1 L345.9 375.8 L346.6 374.5 L346.7 374.3 L347.6 372.3 L348.5 372.1 L349.3 371.6 L349.7 371.1 L350.2 370.9 L351.1 369.6 L351.9 367.5 L352.7 365.0 L352.8 366.2 L353.7 365.6 L354.5 364.1 L355.4 362.1 L355.7 361.5 L356.3 360.8 L357.1 359.1 L358.0 358.1 L358.8 357.2 L358.9 357.1 L359.7 354.8 L360.6 353.4 L361.5 353.2 L361.8 353.7 L362.3 351.4 L363.2 348.7 L364.1 348.5 L364.8 347.9 L364.9 347.3 L365.8 344.6 L366.7 342.4 L367.5 341.1 L367.9 341.2 L368.4 340.0 L369.3 337.4 L370.1 336.7 L370.9 335.9 L371.0 335.0 L371.9 334.7 L372.7 334.8 L373.6 333.1 L373.9 332.4 L374.5 332.5 L375.3 332.3 L376.2 331.7 L377.0 330.3 L377.1 329.7 L377.9 328.7 L378.8 326.8 L379.7 325.9 L380.0 326.1 L380.5 325.0 L381.4 323.0 L382.3 322.3 L383.0 322.9 L383.1 322.0 L384.0 321.1 L384.9 320.7 L385.7 318.7 L386.1 317.3 L386.6 317.1 L387.5 318.0 L388.3 316.7 L389.1 314.6 L389.2 315.0 L390.1 313.5 L390.9 313.1 L391.8 312.8 L392.1 312.8 L392.7 313.4 L393.5 311.3 L394.4 310.0 L395.2 310.0 L395.3 309.8 L396.1 309.0 L397.0 308.6 L397.9 308.0 L398.2 307.4 L398.7 306.3 L399.6 305.5 L400.5 305.6 L401.2 303.9 L401.3 303.7 L402.2 303.8 L403.1 302.2 L403.9 300.8 L404.3 301.7 L404.8 300.1 L405.7 298.1 L406.5 300.4 L407.3 299.4 L407.4 297.4 L408.3 296.4 L409.1 295.0 L410.0 293.7 L410.3 294.1 L410.9 294.3 L411.7 294.4 L412.6 294.1 L413.4 292.9 L413.5 293.7 L414.3 293.7 L415.2 291.4 L416.1 288.8 L416.4 289.5 L416.9 292.6 L417.8 292.9 L418.7 289.8 L419.4 290.3 L419.5 290.1 L420.4 288.6 L421.3 288.2 L422.1 285.8 L422.5 285.0 L423.0 285.2 L423.9 285.1 L424.7 287.1 L425.5 286.7 L425.6 283.9 L426.5 284.8 L427.3 285.7 L428.2 282.7 L428.5 281.4 L429.1 282.5 L429.9 283.2 L430.8 281.9 L431.6 279.9 L431.7 279.9 L432.5 281.7 L433.4 280.0 L434.3 275.7 L434.6 276.8 L435.1 278.4 L436.0 277.3 L436.9 277.4 L437.6 277.7 L437.7 276.5 L438.6 275.0 L439.5 273.2 L440.3 277.0 L440.7 280.1 L441.2 276.8 L442.1 275.3 L442.9 276.0 L443.7 275.1 L443.8 272.3 L444.7 274.2 L445.5 275.8 L446.4 274.6 L446.7 274.4 L447.3 271.2 L448.1 271.1 L449.0 271.2 L449.8 271.0 L449.9 271.8 L450.7 273.5 L451.6 271.8 L452.5 270.4 L452.8 271.0 L453.3 269.1 L454.2 270.9 L455.1 271.2 L455.8 268.6 L455.9 268.6 L456.8 268.9 L457.7 267.5 L458.5 267.3 L458.9 267.2 L459.4 264.8 L460.3 266.1 L461.1 270.2 L461.9 272.3 L462.0 270.2 L462.9 267.7 L463.7 267.5 L464.6 267.8 L464.9 271.4 L465.5 269.0 L466.3 268.1 L467.2 268.2 L468.0 266.1 L468.1 267.2 L468.9 267.7 L469.8 268.9 L470.7 269.6 L471.0 267.7" stroke="#8c564b"/>
<path d="M336.3 405.7 L337.2 401.7 L338.1 397.8 L338.9 394.0 L339.4 392.2 L339.8 390.3 L340.7 386.4 L341.5 383.3 L341.8 381.6 L342.4 381.0 L343.3 380.3 L344.1 379.2 L345.0 377.9 L345.9 376.8 L346.6 375.8 L346.7 375.4 L347.6 373.8 L348.5 372.2 L349.3 371.5 L349.7 371.0 L350.2 368.8 L351.1 367.7 L351.9 367.7 L352.7 368.1 L352.8 368.2 L353.7 365.6 L354.5 363.6 L355.4 361.5 L355.7 361.7 L356.3 361.2 L357.1 359.8 L358.0 359.4 L358.8 357.0 L358.9 356.6 L359.7 356.6 L360.6 355.4 L361.5 353.7 L361.8 353.2 L362.3 352.0 L363.2 349.8 L364.1 348.4 L364.8 347.8 L364.9 348.3 L365.8 346.6 L366.7 344.2 L367.5 343.2 L367.9 343.0 L368.4 340.6 L369.3 339.6 L370.1 338.9 L370.9 338.4 L371.0 338.9 L371.9 337.1 L372.7 336.3 L373.6 334.8 L373.9 333.5 L374.5 334.1 L375.3 333.3 L376.2 331.0 L377.0 331.3 L377.1 331.3 L377.9 329.6 L378.8 327.8 L379.7 326.4 L380.0 327.4 L380.5 326.8 L381.4 325.0 L382.3 323.5 L383.0 322.7 L383.1 322.0 L384.0 321.1 L384.9 321.4 L385.7 319.0 L386.1 319.0 L386.6 319.4 L387.5 318.4 L388.3 317.1 L389.1 316.3 L389.2 316.5 L390.1 315.4 L390.9 314.7 L391.8 314.1 L392.1 314.4 L392.7 312.7 L393.5 311.5 L394.4 310.5 L395.2 309.8 L395.3 309.5 L396.1 308.0 L397.0 308.6 L397.9 308.0 L398.2 307.2 L398.7 306.2 L399.6 304.4 L400.5 305.0 L401.2 305.3 L401.3 305.0 L402.2 305.3 L403.1 305.2 L403.9 302.9 L404.3 300.6 L404.8 301.5 L405.7 300.1 L406.5 297.9 L407.3 301.8 L407.4 302.9 L408.3 301.0 L409.1 301.3 L410.0 299.3 L410.3 297.3 L410.9 296.1 L411.7 295.1 L412.6 295.8 L413.4 297.5 L413.5 298.5 L414.3 299.4 L415.2 296.7 L416.1 294.7 L416.4 296.3 L416.9 297.2 L417.8 295.4 L418.7 293.7 L419.4 294.2 L419.5 292.2 L420.4 292.0 L421.3 291.2 L422.1 289.4 L422.5 291.4 L423.0 291.0 L423.9 288.6 L424.7 289.1 L425.5 290.7 L425.6 288.6 L426.5 287.2 L427.3 288.8 L428.2 288.7 L428.5 288.6 L429.1 288.7 L429.9 290.0 L430.8 288.4 L431.6 285.8 L431.7 284.3 L432.5 281.4 L433.4 284.0 L434.3 288.8 L434.6 288.0 L435.1 285.4 L436.0 283.4 L436.9 282.8 L437.6 284.8 L437.7 284.3 L438.6 283.6 L439.5 284.5 L440.3 283.3 L440.7 282.1 L441.2 281.0 L442.1 282.9 L442.9 283.9 L443.7 283.1 L443.8 282.7 L444.7 282.4 L445.5 283.1 L446.4 281.7 L446.7 281.0 L447.3 281.7 L448.1 282.2 L449.0 282.2 L449.8 280.9 L449.9 281.3 L450.7 283.5 L451.6 285.2 L452.5 285.5 L452.8 283.2 L453.3 284.4 L454.2 284.5 L455.1 280.3 L455.8 280.2 L455.9 283.1 L456.8 283.3 L457.7 281.2 L458.5 281.6 L458.9 286.5 L459.4 287.5 L460.3 285.1 L461.1 286.0 L461.9 285.0 L462.0 283.5 L462.9 285.3 L463.7 283.9 L464.6 281.2 L464.9 283.0 L465.5 281.5 L466.3 281.6 L467.2 282.9 L468.0 279.6 L468.1 278.5 L468.9 283.6 L469.8 282.2 L470.7 277.4 L471.0 277.4" stroke="#e377c2"/>
<path d="M342.4 405.0 L343.3 399.5 L344.1 394.2 L345.0 389.0 L345.4 386.5 L345.9 383.9 L346.7 378.4 L347.6 374.1 L347.8 373.8 L348.5 372.6 L349.3 370.3 L350.2 367.5 L351.1 365.6 L351.9 365.5 L352.7 364.6 L352.8 364.4 L353.7 363.2 L354.5 361.4 L355.4 360.5 L355.7 359.6 L356.3 357.4 L357.1 356.7 L358.0 356.2 L358.8 355.5 L358.9 355.7 L359.7 354.3 L360.6 352.2 L361.5 350.8 L361.8 350.0 L362.3 348.3 L363.2 347.4 L364.1 346.9 L364.8 345.5 L364.9 344.1 L365.8 342.5 L366.7 341.6 L367.5 341.3 L367.9 341.4 L368.4 339.6 L369.3 338.7 L370.1 337.8 L370.9 335.6 L371.0 334.7 L371.9 333.0 L372.7 331.7 L373.6 331.3 L373.9 330.8 L374.5 329.9 L375.3 328.5 L376.2 326.9 L377.0 326.3 L377.1 326.5 L377.9 326.3 L378.8 325.7 L379.7 324.3 L380.0 323.6 L380.5 322.2 L381.4 321.5 L382.3 320.2 L383.0 318.8 L383.1 318.5 L384.0 318.1 L384.9 317.4 L385.7 314.7 L386.1 314.8 L386.6 314.4 L387.5 312.7 L388.3 312.2 L389.1 311.5 L389.2 311.9 L390.1 311.4 L390.9 310.6 L391.8 309.3 L392.1 308.1 L392.7 306.7 L393.5 306.9 L394.4 306.0 L395.2 304.3 L395.3 305.2 L396.1 304.2 L397.0 302.0 L397.9 302.1 L398.2 303.9 L398.7 303.1 L399.6 301.5 L400.5 301.5 L401.2 300.9 L401.3 299.4 L402.2 297.5 L403.1 297.4 L403.9 297.5 L404.3 298.2 L404.8 297.0 L405.7 294.3 L406.5 295.3 L407.3 297.3 L407.4 295.8 L408.3 293.0 L409.1 294.4 L410.0 294.7 L410.3 293.6 L410.9 291.3 L411.7 290.7 L412.6 291.6 L413.4 291.4 L413.5 291.1 L414.3 291.3 L415.2 290.6 L416.1 289.1 L416.4 290.9 L416.9 289.9 L417.8 288.6 L418.7 289.7 L419.4 290.7 L419.5 289.3 L420.4 285.9 L421.3 285.7 L422.1 286.5 L422.5 287.6 L423.0 287.5 L423.9 284.9 L424.7 283.8 L425.5 284.4 L425.6 283.5 L426.5 282.4 L427.3 284.6 L428.2 284.6 L428.5 284.2 L429.1 284.3 L429.9 283.3 L430.8 279.4 L431.6 277.9 L431.7 281.7 L432.5 281.0 L433.4 279.6 L434.3 280.4 L434.6 279.8 L435.1 278.8 L436.0 279.5 L436.9 280.8 L437.6 280.0 L437.7 280.8 L438.6 280.9 L439.5 277.9 L440.3 275.5 L440.7 275.1 L441.2 274.0 L442.1 272.4 L442.9 273.4 L443.7 276.7 L443.8 277.6 L444.7 275.2 L445.5 276.7 L446.4 277.0 L446.7 275.0 L447.3 273.5 L448.1 271.8 L449.0 268.1 L449.8 268.6 L449.9 274.2 L450.7 273.3 L451.6 271.8 L452.5 273.7 L452.8 275.3 L453.3 277.4 L454.2 275.6 L455.1 271.5 L455.8 272.5 L455.9 271.6 L456.8 269.5 L457.7 273.7 L458.5 279.7 L458.9 277.0 L459.4 272.4 L460.3 278.8 L461.1 283.2 L461.9 283.1 L462.0 281.0 L462.9 283.1 L463.7 287.6 L464.6 290.6 L464.9 289.3 L465.5 289.6 L466.3 293.1 L467.2 295.1 L468.0 295.4 L468.1 293.5 L468.9 294.9 L469.8 293.8 L470.7 287.4 L471.0 284.0" stroke="#7f7f7f"/>
<path d="M348.5 398.2 L349.3 381.5 L349.7 376.4 L350.2 369.5 L350.9 364.4 L351.1 364.6 L351.9 367.3 L352.1 367.4 L352.8 367.0 L353.7 365.8 L354.5 365.1 L354.5 365.6 L355.4 363.1 L356.3 361.3 L357.1 360.3 L358.0 357.8 L358.8 355.0 L358.9 354.9 L359.7 353.8 L360.6 352.7 L361.5 350.9 L361.8 349.9 L362.3 349.5 L363.2 348.3 L364.1 346.6 L364.8 344.8 L364.9 345.4 L365.8 343.4 L366.7 340.8 L367.5 340.1 L367.9 339.8 L368.4 338.8 L369.3 337.1 L370.1 335.8 L370.9 334.9 L371.0 333.8 L371.9 332.4 L372.7 331.5 L373.6 330.2 L373.9 330.0 L374.5 328.8 L375.3 327.1 L376.2 325.7 L377.0 325.0 L377.1 325.6 L377.9 325.0 L378.8 323.2 L379.7 321.5 L380.0 320.5 L380.5 320.5 L381.4 321.3 L382.3 320.1 L383.0 318.7 L383.1 317.8 L384.0 316.5 L384.9 315.9 L385.7 315.2 L386.1 315.0 L386.6 314.4 L387.5 313.1 L388.3 313.6 L389.1 313.5 L389.2 312.0 L390.1 310.9 L390.9 309.3 L391.8 307.9 L392.1 308.2 L392.7 308.2 L393.5 307.7 L394.4 306.7 L395.2 306.1 L395.3 305.5 L396.1 303.7 L397.0 303.5 L397.9 304.3 L398.2 303.3 L398.7 301.6 L399.6 302.5 L400.5 303.8 L401.2 301.8 L401.3 300.5 L402.2 299.8 L403.1 299.1 L403.9 300.0 L404.3 299.3 L404.8 298.5 L405.7 296.2 L406.5 295.2 L407.3 296.7 L407.4 296.7 L408.3 296.8 L409.1 296.6 L410.0 296.7 L410.3 295.4 L410.9 293.0 L411.7 293.5 L412.6 295.5 L413.4 295.0 L413.5 294.4 L414.3 294.3 L415.2 292.7 L416.1 291.7 L416.4 290.9 L416.9 290.1 L417.8 290.4 L418.7 290.1 L419.4 288.7 L419.5 289.4 L420.4 290.7 L421.3 288.7 L422.1 288.7 L422.5 289.5 L423.0 288.7 L423.9 289.7 L424.7 289.8 L425.5 288.6 L425.6 287.2 L426.5 287.2 L427.3 289.7 L428.2 289.7 L428.5 288.5 L429.1 287.3 L429.9 286.6 L430.8 287.5 L431.6 290.1 L431.7 291.3 L432.5 291.2 L433.4 290.7 L434.3 288.4 L434.6 288.4 L435.1 289.8 L436.0 292.3 L436.9 293.7 L437.6 292.3 L437.7 290.2 L438.6 289.0 L439.5 286.9 L440.3 284.4 L440.7 284.0 L441.2 284.5 L442.1 285.0 L442.9 284.4 L443.7 284.5 L443.8 287.1 L444.7 288.2 L445.5 285.2 L446.4 284.5 L446.7 284.9 L447.3 282.2 L448.1 281.2 L449.0 282.3 L449.8 283.3 L449.9 281.0 L450.7 280.6 L451.6 281.3 L452.5 281.0 L452.8 280.1 L453.3 278.3 L454.2 276.8 L455.1 276.7 L455.8 274.2 L455.9 274.1 L456.8 275.2 L457.7 271.3 L458.5 270.2 L458.9 271.6 L459.4 271.6 L460.3 268.9 L461.1 266.6 L461.9 268.2 L462.0 271.1 L462.9 268.2 L463.7 261.4 L464.6 259.6 L464.9 262.0 L465.5 260.7 L466.3 258.3 L467.2 260.1 L468.0 263.7 L468.1 263.3 L468.9 263.7 L469.8 264.1 L470.7 259.3 L471.0 261.8" stroke="#bcbd22"/>
<path d="M354.5 391.3 L355.4 362.3 L355.4 361.4 L356.3 346.0 L356.6 343.4 L357.1 343.8 L358.0 345.8 L358.9 348.5 L359.7 350.2 L360.0 349.5 L360.6 348.7 L361.5 346.5 L362.3 344.7 L363.2 342.2 L363.6 341.4 L364.1 339.7 L364.9 337.5 L365.8 338.5 L366.7 340.3 L367.5 338.5 L368.4 336.6 L369.3 336.7 L370.0 335.3 L370.1 335.8 L371.0 334.3 L371.9 332.6 L372.7 331.8 L373.6 330.6 L374.5 328.8 L374.8 328.1 L375.3 327.4 L376.2 326.4 L377.1 326.3 L377.9 325.2 L378.8 323.9 L379.7 323.0 L380.5 322.8 L381.4 322.8 L381.7 321.4 L382.3 320.8 L383.1 321.0 L384.0 319.7 L384.9 319.4 L385.2 320.2 L385.7 319.7 L386.6 318.2 L387.5 316.1 L388.3 315.6 L389.2 315.7 L390.1 314.4 L390.9 313.8 L391.8 313.8 L392.1 314.4 L392.7 314.2 L393.5 313.3 L394.4 312.6 L395.3 310.7 L396.1 310.3 L397.0 310.2 L397.1 309.7 L397.9 310.1 L398.7 310.7 L399.6 309.4 L400.5 308.2 L401.3 308.2 L402.2 307.4 L403.1 305.5 L403.9 304.9 L404.8 306.5 L405.0 307.6 L405.7 307.4 L406.5 305.6 L407.4 302.7 L408.3 300.9 L409.1 298.1 L410.0 294.5 L410.9 293.4 L411.4 293.7 L411.7 293.6 L412.6 292.9 L413.5 292.2 L414.3 290.5 L415.2 289.7 L416.1 288.4 L416.9 286.0 L417.8 286.2 L417.8 287.4 L418.7 286.7 L419.5 285.4 L420.4 283.7 L421.3 282.5 L422.1 282.2 L423.0 282.8 L423.9 280.0 L424.2 278.1 L424.7 277.1 L425.6 276.7 L426.5 276.4 L427.3 274.4 L428.2 274.2 L428.6 274.9 L429.1 275.3 L429.9 278.2 L430.4 280.8 L430.8 281.1 L431.7 281.4 L432.5 279.8 L433.4 280.1 L434.3 281.6 L435.1 278.2 L436.0 278.4 L436.9 283.1 L436.9 281.4 L437.7 279.1 L438.6 278.0 L439.5 272.9 L439.5 273.1 L440.3 274.9 L441.2 273.2 L442.1 274.9 L442.9 277.5 L443.7 279.4 L443.8 277.9 L444.7 273.8 L445.5 277.0 L446.4 276.7 L447.3 271.7 L448.1 272.8 L449.0 272.5 L449.8 271.3 L449.9 270.8 L450.7 272.6 L451.6 271.4 L452.5 271.3 L453.3 276.2 L454.2 277.6 L455.1 279.3 L455.9 281.6 L456.1 281.0 L456.8 281.7 L457.7 284.4 L458.5 288.7 L458.6 289.7 L459.4 289.1 L460.3 288.3 L461.1 286.8 L462.0 288.4 L462.5 287.3 L462.9 283.3 L463.7 280.6 L464.6 280.6 L465.5 279.0 L466.3 275.4 L467.2 274.1 L467.6 276.2 L468.1 272.8 L468.9 269.4 L469.8 267.5 L470.7 265.5 L471.0 265.9" stroke="#17becf"/>
</g>
<line x1="386.07" y1="406.5" x2="386.07" y2="256.2" stroke="#777" stroke-width="1.6" stroke-dasharray="5.5 2.8"/>
<rect x="289.0" y="256.2" width="182.0" height="150.3" fill="none" stroke="#000" stroke-width="1.45"/>
<path d="M289.00 406.5v5.4M349.67 406.5v5.4M410.33 406.5v5.4M471.00 406.5v5.4M289.0 406.50h-5.4M289.0 368.93h-5.4M289.0 331.35h-5.4M289.0 293.77h-5.4M289.0 256.20h-5.4" stroke="#000" stroke-width="1.4" fill="none"/>
<text x="278.69" y="429.00" font-size="16.8" textLength="20.18" lengthAdjust="spacingAndGlyphs">20</text>
<text x="339.55" y="429.00" font-size="16.8" textLength="19.99" lengthAdjust="spacingAndGlyphs">30</text>
<text x="400.58" y="429.00" font-size="16.8" textLength="19.61" lengthAdjust="spacingAndGlyphs">40</text>
<text x="460.88" y="429.00" font-size="16.8" textLength="19.99" lengthAdjust="spacingAndGlyphs">50</text>
<text x="291.05" y="248.40" font-size="16.2" textLength="21.45" lengthAdjust="spacingAndGlyphs">(d)</text>
<text x="368.42" y="247.10" font-size="17.2" textLength="23.13" lengthAdjust="spacingAndGlyphs">FM</text>
<clipPath id="c5"><rect x="494.0" y="256.2" width="182.0" height="150.3"/></clipPath>
<path d="M554.67 406.5V256.2M615.33 406.5V256.2M494.0 368.93H676.0M494.0 331.35H676.0M494.0 293.77H676.0" stroke="#a0a0a0" stroke-width="1.2" stroke-dasharray="1.1 2.52" fill="none"/>
<g clip-path="url(#c5)" fill="none" stroke-width="1.9" stroke-linejoin="round" stroke-linecap="square">
<path d="M510.7 290.6 L511.6 296.7 L512.2 301.3 L512.5 303.6 L513.3 311.3 L514.2 319.9 L514.2 320.0 L515.1 331.9 L515.8 340.1 L515.9 340.6 L516.8 343.9 L517.7 346.2 L518.4 348.5 L518.5 349.2 L519.2 351.9 L519.4 352.6 L520.3 354.5 L521.1 355.9 L521.3 356.1 L522.0 358.0 L522.9 357.5 L523.7 358.2 L523.9 359.7 L524.6 361.7 L525.5 364.4 L525.5 364.1 L526.3 366.7 L526.9 367.3 L527.2 367.2 L528.1 366.9 L528.9 365.2 L529.0 364.9 L529.8 365.4 L530.7 367.2 L531.5 370.1 L532.3 371.5 L532.4 372.0 L533.3 373.0 L534.1 372.6 L535.0 372.5 L535.8 373.6 L535.9 374.6 L536.7 374.8 L537.6 374.8 L538.5 375.0 L539.3 375.4 L540.2 375.5 L541.1 375.4 L541.9 377.0 L542.8 377.2 L543.3 376.3 L543.7 376.1 L544.5 376.7 L545.4 377.9 L546.3 377.8 L547.1 377.8 L548.0 377.9 L548.9 379.1 L549.7 380.6 L550.6 379.8 L551.5 379.8 L552.3 381.3 L552.8 382.0 L553.2 381.7 L554.1 382.1 L554.9 382.5 L555.8 382.1 L556.7 382.0 L557.5 382.8 L558.4 384.4 L559.3 385.6 L560.1 385.9 L561.0 385.6 L561.9 386.4 L562.4 386.8 L562.7 386.2 L563.6 386.6 L564.5 386.9 L565.3 386.6 L566.2 386.8 L567.1 388.3 L567.9 389.2 L568.8 388.2 L569.7 388.2 L570.5 388.5 L571.4 388.0 L572.0 388.3 L572.3 388.4 L573.1 388.8 L574.0 388.9 L574.9 389.7 L575.7 389.8 L576.6 389.8 L577.5 390.4 L578.3 390.4 L579.2 391.0 L580.1 392.0 L580.9 391.8 L581.8 391.3 L582.7 391.3 L583.5 391.5 L584.4 392.3 L585.3 393.1 L585.4 393.1 L586.1 392.4 L587.0 392.9 L587.9 393.7 L588.7 393.5 L589.6 392.5 L590.5 392.9 L591.3 393.9 L592.2 393.0 L593.1 392.4 L593.9 393.1 L594.8 394.2 L595.0 393.5 L595.7 393.6 L596.5 394.5 L597.4 394.4 L598.3 395.1 L599.1 395.4 L600.0 394.8 L600.9 395.1 L601.7 395.6 L602.6 396.1 L603.2 396.5 L603.5 395.5 L604.3 395.6 L605.2 396.9 L606.1 395.7 L606.9 395.5 L607.8 397.1 L608.7 396.9 L609.5 396.2 L610.4 396.8 L611.3 396.7 L612.1 396.1 L613.0 396.6 L613.9 397.9 L614.7 399.2 L615.3 398.1 L615.6 397.6 L616.5 397.8 L617.3 397.5 L618.2 397.5 L619.1 397.3 L619.9 396.8 L620.8 398.1 L621.7 398.9 L622.5 396.9 L623.4 395.6 L624.3 396.3 L625.1 396.5 L626.0 395.2 L626.9 396.8 L627.7 396.5 L628.6 394.2 L629.5 395.3 L630.3 397.8 L631.2 399.7 L632.1 400.1 L632.9 397.0 L633.5 396.8 L633.8 398.2 L634.7 396.6 L635.5 395.4 L636.4 395.7 L637.3 395.6 L638.1 394.4 L639.0 397.4 L639.9 398.4 L640.7 395.9 L641.6 394.7 L642.5 395.0 L643.3 396.0 L644.2 398.5 L645.1 397.3 L645.9 395.0 L646.8 397.4 L647.7 395.6 L648.5 392.6 L649.4 393.2 L650.3 393.2 L651.1 394.8 L651.7 394.8 L652.0 392.6 L652.9 394.3 L653.7 396.6 L654.6 394.7 L655.5 393.4 L656.3 393.6 L657.2 393.4 L658.1 390.7 L658.9 389.3 L659.8 394.7 L660.7 399.8 L661.5 397.9 L662.4 392.8 L663.3 394.6 L664.1 394.5 L665.0 394.4 L665.9 398.5 L666.7 395.9 L667.6 390.8 L668.5 392.1 L669.3 393.4 L670.2 391.4 L671.1 391.8 L671.9 388.1 L672.8 389.1 L673.7 392.3 L674.5 393.0 L675.4 392.4 L676.0 390.9" stroke="#ff7f0e"/>
<path d="M517.1 284.5 L517.9 291.7 L518.8 300.4 L518.9 301.3 L519.7 310.8 L520.3 319.9 L520.5 322.4 L521.4 333.9 L521.8 340.1 L522.2 348.5 L522.3 348.9 L523.1 354.5 L523.9 357.1 L524.0 357.2 L524.9 359.0 L525.7 360.3 L526.6 361.3 L527.3 362.2 L527.5 362.1 L528.3 362.9 L529.2 364.0 L529.9 364.9 L530.1 365.1 L530.9 366.1 L531.8 367.9 L532.4 369.1 L532.7 370.0 L533.5 371.4 L534.4 370.8 L535.3 371.4 L536.1 372.8 L536.7 372.8 L537.0 373.4 L537.9 375.1 L538.7 375.1 L539.6 375.9 L540.5 377.9 L541.3 377.7 L542.2 377.1 L542.5 377.6 L543.1 378.5 L543.9 379.5 L544.8 379.6 L545.7 380.2 L546.5 380.5 L547.4 379.8 L548.3 380.6 L549.1 381.2 L550.0 381.5 L550.9 381.0 L551.7 380.5 L552.6 381.4 L553.5 382.5 L554.3 382.9 L554.7 383.2 L555.2 383.6 L556.1 383.8 L556.9 384.2 L557.8 384.5 L558.7 384.9 L559.5 385.2 L560.4 385.4 L561.3 386.1 L562.1 387.2 L563.0 387.7 L563.8 387.9 L563.9 387.8 L564.7 388.2 L565.6 389.1 L566.5 389.0 L567.3 388.3 L568.2 388.6 L569.1 388.4 L569.9 388.6 L570.8 389.1 L571.7 389.1 L572.5 389.6 L573.4 389.2 L574.3 389.7 L575.1 390.5 L576.0 389.9 L576.9 390.2 L577.7 390.4 L578.6 390.2 L579.5 391.0 L580.3 392.8 L581.2 392.1 L581.6 391.0 L582.1 392.0 L582.9 392.6 L583.8 392.7 L584.7 392.5 L585.5 392.4 L586.4 393.4 L587.3 393.3 L588.1 393.0 L589.0 393.7 L589.9 393.3 L590.7 393.6 L591.6 394.3 L592.5 394.9 L593.3 396.0 L594.2 396.5 L595.1 396.1 L595.9 397.0 L596.8 396.1 L597.7 395.6 L598.5 396.8 L599.4 396.6 L600.3 396.1 L600.8 395.8 L601.1 396.2 L602.0 396.6 L602.9 396.5 L603.7 396.9 L604.6 397.4 L605.5 397.2 L606.3 397.0 L607.2 397.2 L608.1 397.6 L608.9 397.1 L609.8 396.0 L610.7 396.6 L611.5 397.7 L612.4 396.4 L613.3 395.5 L614.1 396.7 L615.0 397.5 L615.3 396.5 L615.9 395.6 L616.7 396.4 L617.6 397.2 L618.5 397.9 L619.3 398.7 L620.2 398.1 L621.1 398.1 L621.9 397.6 L622.8 396.9 L623.7 398.2 L624.5 398.2 L625.4 398.5 L626.3 398.3 L627.1 398.1 L628.0 398.5 L628.9 396.7 L629.7 396.3 L630.6 399.6 L631.5 400.0 L632.3 395.9 L633.2 396.6 L633.5 397.0 L634.1 395.2 L634.9 396.5 L635.8 395.2 L636.7 396.1 L637.5 398.8 L638.4 397.4 L639.3 397.9 L640.1 398.0 L641.0 394.4 L641.9 394.1 L642.7 395.8 L643.6 396.4 L644.5 398.0 L645.3 396.8 L646.2 397.3 L647.1 401.6 L647.9 400.5 L648.8 396.9 L649.7 395.1 L650.5 394.1 L651.4 395.5 L651.7 398.0 L652.3 396.6 L653.1 397.1 L654.0 396.9 L654.9 397.9 L655.7 398.3 L656.6 399.1 L657.5 399.3 L658.3 391.5 L659.2 395.1 L660.1 401.4 L660.9 397.5 L661.8 395.7 L662.7 391.9 L663.5 390.3 L664.4 394.5 L665.3 395.8 L666.1 396.0 L667.0 395.1 L667.9 400.4 L668.7 398.9 L669.6 393.8 L670.5 396.9 L671.3 398.0 L672.2 398.2 L673.1 399.9 L673.9 401.0 L674.8 396.5 L675.7 397.3 L676.0 399.2" stroke="#2ca02c"/>
<path d="M523.0 287.6 L523.9 295.8 L524.3 301.3 L524.7 306.9 L525.5 319.9 L525.6 320.7 L526.5 334.3 L526.9 340.1 L527.3 345.3 L527.7 348.5 L528.2 352.5 L529.0 357.1 L529.1 357.3 L529.9 360.1 L530.8 362.2 L531.6 363.8 L531.7 363.9 L532.5 365.2 L533.4 366.3 L534.2 367.5 L534.3 367.3 L535.1 369.0 L536.0 370.2 L536.9 371.3 L537.6 372.4 L537.7 372.4 L538.6 373.1 L539.5 374.4 L540.3 374.5 L541.2 374.5 L542.1 375.9 L542.9 377.2 L543.8 378.5 L544.7 378.8 L545.5 378.6 L546.4 379.5 L547.3 380.3 L548.1 380.1 L548.6 380.6 L549.0 381.7 L549.9 380.8 L550.7 381.7 L551.6 383.4 L552.5 383.4 L553.3 383.8 L554.2 384.0 L555.1 385.1 L555.9 386.2 L556.8 387.0 L557.7 387.2 L557.7 386.5 L558.5 386.8 L559.4 387.5 L560.3 388.1 L561.1 388.2 L562.0 389.2 L562.9 390.1 L563.7 389.7 L564.6 389.3 L565.5 389.3 L566.3 390.3 L567.2 390.7 L568.1 390.9 L568.9 391.8 L569.8 391.0 L570.7 390.4 L571.5 390.8 L572.0 390.9 L572.4 392.0 L573.3 392.3 L574.1 392.5 L575.0 393.1 L575.9 392.6 L576.7 392.6 L577.6 393.3 L578.5 392.9 L579.3 392.5 L580.2 393.1 L581.1 393.2 L581.9 393.3 L582.8 393.2 L583.7 393.4 L584.5 394.3 L585.4 394.2 L586.3 393.6 L587.1 394.8 L588.0 396.1 L588.9 396.0 L589.7 395.1 L590.6 394.7 L591.1 395.3 L591.5 395.2 L592.3 394.4 L593.2 394.1 L594.1 395.6 L594.9 396.2 L595.8 396.2 L596.7 396.2 L597.5 395.3 L598.4 396.0 L599.3 396.6 L600.1 396.6 L601.0 396.7 L601.9 397.2 L602.7 397.6 L603.6 397.5 L604.5 397.9 L605.3 397.6 L606.2 397.1 L607.1 396.9 L607.9 396.2 L608.8 396.4 L609.7 396.6 L610.5 397.0 L611.4 398.2 L612.3 396.7 L613.1 395.9 L614.0 395.9 L614.9 397.7 L615.3 398.5 L615.7 397.3 L616.6 398.4 L617.5 400.2 L618.3 399.6 L619.2 396.0 L620.1 395.5 L620.9 396.8 L621.8 396.8 L622.7 396.4 L623.5 396.3 L624.4 394.7 L625.3 395.0 L626.1 397.6 L627.0 398.4 L627.9 399.0 L628.7 400.6 L629.6 399.3 L630.5 395.4 L631.3 396.3 L632.2 397.5 L633.1 397.5 L633.5 397.0 L633.9 393.6 L634.8 395.7 L635.7 396.9 L636.5 396.7 L637.4 397.0 L638.3 395.7 L639.1 394.8 L640.0 391.6 L640.9 392.2 L641.7 395.9 L642.6 395.5 L643.5 392.8 L644.3 391.2 L645.2 390.4 L646.1 394.5 L646.9 397.1 L647.8 396.1 L648.7 395.9 L649.5 395.2 L650.4 393.8 L651.3 392.6 L651.7 393.9 L652.1 393.1 L653.0 392.0 L653.9 391.8 L654.7 394.3 L655.6 395.9 L656.5 392.4 L657.3 394.1 L658.2 394.6 L659.1 392.8 L659.9 394.3 L660.8 396.2 L661.7 399.1 L662.5 398.2 L663.4 394.3 L664.3 396.0 L665.1 397.1 L666.0 392.7 L666.9 396.6 L667.7 400.0 L668.6 396.7 L669.5 397.1 L670.3 400.2 L671.2 398.2 L672.1 394.5 L672.9 397.8 L673.8 401.6 L674.7 404.4 L675.5 400.4 L676.0 400.2" stroke="#d62728"/>
<path d="M529.3 284.8 L530.2 297.4 L530.4 301.3 L531.0 314.4 L531.3 319.9 L531.9 331.9 L532.4 340.1 L532.8 344.6 L533.6 352.6 L533.7 352.8 L534.5 358.1 L535.4 362.3 L535.8 363.8 L536.2 365.0 L537.1 367.0 L538.0 368.5 L538.8 369.9 L539.2 370.6 L539.7 372.1 L540.6 374.0 L541.4 374.4 L542.3 376.3 L543.2 378.4 L544.0 379.6 L544.9 380.9 L545.8 382.6 L546.2 383.2 L546.6 382.8 L547.5 383.4 L548.4 384.5 L549.2 385.3 L550.1 386.2 L551.0 387.1 L551.8 388.4 L552.7 389.1 L553.6 389.3 L554.4 390.4 L554.7 389.9 L555.3 390.2 L556.2 392.1 L557.0 390.6 L557.9 389.8 L558.8 391.8 L559.6 392.1 L560.5 392.3 L561.4 393.0 L562.2 394.1 L563.1 394.1 L564.0 393.3 L564.8 393.6 L565.7 393.8 L566.6 394.4 L566.8 394.9 L567.4 394.7 L568.3 395.1 L569.2 395.6 L570.0 396.0 L570.9 395.6 L571.8 394.7 L572.6 394.6 L573.5 394.8 L574.4 395.5 L575.2 395.9 L576.1 396.3 L577.0 396.4 L577.8 396.3 L578.7 397.2 L579.6 397.4 L580.4 396.8 L581.3 396.9 L582.2 397.4 L583.0 397.7 L583.9 397.8 L584.8 397.5 L585.0 397.3 L585.6 398.1 L586.5 399.2 L587.4 398.7 L588.2 397.3 L589.1 397.4 L590.0 397.4 L590.8 397.5 L591.7 397.8 L592.6 398.2 L593.4 399.3 L594.3 399.1 L595.2 398.0 L596.0 398.0 L596.9 398.2 L597.8 399.2 L598.6 400.3 L599.5 399.3 L600.4 398.5 L601.2 399.0 L602.1 399.1 L603.0 399.6 L603.2 399.5 L603.8 399.0 L604.7 399.2 L605.6 398.5 L606.4 399.0 L607.3 400.0 L608.2 399.7 L609.0 399.9 L609.9 399.8 L610.8 399.3 L611.6 398.9 L612.5 398.8 L613.4 398.1 L614.2 398.1 L615.1 399.7 L616.0 399.2 L616.8 398.4 L617.7 398.2 L618.6 398.4 L619.4 399.1 L620.3 397.5 L621.2 398.6 L622.0 401.3 L622.9 400.4 L623.8 398.9 L624.6 397.5 L625.5 398.2 L626.4 400.5 L627.2 400.5 L627.5 398.9 L628.1 397.7 L629.0 397.9 L629.8 399.3 L630.7 399.5 L631.6 397.2 L632.4 396.4 L633.3 396.7 L634.2 398.0 L635.0 398.8 L635.9 398.2 L636.8 400.5 L637.6 401.9 L638.5 401.8 L639.4 399.3 L640.2 400.0 L641.1 400.4 L642.0 398.2 L642.8 397.4 L643.7 395.9 L644.6 397.3 L645.4 399.8 L646.3 400.3 L647.2 398.4 L648.0 396.5 L648.9 395.8 L649.8 395.9 L650.6 398.1 L651.5 397.4 L651.7 396.7 L652.4 397.2 L653.2 395.9 L654.1 397.4 L655.0 397.0 L655.8 397.5 L656.7 398.1 L657.6 396.3 L658.4 396.4 L659.3 396.2 L660.2 397.8 L661.0 398.9 L661.9 395.5 L662.8 394.7 L663.6 396.0 L664.5 396.7 L665.4 396.9 L666.2 395.7 L667.1 398.3 L668.0 394.5 L668.8 392.7 L669.7 393.8 L670.6 395.8 L671.4 395.7 L672.3 395.5 L673.2 398.9 L674.0 397.6 L674.9 398.1 L675.8 396.2 L676.0 395.3" stroke="#9467bd"/>
<path d="M535.4 284.0 L536.3 313.0 L536.6 319.9 L537.2 331.2 L538.0 343.8 L538.3 346.4 L538.9 351.5 L539.8 357.2 L540.6 361.1 L540.7 361.4 L541.5 363.9 L542.4 366.1 L543.2 367.9 L544.1 369.6 L545.0 371.2 L545.2 371.6 L545.8 373.9 L546.7 375.1 L547.6 375.8 L548.4 377.9 L549.3 379.6 L550.2 380.2 L551.0 381.4 L551.6 381.9 L551.9 382.3 L552.8 383.8 L553.6 385.5 L554.5 386.3 L555.4 386.9 L556.2 388.0 L557.1 388.9 L558.0 389.5 L558.8 390.0 L559.7 390.3 L560.6 390.5 L560.7 391.0 L561.4 392.3 L562.3 392.6 L563.2 392.9 L564.0 391.9 L564.9 392.1 L565.8 394.6 L566.6 394.2 L567.5 393.8 L568.4 395.3 L569.2 395.8 L570.1 396.2 L571.0 396.8 L571.8 396.5 L572.7 396.2 L572.9 395.2 L573.6 395.2 L574.4 396.1 L575.3 395.9 L576.2 395.6 L577.0 396.6 L577.9 397.3 L578.8 397.6 L579.6 398.8 L580.5 398.6 L581.4 398.4 L582.2 398.0 L583.1 397.6 L584.0 398.0 L584.8 398.4 L585.7 398.1 L586.6 397.2 L587.4 398.0 L588.3 398.6 L589.2 398.7 L590.0 398.0 L590.9 397.7 L591.1 398.5 L591.8 398.2 L592.6 398.3 L593.5 398.6 L594.4 398.3 L595.2 398.6 L596.1 398.9 L597.0 399.4 L597.8 399.9 L598.7 399.3 L599.6 399.5 L600.4 400.4 L601.3 399.6 L602.2 398.7 L603.0 399.4 L603.9 400.1 L604.8 399.6 L605.6 399.8 L606.5 400.2 L607.4 400.2 L608.2 400.7 L609.1 399.3 L610.0 397.9 L610.8 398.8 L611.7 399.7 L612.6 399.0 L613.4 398.3 L614.3 398.6 L615.2 399.0 L615.3 399.1 L616.0 398.4 L616.9 398.4 L617.8 400.1 L618.6 399.3 L619.5 397.5 L620.4 397.0 L621.2 397.2 L622.1 398.0 L623.0 398.5 L623.8 398.0 L624.7 397.6 L625.6 397.9 L626.4 396.6 L627.3 397.0 L628.2 399.8 L629.0 401.0 L629.9 398.0 L630.8 396.6 L631.6 399.1 L632.5 399.3 L633.4 395.9 L634.2 397.6 L635.1 398.5 L636.0 396.6 L636.8 398.4 L637.7 396.4 L638.6 395.2 L639.4 396.5 L639.6 396.3 L640.3 397.0 L641.2 395.1 L642.0 393.6 L642.9 398.0 L643.8 398.9 L644.6 394.4 L645.5 394.5 L646.4 396.3 L647.2 397.9 L648.1 396.2 L649.0 393.4 L649.8 395.9 L650.7 397.1 L651.6 396.2 L652.4 393.2 L653.3 392.7 L654.2 397.1 L655.0 393.1 L655.9 391.2 L656.8 396.3 L657.6 395.0 L657.8 392.8 L658.5 394.9 L659.4 394.2 L660.2 394.5 L661.1 394.2 L662.0 395.7 L662.8 397.7 L663.7 396.0 L664.6 396.3 L665.4 395.7 L666.3 394.7 L667.2 392.6 L668.0 392.4 L668.9 397.0 L669.8 403.3 L670.6 403.6 L671.5 398.8 L672.4 395.7 L673.2 397.6 L674.1 396.3 L675.0 395.5 L675.8 396.6 L676.0 398.2" stroke="#8c564b"/>
<path d="M541.4 281.1 L542.3 306.6 L542.9 319.9 L543.2 325.0 L544.0 338.1 L544.4 341.9 L544.9 347.9 L545.8 355.6 L546.2 358.3 L546.6 360.9 L547.5 365.1 L548.4 368.6 L549.2 371.6 L549.8 373.4 L550.1 374.4 L551.0 377.0 L551.8 379.7 L552.7 381.8 L553.6 383.4 L554.4 385.1 L554.7 385.8 L555.3 387.6 L556.2 388.6 L557.0 388.7 L557.9 389.1 L558.8 390.6 L559.6 390.7 L560.5 390.5 L561.4 391.5 L562.2 392.9 L562.6 394.3 L563.1 394.7 L564.0 393.9 L564.8 393.3 L565.7 393.9 L566.6 395.9 L567.4 396.7 L568.3 395.9 L569.2 395.8 L570.0 396.1 L570.9 397.2 L571.8 397.9 L572.6 398.4 L572.9 398.6 L573.5 397.4 L574.4 396.7 L575.2 397.6 L576.1 398.4 L577.0 398.9 L577.8 399.4 L578.7 399.7 L579.6 399.2 L580.4 399.5 L581.3 399.4 L582.2 399.0 L583.0 399.2 L583.9 399.3 L584.8 399.5 L585.6 399.6 L586.5 399.8 L587.4 400.3 L588.2 400.8 L589.1 399.9 L590.0 399.2 L590.8 399.3 L591.1 399.9 L591.7 399.8 L592.6 398.9 L593.4 400.0 L594.3 399.7 L595.2 399.0 L596.0 399.1 L596.9 399.4 L597.8 401.1 L598.6 400.8 L599.5 400.1 L600.4 400.4 L601.2 399.8 L602.1 399.6 L603.0 399.3 L603.8 399.3 L604.7 399.5 L605.6 399.3 L606.4 399.5 L607.3 399.5 L608.2 400.0 L609.0 399.6 L609.9 398.6 L610.8 399.1 L611.6 399.3 L612.5 398.6 L613.4 398.6 L614.2 399.4 L615.1 399.1 L615.3 398.6 L616.0 399.2 L616.8 398.5 L617.7 398.9 L618.6 400.1 L619.4 399.9 L620.3 399.5 L621.2 399.5 L622.0 398.7 L622.9 398.8 L623.8 398.1 L624.6 397.5 L625.5 400.1 L626.4 400.0 L627.2 396.8 L628.1 396.8 L629.0 397.0 L629.8 397.2 L630.7 396.7 L631.6 397.4 L632.4 396.1 L633.3 394.4 L634.2 397.6 L635.0 399.6 L635.9 399.0 L636.8 397.1 L637.6 397.2 L638.5 396.6 L639.4 396.5 L639.6 395.4 L640.2 394.0 L641.1 395.7 L642.0 396.2 L642.8 393.5 L643.7 392.8 L644.6 393.8 L645.4 393.9 L646.3 394.2 L647.2 394.2 L648.0 394.1 L648.9 395.2 L649.8 393.8 L650.6 394.3 L651.5 395.7 L652.4 397.4 L653.2 398.9 L654.1 395.8 L655.0 395.4 L655.8 396.3 L656.7 396.0 L657.6 393.6 L657.8 393.9 L658.4 395.3 L659.3 396.6 L660.2 393.4 L661.0 390.2 L661.9 394.0 L662.8 395.7 L663.6 391.8 L664.5 390.1 L665.4 393.7 L666.2 395.8 L667.1 394.2 L668.0 390.1 L668.8 389.4 L669.7 393.3 L670.6 394.1 L671.4 390.7 L672.3 391.8 L673.2 390.3 L674.0 386.8 L674.9 388.6 L675.8 388.8 L676.0 389.4" stroke="#e377c2"/>
<path d="M547.4 279.9 L548.3 302.5 L549.0 319.9 L549.1 321.9 L550.0 338.1 L550.1 340.4 L550.9 352.5 L551.0 354.5 L551.7 360.5 L552.6 366.4 L553.5 371.2 L554.3 375.2 L554.8 377.3 L555.2 379.1 L556.1 382.7 L556.9 386.0 L557.8 388.6 L558.3 390.2 L558.7 390.8 L559.5 392.0 L560.4 393.1 L561.3 395.1 L562.1 397.0 L562.4 396.6 L563.0 396.7 L563.9 398.2 L564.7 398.7 L565.6 398.6 L566.5 399.2 L567.3 399.7 L568.2 399.9 L568.6 398.9 L569.1 399.1 L569.9 400.2 L570.8 400.7 L571.7 400.3 L572.5 400.4 L573.4 400.6 L574.3 400.5 L575.1 401.7 L576.0 402.3 L576.9 401.6 L577.7 402.1 L578.6 401.9 L578.9 400.9 L579.5 401.3 L580.3 400.7 L581.2 400.3 L582.1 400.5 L582.9 401.0 L583.8 400.9 L584.7 400.9 L585.5 400.2 L586.4 400.8 L587.3 401.8 L588.1 401.7 L589.0 402.1 L589.9 402.4 L590.7 401.9 L591.6 401.1 L592.5 402.0 L593.3 401.2 L594.2 400.4 L595.1 401.3 L595.9 401.7 L596.8 402.1 L597.1 401.5 L597.7 399.8 L598.5 400.4 L599.4 401.5 L600.3 400.2 L601.1 399.7 L602.0 400.1 L602.9 401.0 L603.7 401.0 L604.6 400.6 L605.5 401.3 L606.3 400.9 L607.2 399.3 L608.1 399.6 L608.9 399.9 L609.8 399.4 L610.7 398.6 L611.5 398.9 L612.4 398.6 L613.3 398.0 L614.1 398.8 L615.0 398.8 L615.3 399.0 L615.9 398.4 L616.7 397.5 L617.6 397.5 L618.5 398.3 L619.3 399.1 L620.2 399.6 L621.1 397.7 L621.9 395.9 L622.8 397.2 L623.7 398.8 L624.5 398.6 L625.4 398.7 L626.3 398.7 L627.1 398.0 L628.0 398.8 L628.9 399.4 L629.7 397.9 L630.6 397.0 L631.5 396.7 L632.3 396.2 L633.2 398.0 L634.1 396.5 L634.9 395.1 L635.8 397.0 L636.7 396.4 L637.5 395.0 L638.4 394.1 L639.3 394.5 L639.6 394.6 L640.1 394.8 L641.0 393.5 L641.9 391.4 L642.7 393.4 L643.6 396.9 L644.5 396.8 L645.3 394.7 L646.2 397.2 L647.1 398.6 L647.9 396.0 L648.8 393.6 L649.7 392.6 L650.5 393.4 L651.4 394.5 L652.3 394.2 L653.1 393.2 L654.0 394.4 L654.9 398.0 L655.7 398.6 L656.6 392.3 L657.5 388.9 L657.8 394.4 L658.3 396.2 L659.2 393.6 L660.1 392.9 L660.9 394.4 L661.8 396.7 L662.7 399.9 L663.5 395.5 L664.4 394.3 L665.3 396.3 L666.1 394.5 L667.0 396.4 L667.9 397.6 L668.7 392.1 L669.6 392.1 L670.5 397.9 L671.3 394.6 L672.2 396.5 L673.1 398.0 L673.9 392.9 L674.8 390.5 L675.7 392.2 L676.0 393.8" stroke="#7f7f7f"/>
<path d="M553.3 276.6 L554.2 293.0 L555.1 308.8 L555.7 319.9 L555.9 324.1 L556.8 339.7 L557.7 353.8 L558.0 358.3 L558.5 364.6 L559.4 374.2 L560.3 382.0 L561.0 387.0 L561.1 387.4 L562.0 391.1 L562.9 394.0 L563.7 395.9 L563.8 396.8 L564.6 397.5 L565.5 399.0 L566.3 399.2 L566.8 398.9 L567.2 399.2 L568.1 400.5 L568.9 400.8 L569.8 400.6 L570.7 400.7 L571.5 401.0 L572.4 401.6 L573.3 401.5 L574.1 401.3 L575.0 400.3 L575.9 400.1 L576.7 400.8 L577.6 401.0 L578.5 401.2 L579.3 401.9 L580.2 402.3 L581.1 401.5 L581.6 400.6 L581.9 400.5 L582.8 401.3 L583.7 401.5 L584.5 400.8 L585.4 400.7 L586.3 401.2 L587.1 402.1 L588.0 402.2 L588.9 402.3 L589.7 402.1 L590.6 401.7 L591.5 401.7 L592.3 402.7 L593.2 403.5 L594.1 402.6 L594.9 402.1 L595.8 402.3 L596.7 401.8 L597.1 401.1 L597.5 403.0 L598.4 403.8 L599.3 402.4 L600.1 402.0 L601.0 402.0 L601.9 401.7 L602.7 402.0 L603.6 401.7 L604.5 401.1 L605.3 400.4 L606.2 400.4 L607.1 401.2 L607.9 400.8 L608.8 400.6 L609.7 400.7 L610.5 400.6 L611.4 401.7 L612.3 402.2 L613.1 400.6 L614.0 399.5 L614.9 400.9 L615.3 401.8 L615.7 400.8 L616.6 401.4 L617.5 400.3 L618.3 400.1 L619.2 401.4 L620.1 401.9 L620.9 402.3 L621.8 400.9 L622.7 400.3 L623.5 399.8 L624.4 399.5 L625.3 400.0 L626.1 400.0 L627.0 399.7 L627.9 401.2 L628.7 400.2 L629.6 397.6 L630.5 398.9 L631.3 398.3 L632.2 396.1 L633.1 398.0 L633.9 398.1 L634.8 396.6 L635.7 397.4 L636.5 398.5 L637.4 398.4 L638.3 396.8 L639.1 395.7 L639.6 398.3 L640.0 398.4 L640.9 397.5 L641.7 394.2 L642.6 395.9 L643.5 400.5 L644.3 397.2 L645.2 399.8 L646.1 401.9 L646.9 398.6 L647.8 397.7 L648.7 396.4 L649.5 396.0 L650.4 397.4 L651.3 397.5 L652.1 394.3 L653.0 392.8 L653.9 397.4 L654.7 394.2 L655.6 393.2 L656.5 395.9 L657.3 396.3 L657.8 392.0 L658.2 387.6 L659.1 389.5 L659.9 392.2 L660.8 395.4 L661.7 396.6 L662.5 393.2 L663.4 395.7 L664.3 401.3 L665.1 395.8 L666.0 389.7 L666.9 393.2 L667.7 397.1 L668.6 394.6 L669.5 393.1 L670.3 394.4 L671.2 392.0 L672.1 391.8 L672.9 394.1 L673.8 394.7 L674.7 394.9 L675.5 394.7 L676.0 391.6" stroke="#bcbd22"/>
<path d="M559.5 274.2 L560.4 290.7 L561.3 307.5 L561.9 319.9 L562.1 324.7 L563.0 343.7 L563.8 358.3 L563.9 359.5 L564.7 371.2 L565.6 379.4 L565.6 379.4 L566.5 384.2 L567.1 387.0 L567.3 387.9 L568.2 391.6 L569.1 394.7 L569.5 396.0 L569.9 397.6 L570.8 398.8 L571.7 399.9 L572.5 400.8 L572.9 401.3 L573.4 401.4 L574.3 401.6 L575.1 402.9 L576.0 403.2 L576.9 403.6 L577.3 404.4 L577.7 404.3 L578.6 403.9 L579.5 403.5 L580.3 404.0 L581.2 404.4 L582.1 403.6 L582.9 404.1 L583.8 403.9 L584.7 402.6 L585.5 403.3 L586.4 403.4 L587.3 403.0 L588.1 403.8 L589.0 403.6 L589.9 403.8 L590.7 403.2 L591.1 402.2 L591.6 403.0 L592.5 403.8 L593.3 404.0 L594.2 402.8 L595.1 402.2 L595.9 402.8 L596.8 402.8 L597.7 402.1 L598.5 401.7 L599.4 402.0 L600.3 401.2 L601.1 401.3 L602.0 401.2 L602.9 400.8 L603.2 401.1 L603.7 401.2 L604.6 400.8 L605.5 399.7 L606.3 399.6 L607.2 399.0 L608.1 398.3 L608.9 398.3 L609.8 398.9 L610.7 399.0 L611.5 398.4 L612.4 398.5 L613.3 398.3 L614.1 398.1 L615.0 397.7 L615.3 398.0 L615.9 396.9 L616.7 395.5 L617.6 397.7 L618.5 398.1 L619.3 396.0 L620.2 395.4 L621.1 396.3 L621.9 397.5 L622.8 397.6 L623.7 397.0 L624.5 396.0 L625.4 396.0 L626.3 395.8 L627.1 393.6 L627.5 392.1 L628.0 394.3 L628.9 394.9 L629.7 394.8 L630.6 399.0 L631.5 397.9 L632.3 394.5 L633.2 392.8 L634.1 392.1 L634.9 392.1 L635.8 391.8 L636.6 392.7 L636.7 391.3 L637.5 387.8 L638.4 386.0 L639.3 383.8 L640.1 384.1 L640.2 387.6 L641.0 386.1 L641.9 385.2 L642.7 386.2 L643.2 388.7 L643.6 390.0 L644.5 389.4 L645.3 390.5 L646.2 392.7 L646.9 395.3 L647.1 396.9 L647.9 395.4 L648.8 388.8 L649.7 385.9 L650.5 387.9 L651.4 382.2 L652.3 378.5 L652.3 379.4 L653.1 379.4 L654.0 383.9 L654.9 389.5 L655.4 391.8 L655.7 393.5 L656.6 392.4 L657.5 387.9 L658.3 387.2 L659.0 389.1 L659.2 386.2 L660.1 381.9 L660.9 384.0 L661.8 387.4 L662.7 390.4 L663.5 392.2 L663.9 391.2 L664.4 393.1 L665.3 394.8 L666.1 394.9 L667.0 395.0 L667.9 398.6 L668.7 399.4 L668.7 397.1 L669.6 396.4 L670.5 393.3 L671.3 389.7 L672.2 388.9 L673.1 387.4 L673.6 385.4 L673.9 386.0 L674.8 384.6 L675.7 384.6 L676.0 387.8" stroke="#17becf"/>
</g>
<line x1="591.07" y1="406.5" x2="591.07" y2="256.2" stroke="#777" stroke-width="1.6" stroke-dasharray="5.5 2.8"/>
<rect x="494.0" y="256.2" width="182.0" height="150.3" fill="none" stroke="#000" stroke-width="1.45"/>
<path d="M494.00 406.5v5.4M554.67 406.5v5.4M615.33 406.5v5.4M676.00 406.5v5.4M494.0 406.50h-5.4M494.0 368.93h-5.4M494.0 331.35h-5.4M494.0 293.77h-5.4M494.0 256.20h-5.4" stroke="#000" stroke-width="1.4" fill="none"/>
<text x="483.69" y="429.00" font-size="16.8" textLength="20.18" lengthAdjust="spacingAndGlyphs">20</text>
<text x="544.55" y="429.00" font-size="16.8" textLength="19.99" lengthAdjust="spacingAndGlyphs">30</text>
<text x="605.58" y="429.00" font-size="16.8" textLength="19.61" lengthAdjust="spacingAndGlyphs">40</text>
<text x="665.88" y="429.00" font-size="16.8" textLength="19.99" lengthAdjust="spacingAndGlyphs">50</text>
<text x="495.55" y="248.40" font-size="16.2" textLength="18.07" lengthAdjust="spacingAndGlyphs">(f)</text>
<text x="573.84" y="247.10" font-size="17.2" textLength="21.86" lengthAdjust="spacingAndGlyphs">GE</text>
<text transform="translate(11.9,220.50) rotate(-90)" x="-1.42" y="0" font-size="15.5" textLength="158.26" lengthAdjust="spacingAndGlyphs">Proportion receiving</text>
<text transform="translate(29.2,228.90) rotate(-90)" x="-1.18" y="0" font-size="15.5" textLength="173.10" lengthAdjust="spacingAndGlyphs">nutritional component</text>
<text transform="translate(11.9,408.70) rotate(-90)" x="-1.42" y="0" font-size="15.5" textLength="158.26" lengthAdjust="spacingAndGlyphs">Proportion receiving</text>
<text transform="translate(29.2,417.10) rotate(-90)" x="-1.18" y="0" font-size="15.5" textLength="173.10" lengthAdjust="spacingAndGlyphs">nutritional component</text>
<text x="102.09" y="450.60" font-size="15.6" textLength="146.65" lengthAdjust="spacingAndGlyphs">Postmenstrual age</text>
<text x="144.15" y="467.40" font-size="15.6" textLength="61.21" lengthAdjust="spacingAndGlyphs">(weeks)</text>
<text x="306.59" y="450.60" font-size="15.6" textLength="146.65" lengthAdjust="spacingAndGlyphs">Postmenstrual age</text>
<text x="348.65" y="467.40" font-size="15.6" textLength="61.21" lengthAdjust="spacingAndGlyphs">(weeks)</text>
<text x="511.59" y="450.60" font-size="15.6" textLength="146.65" lengthAdjust="spacingAndGlyphs">Postmenstrual age</text>
<text x="553.65" y="467.40" font-size="15.6" textLength="61.21" lengthAdjust="spacingAndGlyphs">(weeks)</text>
</svg></body></html>
